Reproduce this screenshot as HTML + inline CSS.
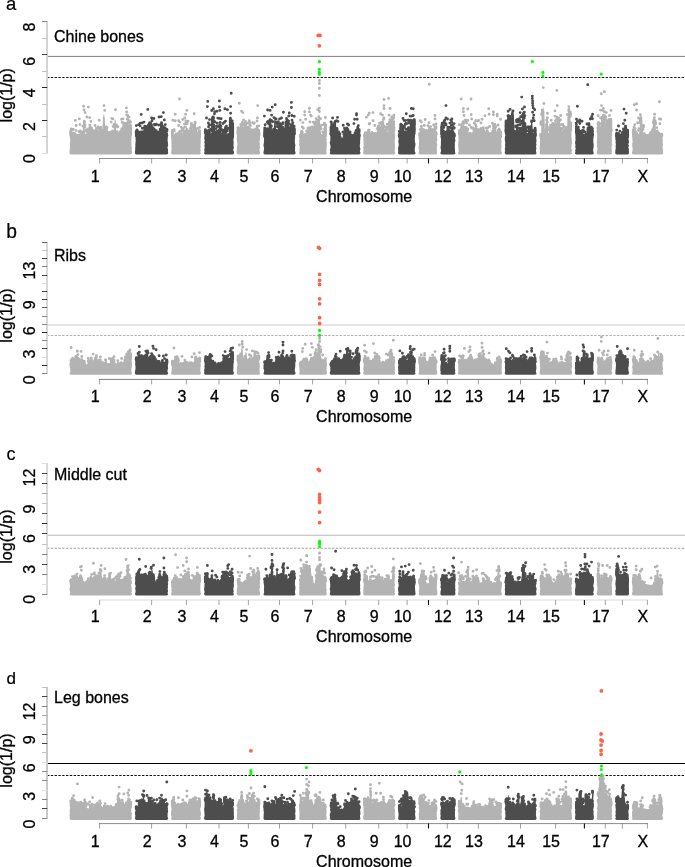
<!DOCTYPE html>
<html lang="en">
<head>
<meta charset="utf-8">
<title>Manhattan plots</title>
<style>
html,body{margin:0;padding:0;background:#fff;}
body{width:685px;height:867px;overflow:hidden;}
svg{display:block;}
.t{font-family:"Liberation Sans",Arial,Helvetica,sans-serif;font-size:16px;fill:#000;stroke:#000;stroke-width:.3px;}
.l{font-family:"Liberation Sans",Arial,Helvetica,sans-serif;font-size:18.5px;fill:#000;stroke:#000;stroke-width:.2px;}
</style>
</head>
<body>
<svg width="685" height="867" viewBox="0 0 685 867">
<rect width="685" height="867" fill="#fff"/>
<g id="panel-a">
<line x1="47" x2="685" y1="56.4" y2="56.4" stroke="#808080" stroke-width="1.0"/>
<line x1="47" x2="685" y1="77.5" y2="77.5" stroke="#1a1a1a" stroke-width="1.0" stroke-dasharray="2.4 1.4"/>
<path d="M71 154.6L69.9 154.1L69.5 153L69.7 152.1L69.5 150.6L69.9 148.8L69.9 146.7L69.9 144.7L69.9 142.7L70.3 141.2L70.2 138.9L69.8 136.9L69.7 135.3L69.5 133.4L70 133.4L70.6 133.5L71.1 133.8L71.7 133.6L72.2 133.6L72.8 133.8L73.3 134.7L73.9 135.6L74.4 135L75 134.9L75.5 135L76.1 135.4L76.6 135.3L77.2 135.3L77.7 134.5L78.3 134L78.8 133.8L79.4 134.2L79.9 134.7L80.5 134.7L81 134.3L81.6 135.3L82.1 134.8L82.7 130.4L83.2 120.2L83.8 119.4L84.3 122L84.9 131.7L85.4 135.2L86 134.6L86.5 133.8L87.1 133.7L87.6 133L88.2 132.5L88.7 132.5L89.3 132.3L89.8 131.9L90.4 132.6L90.9 132.4L91.5 132.9L92 133.5L92.6 133.6L93.1 133.9L93.7 134.3L94.2 134L94.8 134.9L95.3 135.1L95.9 135.4L96.4 135.1L97 135.5L97.5 134.9L98.1 133.3L98.6 132.8L99.2 132.4L99.7 133.3L100.3 133.6L100.8 134.4L101.4 134.4L101.9 134.5L102.5 130.4L103 117.2L103.6 114.8L104.1 114.4L104.7 117.9L105.2 129.6L105.8 134.6L106.3 134.4L106.9 135.1L107.4 135.4L108 135.5L108.5 134.9L109.1 135.1L109.6 135.5L110.2 135.3L110.7 135L111.3 135.2L111.8 134L112.4 133.4L112.9 131.5L113.5 130.6L114 129.7L114.6 120.2L115.1 119.5L115.7 119.9L116.2 131.4L116.8 133.9L117.3 134.9L117.9 135.1L118.4 135.2L119 135.2L119.5 134.9L120.1 134.8L120.6 135.5L121.2 135L121.7 135.5L122.3 135L122.8 134.6L123.4 133.8L123.9 133.3L124.5 132.8L125 132L125.6 131.3L126.1 131.2L126.7 130.9L127.2 129.7L127.8 129L128.3 120.8L128.9 130.1L129.4 131.8L130 132.7L130.5 133.2L131.1 133.7L131.6 133.4L132 133.5L131.8 135L131.5 136.5L131.5 138.4L131.3 139.9L131.4 142.2L131.5 144.4L131.5 145.7L131.9 147.8L131.7 149.6L131.9 151.2L132 153L131.6 154.1L130.5 154.6Z" fill="#b3b3b3"/>
<path d="M71 134.8V130.5M71 134.8V132.9M71 134.9V132.1M72.8 135.1V134.2M75 136.2V134.3M81.6 135.9V132.4M82.1 135.9V132.5M84.3 122.6V121.6M89.8 133.3V127.8M90.9 133.7V129.2M94.2 135.3V134.6M94.8 135.8V133.3M95.3 136.2V135.5M95.9 136.2V131.9M96.4 136.2V129M98.6 133.8V133.1M99.7 134.4V129.7M100.8 135.1V131.4M106.3 135.7V127M107.4 136.2V135.1M108 136.2V132.4M108.5 136.2V133M109.1 136.2V134.8M109.6 136.2V135.2M110.2 136.2V133.2M117.3 136.2V131.7M119.5 136.2V134.1M120.6 136.2V134.1M121.2 136.2V131.6M123.9 134.4V123.2M125.6 132.6V124.2M126.7 131.6V123.3M127.2 130.8V127.9M128.3 122.1V120.9M128.9 131.3V129.5M130.5 134.6V132.6M130.6 134.6V125.7M130.6 134.6V133.2" stroke="#b3b3b3" stroke-width="2.9" stroke-linecap="round" fill="none"/>
<path d="M136.4 154.6L135.3 154.1L134.9 153L134.9 152.1L135.2 150.1L135.2 148.1L135.4 146.6L135.3 144.5L135.5 142.8L135.7 140.5L135.5 139.1L135.6 137L135.4 135L134.9 133.1L135.5 133.5L136 134.2L136.6 135.2L137.1 135.5L137.7 135.4L138.2 135L138.8 134.9L139.3 135.6L139.9 134.1L140.4 132.6L141 132.9L141.5 132.5L142.1 133.4L142.6 133.3L143.2 134.3L143.7 134.7L144.3 134.8L144.8 134.3L145.4 134.1L145.9 133.4L146.5 133.3L147 132.8L147.6 132.8L148.1 132.4L148.7 132.4L149.2 132.7L149.8 132.4L150.3 132L150.9 132.2L151.4 132.4L152 132.8L152.5 132.4L153.1 132.8L153.6 132.4L154.2 132.7L154.7 132.1L155.3 131.9L155.8 132L156.4 132.4L156.9 134L157.5 135.6L158 134.9L158.6 134.8L159.1 135.3L159.7 135L160.2 135.1L160.8 133.8L161.3 131.8L161.9 131.5L162.4 131.1L163 131.6L163.5 132.6L164.1 133.6L164.6 134L165.2 134.5L165.7 135.5L166.3 135.1L166.8 135.6L167.4 135.6L167.9 134.8L168.2 135.1L167.9 136.6L167.7 138.6L167.6 140.7L167.9 142.2L168 144.1L168.2 145.6L167.4 147.5L168.1 149.8L167.9 151.8L168.2 153L167.8 154.1L166.7 154.6Z" fill="#4d4d4d"/>
<path d="M136.3 133.7V131.4M137.7 136.2V132.9M138.2 136.2V131.6M141 133.5V132M142.1 134.1V131.9M143.7 135.5V131.8M144.8 135.5V127.6M145.9 134.8V126.8M147 133.8V128.5M148.7 133.4V127.7M149.8 133.4V132.3M150.3 133.4V125M150.9 133.5V132.5M151.4 133.6V125.1M152.5 133.8V132.2M153.1 133.9V128.3M154.2 133.4V129.2M155.8 133V132M158 136.2V132.1M159.7 136.2V134.8M160.2 136.2V129.3M161.3 133V125.1M163 132.7V128.4M165.7 136.2V135.5" stroke="#4d4d4d" stroke-width="2.9" stroke-linecap="round" fill="none"/>
<path d="M172.5 154.6L171.4 154.1L171 153L171.4 152.1L171.2 150.4L171.7 148.3L171.3 146.7L171.6 144.8L171.3 142.5L171.4 140.5L171.1 138.4L171.1 137L171.2 134.7L171 133.2L171.6 133.7L172.1 134.5L172.7 135.5L173.2 135L173.8 135.6L174.3 135.5L174.9 135.6L175.4 135.5L176 135.6L176.5 135.7L177.1 135L177.6 135L178.2 135.5L178.7 134.2L179.3 133.4L179.8 133.1L180.4 133.4L180.9 134.7L181.5 134.3L182 135L182.6 134.9L183.1 134L183.7 133.1L184.2 132.1L184.8 130.6L185.3 129.5L185.9 129.8L186.4 122.8L187 129.5L187.5 130.6L188.1 132.6L188.6 134.3L189.2 134L189.7 132.9L190.3 131.9L190.8 131.7L191.4 130.8L191.9 131.5L192.5 131.2L193 132L193.6 132.7L194.1 134L194.7 134.1L195.2 133.9L195.8 135.3L196.3 135.1L196.9 135.5L197.4 135.6L198 135L198.5 135.1L199.1 135.4L199.6 135.3L200.2 134.7L200.7 133.3L201 133L201 134.5L200.9 136L200.8 137.6L200.6 139.8L200.9 141.5L200.7 143L200.5 145L200.8 147L200.3 148.8L200.7 150.6L200.3 152.5L201 153L200.6 154.1L199.5 154.6Z" fill="#b3b3b3"/>
<path d="M172.4 134.2V131.5M176.5 136.2V135.6M177.1 136.2V135.6M178.2 136.2V133.5M179.8 133.8V131.6M187 130.4V129.5M188.6 135.5V134.6M189.2 134.8V131.1M193.6 133.7V126.6M194.1 134.6V125.3M194.7 135.1V131.5M195.8 135.9V129.1M196.3 136.2V134M196.9 136.2V135.4M198 136.2V134.1M199.1 136.2V135.3M199.6 136.2V133.7M199.6 134.1V131.1" stroke="#b3b3b3" stroke-width="2.9" stroke-linecap="round" fill="none"/>
<path d="M205.5 154.6L204.4 154.1L204 153L204.6 152.1L204.3 150.1L204.5 148.1L204.7 146.7L204.3 145.3L204.8 143.9L204.2 142.4L204.7 140.7L204.2 138.5L204.4 136.5L204.6 134.7L204 132.8L204.6 132.7L205.1 132.2L205.7 131.8L206.2 131.2L206.8 131.6L207.3 131.3L207.9 132L208.4 132.4L209 133.2L209.5 134.6L210.1 134.5L210.6 134.7L211.2 133.4L211.7 131.1L212.3 130L212.8 128.5L213.4 117.5L213.9 128.5L214.5 130.7L215 132.6L215.6 135.4L216.1 135.1L216.7 135.4L217.2 135.3L217.8 134.5L218.3 132.8L218.9 131.5L219.4 130.7L220 131.8L220.5 133.1L221.1 134.7L221.6 134.8L222.2 135.4L222.7 134.8L223.3 134.8L223.8 134.5L224.4 133L224.9 131.7L225.5 131.7L226 132.8L226.6 135.2L227.1 135.5L227.7 135.2L228.2 135.5L228.8 135.5L229.3 135.5L229.9 133.7L230.4 131.9L231 131.8L231.5 131.8L232.1 134.6L232.6 135.1L233.2 135L233.7 135.2L234 135.6L234 137.1L233.6 138.6L233.4 140.2L233.7 142.2L233.5 144.3L233.6 146.3L233.9 148L233.2 149.8L234 152L234 153L233.6 154.1L232.5 154.6Z" fill="#4d4d4d"/>
<path d="M207.3 132.4V131M207.9 132.8V132.1M209.5 135.3V133.1M212.3 130.9V118.5M212.8 129.5V123M213.4 118.8V117.6M213.9 129.8V125.3M215 133.9V131.8M216.7 136.2V135M219.4 132.1V131.1M220 132.5V125M224.9 133V131.8M225.5 132.9V127.5M228.8 136.2V134.6M230.4 133.3V118.1M232.6 136.2V123.5M232.6 136.2V131.8" stroke="#4d4d4d" stroke-width="2.9" stroke-linecap="round" fill="none"/>
<path d="M238.2 154.6L237.1 154.1L236.7 153L236.7 152.1L236.8 150.1L237.1 148.7L236.8 147.4L237.1 145.7L237.5 144.3L237.1 142.2L237 140.3L236.8 138L236.9 136.4L237.1 134.2L236.7 132.6L237.2 132.7L237.8 133.3L238.4 133.6L238.9 134L239.5 134.7L240 134.7L240.6 133.7L241.1 132.4L241.7 131.3L242.2 130.1L242.8 129.4L243.3 129.1L243.9 129.6L244.4 129.8L245 130.7L245.5 131L246.1 132.6L246.6 132.7L247.2 132.4L247.7 131.3L248.3 130.9L248.8 130.5L249.4 130.5L249.9 130.7L250.5 131.7L251 132.4L251.6 133L252.1 134.5L252.7 135.5L253.2 135L253.8 135.6L254.3 135L254.9 134.8L255.4 134.4L256 133.1L256.5 132.1L257.1 130.9L257.6 131.4L258.2 131.8L258.7 133.4L259.3 133.4L259.8 134.5L260.2 134.6L259.7 136.1L260.1 137.6L259.9 139.3L259.8 140.7L259.5 142.1L259.9 144.2L259.6 145.9L260.2 147.3L259.4 148.9L259.6 150.2L259.9 152.4L260.2 153L259.8 154.1L258.7 154.6Z" fill="#b3b3b3"/>
<path d="M238.1 133.5V127.6M238.1 133.7V132.4M240 135.2V131.5M241.1 133.4V126.8M241.7 132.3V127.9M242.8 130.6V129M243.3 130.3V128.1M245 131.4V128.7M245.5 132.2V121.5M246.1 133.3V131.2M247.2 133.3V131.4M247.7 132.7V131.3M248.3 132V130.8M251 133.5V130.8M251.6 134.3V132.2M253.8 136.2V131.9M256 133.9V130M256.5 132.8V129.3M257.1 132.1V128.2M258.2 133.2V130.1M258.8 134.8V133.2M258.8 135.2V132.1M258.8 135.4V134.1" stroke="#b3b3b3" stroke-width="2.9" stroke-linecap="round" fill="none"/>
<path d="M264.9 154.6L263.8 154.1L263.4 153L263.5 152.1L263.9 150.1L264.1 148.1L263.6 146.5L263.5 144.6L263.9 142.9L263.9 141L264.1 139.2L263.6 137L263.4 135.7L263.9 135.4L264.5 134.8L265.1 133.7L265.6 131.8L266.2 131L266.7 130.8L267.3 131.3L267.8 131.2L268.4 131L268.9 131.1L269.5 130.9L270 131L270.6 131.3L271.1 132.3L271.7 132.3L272.2 132.2L272.8 131.6L273.3 131L273.9 129L274.4 117.1L275 116.6L275.5 117L276.1 130.8L276.6 134.8L277.2 135.5L277.7 135.2L278.3 134.9L278.8 135.6L279.4 135L279.9 135.5L280.5 135.1L281 134.9L281.6 135.4L282.1 135.3L282.7 135.2L283.2 135L283.8 135.2L284.3 135.2L284.9 135.4L285.4 134.9L286 131.8L286.5 130.9L287.1 130.4L287.6 131.9L288.2 131.2L288.7 131.5L289.3 131.6L289.8 131.7L290.4 131.3L290.9 131.6L291.5 131.4L292 131.1L292.6 131.3L293.1 131.5L293.7 132.5L294.2 132.9L294.8 133.4L295.3 133L295.6 133.1L295.2 134.6L295.1 136.6L295.1 138.2L294.9 139.6L294.8 141.9L295.1 144.1L295.5 145.5L294.9 146.9L295.2 148.8L294.9 150.4L295.5 152.2L295.6 153L295.2 154.1L294.1 154.6Z" fill="#4d4d4d"/>
<path d="M264.8 136.2V128M270 132V119.6M271.7 133.6V130.8M276.1 132V130.3M277.2 136.2V134.8M279.4 136.2V128.9M279.9 136.2V132.9M280.5 136.2V123.8M281 136.2V133.4M282.7 136.2V127.9M284.3 136.2V130.3M286 132.8V121.9M286.5 131.5V126.2M287.1 131.5V120.7M287.6 132.9V121.3M288.2 132.6V128.2M290.9 132.3V125M292 132V129.6M294.2 134V129.1M294.2 134V131.6M294.2 134.1V130.7M294.2 134.1V128.6" stroke="#4d4d4d" stroke-width="2.9" stroke-linecap="round" fill="none"/>
<path d="M300.5 154.6L299.4 154.1L299 153L299.6 152.1L299.5 150.4L299.5 148.8L299.7 146.6L299 144.5L299.4 142.8L299 140.8L299.5 138.9L299.2 136.7L299 134.8L299.6 135.4L300.1 134.9L300.7 135.5L301.2 135L301.8 134.8L302.3 135.5L302.9 135.1L303.4 135.4L304 135.1L304.5 134.9L305.1 135.1L305.6 135.4L306.2 135.5L306.7 135L307.3 134.5L307.8 133.2L308.4 133.1L308.9 133.2L309.5 133.4L310 132.6L310.6 133.2L311.1 132.6L311.7 133L312.2 133.9L312.8 135L313.3 135.2L313.9 134.8L314.4 135.6L315 135.3L315.5 132.8L316.1 130.6L316.6 129.2L317.2 119.1L317.7 118.4L318.3 118.5L318.8 118.6L319.4 119.6L319.9 119.8L320.5 130L321 132.9L321.6 135.4L322.1 135.4L322.7 135.3L323.2 134.9L323.8 135L324.3 135L324.9 133.5L325.4 132.3L326 131L326.5 131.8L326.9 132L326.5 133.5L326.8 135L326.2 136.7L326.7 139L326.5 140.9L326.8 142.6L326.8 144.7L326.7 146.2L326.7 147.7L326.5 149.1L326.4 150.6L326.4 152.5L326.9 153L326.5 154.1L325.4 154.6Z" fill="#b3b3b3"/>
<path d="M300.4 136.2V135.5M301.2 136.2V134.2M301.8 136.2V131.1M304.5 136.2V134.8M305.1 136.2V134.5M305.6 136.2V135.3M308.9 134.2V128.8M310 134V133.2M312.2 135V134M312.8 136V127M314.4 136.2V135.6M315 136.1V134.6M315.5 134.1V122.1M316.6 130.2V126.9M324.9 134.2V131.3M325.4 133.1V132.4M325.4 132.7V124.7" stroke="#b3b3b3" stroke-width="2.9" stroke-linecap="round" fill="none"/>
<path d="M331.2 154.6L330.1 154.1L329.7 153L330.3 152.1L329.8 150.1L330.5 147.8L330.5 146L330 144.1L329.7 142.7L330.3 140.8L330.3 138.9L330.3 137.2L330.2 135.3L329.7 133.8L330.2 134.2L330.8 133.1L331.4 132.9L331.9 132.1L332.5 131.6L333 131.2L333.6 131.5L334.1 130.7L334.7 131.1L335.2 129.9L335.8 130L336.3 130.1L336.9 130L337.4 131.1L338 131.2L338.5 131.3L339.1 131.5L339.6 132.7L340.2 134.5L340.7 135.2L341.3 136.1L341.8 138.6L342.4 138.8L342.9 136L343.5 135L344 134.4L344.6 132.9L345.1 130.1L345.7 130.9L346.2 130.7L346.8 130.8L347.3 131L347.9 130.1L348.4 130.9L349 131.9L349.5 134.8L350.1 135.5L350.6 135.3L351.2 134.9L351.7 135.7L352.3 135.5L352.8 135.4L353.4 135.2L353.9 133.7L354.5 133L355 131.8L355.6 131.7L356.1 131.8L356.7 132.1L357.2 132.4L357.8 133L358.3 133.6L358.9 134.7L359.4 135.1L360 135.5L360.5 134.9L359.9 136.4L360.4 137.8L360.3 139.6L360.1 141.6L360.2 143.5L359.8 144.8L359.8 146.5L360.2 147.9L360.4 149.7L359.8 151.1L360.5 153L360.1 154.1L359 154.6Z" fill="#4d4d4d"/>
<path d="M331.1 134.4V127.1M331.4 133.8V131.6M332.5 132.6V128.5M333 132.3V128.5M333.6 132.1V127.1M334.1 131.9V129.9M334.7 131.7V122.6M336.3 130.7V129.1M336.9 131.3V128.4M344.6 133.5V132.1M345.7 131.7V130.5M346.2 131.6V130.3M346.8 131.7V128M347.9 131.4V129.4M350.6 136.2V134.7M356.1 132.5V130.4M357.8 134.3V133.2M358.3 135V133.8M358.9 136V130.7M359.1 136.2V134.5" stroke="#4d4d4d" stroke-width="2.9" stroke-linecap="round" fill="none"/>
<path d="M364.6 154.6L363.5 154.1L363.1 153L363.3 152.1L363.5 150L363.4 148.4L363.1 147.1L363.9 145.8L363.5 143.6L363.5 141.4L363.2 139.4L363.6 137.7L363.1 135.2L363.7 135.2L364.2 135.5L364.8 135.5L365.3 134.5L365.9 133.5L366.4 132.9L367 133L367.5 133.6L368.1 133.6L368.6 133.7L369.2 133.2L369.7 133.1L370.3 133.2L370.8 133.5L371.4 133.5L371.9 134.1L372.5 134.8L373 135.1L373.6 134.7L374.1 135.1L374.7 135.2L375.2 135.1L375.8 135.1L376.3 135.5L376.9 135.2L377.4 133.8L378 133.2L378.5 131.8L379.1 132.1L379.6 132.3L380.2 132.1L380.7 132.5L381.3 131.7L381.8 131.3L382.4 130.4L382.9 129.8L383.5 121.7L384 129.4L384.6 131.1L385.1 132.5L385.7 134.2L386.2 135.6L386.8 134.8L387.3 135.3L387.9 134.5L388.4 132.7L389 131.3L389.5 129.9L390.1 119.8L390.6 119.3L391.2 118.2L391.7 117.8L392.3 117.7L392.8 117.5L393.4 117.6L393.9 129.2L394.5 129.7L395 129.8L395.2 129.7L394.8 131.2L394.6 132.6L395.1 134.6L395.1 136.5L395.1 138.3L394.8 139.9L394.7 141.8L394.9 144L395 145.7L394.9 147.7L395 149.2L394.5 150.9L395.2 153L394.8 154.1L393.7 154.6Z" fill="#b3b3b3"/>
<path d="M364.6 136.2V135.6M364.6 136.2V135.2M364.8 136.2V134.6M365.3 135.5V132.8M367 134.3V133.5M367.5 134.4V132.8M368.6 134.6V130.3M374.1 135.8V135.1M375.8 136.2V134.3M378.5 133.2V126.3M380.2 133.3V128.1M382.4 131.4V122M382.9 130.4V126.5M384.6 131.7V130.3M385.1 133.6V131.1M385.7 135.6V129.7M386.8 136.2V133.3M389.5 130.5V122.1M392.8 118.5V117.4M393.8 130.5V127.6M393.8 130.4V127.2" stroke="#b3b3b3" stroke-width="2.9" stroke-linecap="round" fill="none"/>
<path d="M399.5 154.6L398.4 154.1L398 153L398.2 152.1L398.2 150.5L398 148.6L398.2 147L398.7 145.6L398.7 143.6L398.2 142.1L398.4 140.5L398.7 138.4L398 136.2L398 135L398.6 135L399.1 135.5L399.7 134.5L400.2 133.8L400.8 133.2L401.3 133.1L401.9 133.2L402.4 133.2L403 132.5L403.5 132.4L404.1 131.6L404.6 131.9L405.2 131.8L405.7 130.9L406.3 131.7L406.8 131.5L407.4 132L407.9 132.8L408.5 132.5L409 131.7L409.6 130.7L410.1 129.8L410.7 128.5L411.2 128.3L411.8 129.3L412.3 130.8L412.9 132.6L413.4 133.4L414 133.7L414.5 131.9L415.1 131.2L415.6 130.2L415.3 131.7L415.2 133.1L415 134.9L415 137L414.8 138.3L414.8 140L415 142.2L415.5 143.8L415.3 145.9L414.8 147.9L414.8 149.6L414.8 151.4L415.6 153L415.2 154.1L414.1 154.6Z" fill="#4d4d4d"/>
<path d="M399.4 136.2V135M399.4 136.2V134.5M400.2 134.4V133.5M400.8 134V125.3M401.9 134.4V125.3M402.4 134V130.5M403 133.6V127.9M407.9 134.2V132.1M408.5 133.3V128.2M411.2 129.6V123.1M411.8 130.6V120.6M413.4 134.1V126.6M414.2 131.1V120.3" stroke="#4d4d4d" stroke-width="2.9" stroke-linecap="round" fill="none"/>
<path d="M420 154.6L418.9 154.1L418.5 153L419 152.1L419.2 150.2L418.7 148.8L418.5 146.8L419 145.2L418.9 143L419.1 141.2L418.9 139.5L418.5 138.2L418.8 136.7L418.5 134.5L419.1 134.6L419.6 134.4L420.2 133.8L420.7 133.4L421.3 132.7L421.8 132L422.4 132L422.9 131.5L423.5 132.1L424 132.5L424.6 133.3L425.1 134L425.7 133.8L426.2 134.5L426.8 134.2L427.3 133.8L427.9 133.4L428.4 132.3L429 132.5L429.5 132.8L430.1 132.7L430.6 134L431.2 134.6L431.7 135L432.3 133.4L432.8 132.2L433.4 131.4L433.9 130.5L434.5 130.5L435 131.7L435.6 132.2L436.1 133.8L436.7 133.5L437.2 133.9L437.4 134L437 135.5L437 136.9L437.1 138.4L437.4 140.3L436.6 141.9L436.9 143.3L437.3 145L436.8 147.1L436.9 148.7L436.9 150.6L436.8 152.4L437.4 153L437 154.1L435.9 154.6Z" fill="#b3b3b3"/>
<path d="M419.9 135.7V133.4M421.3 133.6V131M422.4 133V131.8M423.5 133.1V130.9M424.6 134V132.5M426.2 135.5V130.9M428.4 133.5V132.6M429.5 133.4V127.8M431.2 135.4V133.6M431.7 135.8V129.6M432.3 134.7V132.7M433.4 132.6V130.6M433.9 131.8V130.8M434.5 131.7V130.2M435.9 134.7V132.8" stroke="#b3b3b3" stroke-width="2.9" stroke-linecap="round" fill="none"/>
<path d="M441.8 154.6L440.7 154.1L440.3 153L440.8 152.1L441 150.8L440.9 149.4L440.5 147.1L440.9 145.6L440.9 144L440.9 142.2L441 140.2L441 138.5L440.4 136.7L440.8 134.6L440.3 132.7L440.9 132.8L441.4 133L442 132.5L442.5 130.7L443.1 130L443.6 129.3L444.2 129.6L444.7 130.1L445.3 133L445.8 134.2L446.4 134.8L446.9 135.5L447.5 135.5L448 135.1L448.6 134.9L449.1 134.1L449.7 132.7L450.2 131.3L450.8 130.6L451.3 130.2L451.9 130.2L452.4 130.5L453 130.5L453.5 132.1L454.1 134.7L454.6 134.8L455.2 135.5L455.5 135.4L455.2 136.9L454.9 138.5L455.5 140.6L454.8 142.7L454.9 144.8L454.8 146.4L454.8 148L455 150.1L455 152.2L455.5 153L455.1 154.1L454 154.6Z" fill="#4d4d4d"/>
<path d="M441.8 133.9V131.5M442 133.2V124.8M446.4 136.2V131.9M448 136.2V127.1M449.7 133.8V131.5M454.1 136.2V135.5M454.1 136.2V133.9" stroke="#4d4d4d" stroke-width="2.9" stroke-linecap="round" fill="none"/>
<path d="M459.4 154.6L458.3 154.1L457.9 153L458.6 152.1L458.5 150.1L458.4 148.7L458.4 147.2L458.2 145.1L458.4 143.6L458.3 142L458.7 140L458.4 138.2L458.5 136.1L458 134.1L457.9 132.7L458.4 132.7L459 133.2L459.6 132.5L460.1 132.2L460.7 132.5L461.2 131.8L461.8 132.4L462.3 133.4L462.9 134.2L463.4 134.4L464 134.5L464.5 134.6L465.1 133.4L465.6 132.1L466.2 131L466.7 130L467.3 130.5L467.8 131.9L468.4 133.9L468.9 135.1L469.5 135.3L470 135.4L470.6 135.6L471.1 135.6L471.7 135.6L472.2 135.4L472.8 133.5L473.3 133.6L473.9 132.9L474.4 131.4L475 131L475.5 130.4L476.1 131L476.6 132.5L477.2 134L477.7 133.7L478.3 133.6L478.8 133.5L479.4 132.3L479.9 131.9L480.5 131.5L481 130.8L481.6 131.1L482.1 132.6L482.7 133.9L483.2 133.7L483.8 133.7L484.3 134.1L484.9 134.3L485.4 134.7L486 133.7L486.5 133.8L487.1 133.5L487.6 133.5L488.2 133L488.7 133.8L489.3 135.5L489.8 134.9L490.4 135.2L490.9 135L491.5 135.5L492 135.6L492.6 135.3L493.1 134.6L493.7 133.1L494.2 132.9L494.8 132.9L495.3 132.8L495.9 132.7L496.4 132.8L497 132.8L497.5 132.8L498.1 134L498.6 134.1L499.2 134.9L499.7 134.8L500.3 135.4L500.8 135.1L501.4 135.3L501.9 134.9L502 135.4L501.8 136.9L501.2 139L501.5 140.4L501.6 141.9L501.4 143.8L501.4 145.9L501.4 148.1L501.2 149.8L501.4 151.5L502 153L501.6 154.1L500.5 154.6Z" fill="#b3b3b3"/>
<path d="M459.6 133.7V130.5M461.8 133.6V124.4M462.9 134.9V131.8M464 135.9V134.7M464.5 135.5V132.4M466.2 131.8V130M473.3 134.3V133.3M473.9 133.4V132.8M475 132V130.7M475.5 131.7V128.4M477.2 134.8V129.3M477.7 135.1V132.8M479.4 133.3V131.4M479.9 132.5V129.9M481.6 132.4V128.1M482.1 133.6V128.2M483.2 134.9V127.6M487.1 134.5V130.7M487.6 134.4V133.5M488.7 135V133.9M489.3 136.2V134.2M490.4 136.2V135.5M492 136.2V133.3M492.6 136.2V133.9M493.7 134.1V124.7M494.8 134V124.4M495.9 133.9V132.9M498.6 135.3V134.1M499.2 135.9V129.2M499.7 136.2V134.4M500.6 136.2V133.2" stroke="#b3b3b3" stroke-width="2.9" stroke-linecap="round" fill="none"/>
<path d="M506.2 154.6L505.1 154.1L504.7 153L504.9 152.1L505 149.9L504.8 148.4L505.3 146.7L505 144.9L505.3 143L504.9 140.8L504.8 138.6L504.9 137L505.4 135.2L504.7 133L505 131.3L504.7 130.1L505.2 130.7L505.8 130.6L506.4 129.9L506.9 130L507.5 130.1L508 129.9L508.6 129.6L509.1 129.7L509.7 129L510.2 129.3L510.8 128.2L511.3 115.3L511.9 114.2L512.4 113.8L513 113.6L513.5 113.3L514 116.4L514.6 134.5L515.1 133.7L515.7 132.9L516.2 131L516.8 130.7L517.3 130.1L517.9 130.3L518.4 130.7L519 130.8L519.5 130.8L520.1 129.9L520.6 129L521.2 128.8L521.7 128.1L522.3 114.1L522.8 114.6L523.4 114.7L523.9 115.3L524.5 116.5L525 128.6L525.6 129.1L526.1 130.4L526.7 132.6L527.2 133.5L527.8 135.2L528.3 134.8L528.9 135L529.4 135L530 133.9L530.5 131.7L531.1 122.1L531.6 121L532.2 120.4L532.7 130.1L533.3 133.6L533.8 135.2L534.4 135.7L534.9 134.9L535.5 135.5L536 135.2L536.6 134.5L536.4 136L536.2 138L536.4 139.5L536.5 141.3L536.1 143.1L536.5 144.4L536 146.5L536.4 148.6L536 150.2L536.1 152.3L536.6 153L536.2 154.1L535.1 154.6Z" fill="#4d4d4d"/>
<path d="M506.1 131.4V120.9M506.1 131.4V126.7M506.4 131.3V129.6M506.9 131V128.5M508 130.5V128.9M508.6 130.4V115.6M510.2 130V116.5M510.8 129.5V122M516.2 132.4V131.7M517.3 131.5V127.4M520.6 129.8V128.6M521.7 129.2V128.1M525 129.4V125.3M529.4 135.7V130.7M530 135.1V129.8M530.5 132.2V128.8M531.6 121.7V121M535.1 135.8V128.2" stroke="#4d4d4d" stroke-width="2.9" stroke-linecap="round" fill="none"/>
<path d="M541 154.6L539.9 154.1L539.5 153L540.1 152.1L539.9 150.1L539.7 148.3L539.7 146.3L540 144.6L539.8 142.7L540.2 140.6L539.7 138.7L539.8 136.6L539.5 135.2L539.5 133.1L540 133.8L540.6 135.1L541.1 134.4L541.7 114.1L542.2 112.4L542.8 111.6L543.3 110L543.9 106L544.4 113.9L545 133.7L545.5 135.1L546.1 135.5L546.6 135.1L547.2 134.8L547.7 133.1L548.3 132.8L548.8 132.7L549.4 132.9L549.9 134.1L550.5 134.2L551 132.6L551.6 131.9L552.1 131.6L552.7 130.8L553.2 130.2L553.8 130L554.3 130.6L554.9 130.3L555.4 129.9L556 129.4L556.5 119.1L557.1 118.9L557.6 119.2L558.2 129.1L558.7 129.1L559.3 130.4L559.8 130.7L560.4 130.7L560.9 131.2L561.5 131.9L562 131.9L562.6 132.6L563.1 133.2L563.7 134L564.2 135.5L564.8 135.2L565.3 134.8L565.9 135.1L566.4 135.1L567 132.3L567.5 116L568.1 111.7L568.6 112L569.2 112.6L569.7 112.2L570.3 115.7L570.8 129.4L571.4 128.9L571.9 129.6L572.1 129.1L571.6 130.6L571.4 132.5L571.5 134.7L571.3 136.6L571.7 138.5L571.8 140L571.9 141.6L572 143.2L571.7 144.6L571.5 146.3L571.4 148.4L572 150.6L571.4 152.5L572.1 153L571.7 154.1L570.6 154.6Z" fill="#b3b3b3"/>
<path d="M541 136.2V134.4M542.2 113.5V112.5M542.8 112.9V111.7M545.5 136.2V131.5M546.1 136.2V135M546.6 136.2V124.2M547.2 135.4V133.6M550.5 134.9V127M551 134V125.7M552.1 132.2V126.5M552.7 131.8V123.5M554.3 131.4V129.6M554.9 131.3V130.5M555.4 130.9V123.4M558.7 130.5V119M559.8 131.5V130.4M560.9 132.3V129.4M563.7 135.3V132.8M564.2 136.2V134.4M565.9 136.2V127.9M566.4 136.2V132.2M570.3 116.3V115.2M570.6 130.2V124.7" stroke="#b3b3b3" stroke-width="2.9" stroke-linecap="round" fill="none"/>
<path d="M576.4 154.6L575.3 154.1L574.9 153L575.4 152.1L575.2 150.4L575.7 148.5L575.2 147.1L575.5 145.1L575.1 143.2L575.1 141.9L575.6 140L575.4 138.1L575.5 136.4L575.3 134.2L575.3 132.2L574.9 131.2L575.4 131.3L576 131.2L576.5 131.2L577.1 131.6L577.6 131.4L578.2 131L578.7 131.2L579.3 131.8L579.8 131.4L580.4 131.8L580.9 132L581.5 132.8L582 134.2L582.6 135.2L583.1 135L583.7 135.1L584.2 135.1L584.8 135.1L585.3 135.5L585.9 135.2L586.4 135L587 132.5L587.5 132.2L588.1 131L588.6 123.4L589.2 122.8L589.7 121.8L590.3 123.5L590.8 130.4L591.4 132.3L591.9 132.8L592.5 133.8L593 133.8L593.6 134.3L593.9 134L593.6 135.5L593.6 137.4L593.2 139.4L593.4 140.7L593.3 142.6L593.7 144L593.7 146.3L593.4 148.4L593.1 150.1L593.4 152.3L593.9 153L593.5 154.1L592.4 154.6Z" fill="#4d4d4d"/>
<path d="M576.4 132.4V130.6M576.5 132.3V127.2M577.6 132.2V130.8M578.2 132.3V128.8M578.7 132.4V131.3M582 135V132.9M588.1 131.8V127.9M588.6 124.8V123.8M591.4 133V127.3M592.4 134.9V134.3" stroke="#4d4d4d" stroke-width="2.9" stroke-linecap="round" fill="none"/>
<path d="M598.2 154.6L597.1 154.1L596.7 153L596.9 152.1L597.3 150.1L597.5 147.9L596.7 146.5L597.3 144.3L596.8 142.7L597 140.8L597 139L597 137.4L597.2 135.3L597.1 133.3L596.7 131.4L597.2 131.1L597.8 130.7L598.3 130.7L598.9 130L599.4 129.7L600 129.2L600.5 128.8L601.1 118.3L601.6 117.3L602.2 117L602.7 116.8L603.3 116.6L603.8 115.6L604.4 115.6L604.9 115.7L605.5 129.2L606 129.6L606.6 130.4L607.1 129.8L607.7 129.3L608.2 128.9L608.8 128.6L609.3 128.9L609.9 129.1L610.4 130.1L611 130.8L611.5 130.9L612.1 130.3L612.3 131.1L611.8 132.6L612.1 134.5L611.8 136.4L611.9 137.9L611.8 139.3L612.1 141L611.7 143L612.3 144.6L611.5 146.4L611.7 147.8L611.7 149.7L612 151.1L611.5 152.4L612.3 153L611.9 154.1L610.8 154.6Z" fill="#b3b3b3"/>
<path d="M598.2 132V128.8M599.4 130.7V126.5M600 130.2V129.2M602.2 118.1V117.4M603.8 116.9V115.8M604.9 117V115.9M606.6 131.7V121.6M607.1 131.2V121.5M607.7 130.6V126.4M608.8 129.6V127.8M609.3 129.5V120M610.8 131.6V119.1" stroke="#b3b3b3" stroke-width="2.9" stroke-linecap="round" fill="none"/>
<path d="M616.7 154.6L615.6 154.1L615.2 153L615.3 152.1L615.4 149.9L615.8 148.1L615.6 146L615.9 144L615.5 142.5L615.8 140.7L615.2 138.8L615.5 137.3L615.2 134.8L615.8 135.2L616.3 135.3L616.8 134.7L617.4 134.5L617.9 134.6L618.5 134.3L619 134.7L619.6 134.8L620.1 135.1L620.7 135.5L621.2 135.1L621.8 135.4L622.3 135.2L622.9 133.5L623.4 131.3L624 130.1L624.5 123.8L625.1 129.9L625.6 131.2L626.2 134.5L626.7 135.5L627.3 134.9L627.8 134.8L628.4 135.6L628.9 135.2L629 134.4L628.3 135.9L629 137.4L628.4 138.8L628.9 141.1L629 142.4L628.3 144L628.9 146L628.3 147.5L628.9 149.1L628.8 150.7L629 153L628.6 154.1L627.5 154.6Z" fill="#4d4d4d"/>
<path d="M616.7 136.2V135.1M616.7 136.2V133.5M617.4 135.8V135.1M617.9 135.7V133.7M618.5 135.7V133.4M622.9 134.3V133.1M624 131.1V129.2M625.1 131.1V128.6M625.6 132.7V126.1M626.2 135.2V132.3M627.5 136.2V130.3" stroke="#4d4d4d" stroke-width="2.9" stroke-linecap="round" fill="none"/>
<path d="M633.4 154.6L632.3 154.1L631.9 153L632.1 152.1L632.4 150.7L632.7 149.2L632.4 147.1L632.2 145.1L632.2 143.4L632.7 141.6L632.3 140.1L632.5 138.7L632.1 136.4L632.3 134.6L631.9 133.3L632.4 132.8L633 133.5L633.5 133.6L634.1 133.2L634.6 133.6L635.2 133.3L635.7 135.1L636.3 135.4L636.8 134.8L637.4 135.6L637.9 135.5L638.5 135.6L639 134.2L639.6 130.4L640.1 118.8L640.7 117.3L641.2 117L641.8 116.7L642.3 120.1L642.9 130L643.4 133L644 135L644.5 135.2L645.1 135.8L645.6 135.4L646.2 135L646.7 135.2L647.3 134.9L647.8 135.6L648.4 135.3L648.9 135.6L649.5 135.6L650 135.2L650.6 135.7L651.1 135.5L651.7 133.4L652.2 130.6L652.8 124L653.3 121.9L653.9 119.7L654.4 119.5L655 120.7L655.5 122.8L656.1 131.7L656.6 134L657.2 135.4L657.7 134.6L658.3 133.9L658.8 133.2L659.4 133.2L659.9 133.3L660.5 133.6L661 134.2L661.6 134.8L662.1 135.7L662.7 135.3L663.2 134.9L662.7 136.4L662.5 138.7L662.9 140.3L662.5 142.6L663.1 144.5L662.6 145.9L662.7 147.6L662.7 149.1L663.1 150.9L663 152.3L663.2 153L662.8 154.1L661.7 154.6Z" fill="#b3b3b3"/>
<path d="M633.4 134.2V130.5M635.2 134.6V134M636.3 136.2V133.5M637.9 136.2V135.2M640.1 120.1V119.3M644 136.2V133.6M647.8 136.2V135.5M651.1 136.2V132.1M651.7 134.3V132.1M653.9 121V120.2M655 121.4V120.7M655.5 124V122.9M657.2 136.2V131M661 135.6V134.7" stroke="#b3b3b3" stroke-width="2.9" stroke-linecap="round" fill="none"/>
<path d="M71.1 130.5h0M71.2 129h0M71 134.2h0M70.9 132.1h0M71 134h0M70.9 133.3h0M71.1 133.9h0M71.1 133.7h0M72.2 135.1h0M72.1 129.1h0M72.8 134.9h0M73.3 135.7h0M73.5 133.2h0M73.3 129.4h0M75 135.1h0M75 133.8h0M76.1 135.2h0M75.9 135.1h0M76.1 130.6h0M76.6 135.7h0M77.2 136h0M77.7 135.5h0M78.3 135.6h0M79.1 131.5h0M79.3 132.1h0M79.9 135.1h0M80.3 130.9h0M81 131.9h0M81.6 135.8h0M81.8 135.3h0M82.3 133.8h0M82.7 135.2h0M82.9 126.1h0M83.2 135.6h0M84.3 135.9h0M84.4 121.9h0M84.9 135.8h0M84.8 127.3h0M84.9 124.9h0M85.4 135.3h0M86 135.5h0M85.8 131h0M86.5 130h0M87.1 135h0M87.2 131.7h0M87.6 134.4h0M88.2 134.1h0M88.1 128.9h0M89.4 129.9h0M90 131.7h0M89.8 125.1h0M90.4 127.1h0M90.9 134.1h0M91.1 130.7h0M91.5 134h0M91.7 128.3h0M92 134.4h0M92.3 134.3h0M92.4 130.3h0M93 132.2h0M93.8 134.2h0M94.2 130.9h0M94.8 135.4h0M94.8 135h0M95.3 135.6h0M95.4 132.4h0M96.4 135.2h0M96.4 128.2h0M97 136h0M96.8 131.4h0M97.5 135.9h0M98.1 135.3h0M97.9 133.9h0M98.1 127h0M98.6 135.5h0M98.9 128.4h0M99.2 134.6h0M99.2 132.1h0M99.7 133.6h0M100.3 135h0M100.5 127.9h0M101 127.2h0M101.6 132.6h0M101.7 130.2h0M102.5 134.8h0M102.7 130.3h0M104.7 135.2h0M105.8 135.5h0M105.6 128.3h0M106.3 135.5h0M106.4 132.4h0M106.8 131.6h0M107 127.8h0M107.4 135.4h0M107.6 133.1h0M108 135.4h0M108.2 136h0M108.4 134.6h0M109.1 135.7h0M109.2 133.2h0M109.7 134h0M110.7 135.9h0M110.6 132.3h0M111.3 135.8h0M111.4 134.6h0M111.8 135.1h0M111.8 133.2h0M111.8 118.4h0M112.4 135.3h0M112.5 130.9h0M112.9 135.1h0M113.1 126.4h0M112.9 118.9h0M113.5 134.8h0M113.7 127h0M114 133.6h0M114 124.5h0M115.1 134.2h0M116.2 136h0M116.3 126.3h0M116.4 124.9h0M116.8 135.5h0M117 127.1h0M117.3 135.8h0M117.3 133.8h0M117.9 136h0M117.9 126.8h0M119 135.3h0M120.1 136h0M120.2 131.9h0M120.6 135.7h0M121.2 135.7h0M121 135.4h0M121.7 136h0M121.5 131.1h0M121.7 128.9h0M122.3 135.4h0M122.2 135.4h0M122.3 122.5h0M122.8 135.3h0M123.1 127.8h0M123.6 134.6h0M123.9 135.6h0M123.7 132.9h0M124.3 133h0M124.9 123.5h0M125.4 125.1h0M126.1 133.3h0M126.3 127.3h0M126.7 132.1h0M126.7 127.3h0M126.7 114.9h0M127.2 132.4h0M127.3 128.4h0M127.2 119h0M127.7 130h0M128.3 133.4h0M128.3 116.8h0M128.9 133.9h0M128.8 126.2h0M128.9 117.1h0M129.6 130.9h0M129.4 123.3h0M130.2 131.6h0M130.5 134.3h0M130.5 127.6h0M130.5 132.7h0M130.6 125.6h0M130.4 133.2h0M130.6 134.2h0M130.4 129.6h0M83.6 106.2h0M88.4 107.1h0M84 110h0M85.2 112.6h0M75.3 120.4h0M79.3 118.9h0M86.9 117h0M89.7 117.6h0M90.9 121.4h0M99.2 120.2h0M104 105.6h0M104.7 110.4h0M115.5 109.8h0M111.2 122.1h0M126.4 107.9h0M126.7 111.9h0M127.7 115.7h0M121.6 119.3h0M122.9 118.9h0M129.2 120.8h0M130.7 122.1h0M95 125.5h0M79.9 124.6h0M76.1 125.5h0M172.4 135.8h0M172.3 130.7h0M172.4 135.8h0M172.4 135.6h0M172.4 130.5h0M172.7 136h0M173.5 136h0M174.3 135.6h0M174.2 130.9h0M174.1 129.6h0M174.9 135.8h0M176 133.9h0M176.5 134.3h0M177.1 136.1h0M176.9 135.4h0M177.6 135.7h0M178.2 135.9h0M178.1 134.8h0M178.7 125.5h0M179.4 134h0M179.8 135.5h0M180 131.4h0M180.5 132h0M180.9 135.6h0M180.8 133.2h0M181.2 127.1h0M181.5 134.7h0M181.7 130.6h0M182 134.7h0M182.1 129.5h0M182.6 119.6h0M183.1 134.7h0M182.9 128.4h0M183.7 135h0M183.8 132.8h0M184.2 134.5h0M184 130.8h0M184.5 124.1h0M184.8 134.2h0M184.7 127.2h0M185.5 123.7h0M185.9 131.9h0M185.9 123.2h0M185.9 121h0M186.4 132.9h0M187 135.4h0M187.1 123.8h0M187 121.4h0M187.5 134.8h0M187.5 131.5h0M188.1 135.3h0M188.1 121.2h0M188.6 135.2h0M188.5 133.4h0M189.2 134.7h0M189.2 132.6h0M189.7 135.3h0M189.8 133.6h0M190.5 128.3h0M190.8 129.2h0M191.4 133.8h0M191.4 131h0M191.4 123.5h0M192.5 133.6h0M192.2 126.4h0M193 125.3h0M193.6 134.7h0M193.5 133.3h0M194 134.4h0M194.7 135.8h0M194.7 127.1h0M194.7 125.8h0M195.2 134.5h0M195.2 122.9h0M195.6 130.1h0M196.3 135.5h0M196.9 134.1h0M197.4 135.1h0M197.6 132.9h0M197.4 128.4h0M198 135.9h0M198.5 135.8h0M198.4 135.4h0M199.5 132.7h0M199.3 130.6h0M199.6 127.4h0M199.6 135.2h0M199.6 136h0M199.4 131.9h0M179.5 99h0M175.2 114.2h0M185.6 114.2h0M186.9 110.4h0M194.2 113.8h0M172.9 120.2h0M175.2 120.8h0M178.6 120.8h0M179.9 122.1h0M184.7 118h0M195.1 122.1h0M191.3 125.5h0M238.1 133.8h0M238.1 130.8h0M238.1 134.5h0M238.1 131h0M238.1 134.5h0M238.2 132h0M238.3 130.3h0M239.5 135h0M239.3 131.2h0M240 134.5h0M239.9 128.5h0M240.7 133.1h0M241.3 127.6h0M241.7 134.6h0M241.5 127.1h0M242.2 133.7h0M242.2 122.4h0M242.9 125h0M243.3 131.6h0M243.2 129.5h0M243.9 131.9h0M243.7 124h0M244.4 132.3h0M244.5 124.8h0M245 133.3h0M245 126.9h0M245.5 133.2h0M245.5 129h0M246.2 132h0M246.6 133.6h0M246.4 128.2h0M247.2 133.7h0M247.3 128.7h0M247.2 123.2h0M247.6 127.2h0M248.3 133.4h0M248 130.6h0M248.8 133.1h0M248.7 128h0M249.3 128h0M249.9 133.6h0M249.8 125h0M249.8 122.6h0M250.5 134.5h0M250.5 125.6h0M251.1 129.7h0M251.6 135.6h0M251.4 134.2h0M252.1 136h0M252.2 130.1h0M252.8 135.9h0M252.7 122.7h0M253.2 135.2h0M254.3 135.9h0M254.1 129.6h0M254.3 122.9h0M254.9 135.8h0M254.9 130.9h0M256 136h0M256.3 128.9h0M257.1 134.9h0M257.1 126.1h0M257.1 121.1h0M257.6 132.3h0M258.2 134.9h0M258.4 131.3h0M258.7 135.3h0M258.7 130.8h0M258.8 134.3h0M258.7 132.6h0M258.8 125.9h0M258.8 135.2h0M258.8 134.6h0M239.3 103.3h0M257.7 105.6h0M241.6 111.3h0M242.9 112.6h0M257.4 118h0M243.5 119.9h0M249.2 120.8h0M240.7 124.6h0M253.9 123.6h0M300.4 136h0M300.4 135.2h0M300.4 120.1h0M300.7 136h0M301.2 135.9h0M301.4 132.3h0M301.8 135.6h0M302.2 132.5h0M302.3 127h0M302.9 135.6h0M302.9 122.6h0M303.4 128.3h0M304 135.2h0M304.5 135.7h0M305.1 135.6h0M306.1 135.2h0M306.7 135.3h0M306.5 131h0M307.3 135.8h0M307.4 132.9h0M307.8 135.9h0M308 128.2h0M308.4 132.2h0M308.9 134.7h0M308.7 127.7h0M309.3 131.1h0M310 133.2h0M310.2 128.4h0M310 122h0M310.5 133.6h0M310.6 115.3h0M311.1 134.9h0M311.3 130.6h0M311.7 135.1h0M311.5 126.9h0M312.2 135.2h0M312.1 131.6h0M312.8 136h0M312.6 134.8h0M313.3 135.9h0M313.2 128.9h0M313.3 122.2h0M314.1 136.1h0M314.4 135.7h0M314.4 130.2h0M314.4 123.4h0M315 135.6h0M314.9 135.2h0M315.7 131.5h0M315.9 121.8h0M316.1 118.6h0M316.8 121.8h0M317.2 133.7h0M317.7 131.4h0M317.7 109.6h0M318.8 130.3h0M318.8 116.8h0M319.9 135.1h0M320.5 135.7h0M320.3 127.2h0M320.5 118.8h0M321.2 128.8h0M321.6 135.6h0M321.3 135.8h0M321.6 125.2h0M322.7 136.1h0M322.7 131.9h0M323.2 135.8h0M323.8 136h0M323.7 133.6h0M324.3 135.1h0M324.2 132.8h0M324.3 123.3h0M324.9 135.6h0M324.6 128.9h0M325.4 135.9h0M325.4 127.1h0M325.4 117.5h0M325.3 129h0M325.4 133.4h0M325.6 132h0M325.4 132.9h0M325.6 127.2h0M325.5 125h0M309.4 108.5h0M304.7 111.7h0M309.4 111.9h0M304.7 115.1h0M311.3 116.1h0M305.6 119.3h0M318 119.9h0M324 124.6h0M314.2 123.6h0M364.6 136h0M364.8 135.6h0M364.8 135.6h0M365.9 135.7h0M366.4 117.3h0M367 134.9h0M366.7 133.8h0M367.5 133.5h0M368.2 134.4h0M368.6 133.7h0M369.2 133.8h0M369.2 130.3h0M369.7 123.4h0M370.3 134.6h0M370.4 134.1h0M370.8 134.4h0M372 132.5h0M372.5 134.8h0M372.5 135.3h0M373 135h0M373 133.1h0M373.6 135.2h0M373.7 135.8h0M374.7 136.1h0M374.7 135.8h0M375.2 135.5h0M375 135.5h0M375.8 135.4h0M375.6 133.4h0M376.9 135.8h0M376.6 135.4h0M377.3 133.6h0M377.4 128.5h0M378 136.1h0M377.9 129.9h0M378.5 135.1h0M378.3 129.6h0M378.5 126.1h0M379.2 132.6h0M379.4 132.5h0M380.4 132.9h0M380.7 132.8h0M380.8 131.3h0M381.3 132.9h0M381.2 132.2h0M381.2 124h0M381.1 122.7h0M381.7 126.6h0M382.4 133.1h0M382.3 126.8h0M382.8 123h0M383.5 133.2h0M383.5 119.5h0M384 126.1h0M384.6 135.6h0M384.4 126.8h0M385.1 135.5h0M385.3 127.3h0M385.9 134.5h0M386.2 136h0M386.2 130.2h0M386.8 135.3h0M386.7 134.1h0M387 127.1h0M387.2 128.2h0M387.3 124.2h0M387.9 134.4h0M387.9 132.8h0M388.5 128.9h0M389 135.1h0M389 124.8h0M389.5 135.3h0M389.5 129.1h0M390.1 133h0M389.9 119.7h0M390.6 131.8h0M391.7 120.3h0M391.7 116.9h0M393.4 129.5h0M393.8 129.9h0M393.5 124.2h0M393.8 115.8h0M393.8 130.3h0M393.5 129.4h0M393.7 124.6h0M393.8 121.7h0M393.6 125.3h0M393.7 123.6h0M393.5 118.3h0M393.6 117h0M384 99.5h0M388.6 98.4h0M384 105.6h0M384 108.5h0M390.1 108.5h0M369.2 113.2h0M373 112.6h0M368.2 115.1h0M380.6 113.8h0M382.5 115.1h0M389.1 115.1h0M393.9 115.1h0M373 120.8h0M384 118h0M369.2 124h0M374.9 125.5h0M379.6 123.3h0M419.9 135h0M419.9 135h0M419.9 134.7h0M419.9 134h0M420.2 129.6h0M420.7 134.6h0M421.3 134.7h0M421.3 126.5h0M421.9 128.8h0M422.4 133.7h0M422.6 131.2h0M422.9 133.2h0M422.9 130.9h0M423.5 133.9h0M423.7 129.7h0M424 134.9h0M424 132h0M424.6 134.4h0M424.6 131.6h0M425.1 135h0M425.3 133.7h0M425.7 134.5h0M426.2 135.2h0M426.3 130.5h0M426.8 134.5h0M426.8 130.7h0M427.3 134.7h0M427.9 135h0M427.9 125.8h0M428.4 132.5h0M429 131.8h0M429 122.8h0M429.6 133.1h0M430.1 131.9h0M430.4 131.9h0M430.6 126.6h0M431.2 134.7h0M431 130.3h0M431.7 135.3h0M431.6 133.2h0M432.2 129.6h0M432.8 134.7h0M432.8 132.1h0M433.4 135.2h0M433.5 130h0M433.8 130h0M434.5 133.9h0M434.6 129.3h0M435 134.1h0M435 127.2h0M435.6 134.1h0M435.7 129h0M435.9 134.8h0M435.9 132.4h0M435.8 134.2h0M435.9 134.2h0M436 133.9h0M436 128.2h0M435.9 126.9h0M429.3 84.2h0M435 115.5h0M435 118.9h0M425.1 119.5h0M420.4 120.8h0M421.3 122.1h0M424.2 125.5h0M433.6 125h0M436.1 124h0M459.3 132.9h0M459.3 132.9h0M459.4 132.9h0M459.3 124.8h0M459.6 133.7h0M459.3 133.1h0M460.1 133.1h0M460 132.3h0M460.7 134h0M460.8 129.8h0M461.2 134.6h0M461.1 131h0M461.2 99h0M461.8 135.1h0M461.6 132.9h0M462.3 135.3h0M462.3 129.7h0M463 128.9h0M462.9 122h0M463.2 127.2h0M463.4 124.3h0M464 134.9h0M463.7 130.9h0M464.5 135.4h0M464.4 134.3h0M464.5 121.1h0M465.3 127.4h0M465.1 120.3h0M465.7 129.5h0M465.4 122.3h0M466.2 127.4h0M466.2 120.8h0M466.7 134h0M466.7 123.1h0M466.5 120.2h0M467.3 135.9h0M467.3 130.9h0M467.8 136h0M467.9 129.3h0M467.8 120.4h0M468.4 135.4h0M468.6 134.5h0M468.7 133.7h0M469.5 124.9h0M470 135.1h0M470.1 133.4h0M470.3 133.8h0M471.1 135.2h0M471 136.2h0M471.1 127.5h0M471.7 135.5h0M471.6 134.1h0M472.2 136h0M472 128.1h0M473 128h0M473.5 134h0M473.9 135.8h0M473.9 130.2h0M474.4 134.7h0M474.3 123h0M475.2 131.6h0M475.5 134.2h0M475.4 124.4h0M476.1 134.9h0M476.1 126.2h0M475.9 120.5h0M476.6 134.8h0M476.7 132.1h0M477.2 134.9h0M477.2 134.2h0M477.8 130.7h0M477.7 121h0M478.5 129.6h0M478.8 134.9h0M478.8 134.1h0M479.4 134.9h0M479.5 131.8h0M479.9 134.1h0M480 130.6h0M480.6 131.7h0M481 122.9h0M481.4 128.4h0M482.2 132.8h0M482.1 119.2h0M482.7 134.4h0M483.4 132.9h0M483.8 132.3h0M484.3 135.2h0M484.1 131.2h0M484.7 135.3h0M484.9 115.7h0M485.4 135.4h0M485.6 133.1h0M485.8 134.6h0M486 128.1h0M486.5 135.2h0M487.1 134.3h0M487 133.5h0M487.6 135.4h0M487.6 132.4h0M487.6 127.9h0M488.2 135.5h0M488.2 133.7h0M488.9 134.1h0M489.3 135.8h0M489 133.8h0M489.8 135.6h0M490.4 135.3h0M490.5 133.7h0M491.5 135.2h0M491.4 134.6h0M492 135.7h0M492.7 131.5h0M492.9 134.2h0M493.4 134h0M494.4 133.9h0M494.8 125.9h0M495.3 133.1h0M495.1 132.9h0M495.9 133.1h0M495.7 126.5h0M496.4 134.5h0M496.6 132.8h0M497.3 133.7h0M498.1 130.1h0M498.1 125h0M498.6 135.1h0M498.5 131.7h0M499.1 130.5h0M499.7 135.5h0M500.3 135.9h0M500.5 132.4h0M500.6 135.2h0M500.7 132.3h0M500.4 131.8h0M500.6 135.8h0M471 99h0M463.4 108.5h0M467.8 109h0M463.4 111.7h0M464 115.5h0M471.2 114.5h0M488.7 108.8h0M493.4 111.9h0M489.1 114.2h0M493.4 114.7h0M497.2 114.2h0M497.2 116.1h0M500.6 119.3h0M471.6 118.9h0M478.8 120.4h0M465.9 120.8h0M492.5 123.3h0M489.6 126.5h0M541 135.4h0M541 123.4h0M541 135.5h0M540.8 123.6h0M541 121.6h0M541 135.6h0M541.1 135.4h0M541 124.5h0M541.5 114.5h0M542.3 111.3h0M542.2 110h0M542.8 135.5h0M543.3 134.7h0M543.9 135.5h0M543.9 103.5h0M545 135.6h0M544.9 131.5h0M545.5 135.7h0M545.7 132.9h0M546.2 129.3h0M546.6 135.2h0M546.4 132.7h0M546.6 120.1h0M547.4 128.3h0M547.2 122.2h0M547.7 135.5h0M547.5 127.3h0M548.3 135.3h0M548.2 130h0M548.8 134.5h0M549.4 134.9h0M549.9 135h0M550.2 134.7h0M550.5 134.4h0M550.6 131h0M550.5 125.3h0M551 134.5h0M551.6 134.3h0M551.8 128.8h0M552 126.7h0M552.7 133.6h0M552.6 131h0M553.2 129.1h0M553.8 131.8h0M553.8 130.1h0M554.2 129h0M554.9 130.9h0M554.7 131.3h0M555.4 130.4h0M555.5 120.7h0M556.2 119.8h0M556.5 131.2h0M557.1 117.3h0M557.6 130.6h0M558 126h0M558.7 131.3h0M558.7 124.1h0M558.7 118.3h0M559.2 129.9h0M559.8 131.4h0M560.1 130.8h0M560.4 132h0M560.2 127.9h0M560.4 120h0M560.9 124.6h0M561.7 132.5h0M562 134.3h0M562.2 128.6h0M562.6 135.9h0M562.6 124.5h0M563.1 135.9h0M563.3 132.1h0M563.9 130.5h0M563.5 127.4h0M563.9 126.1h0M564.2 132.4h0M564.7 134.3h0M565.3 135.7h0M565.2 133.1h0M565.9 135.1h0M565.9 129.7h0M566.4 135.8h0M566.7 127.4h0M567 135.9h0M566.9 131h0M567.5 135.4h0M567.5 114.5h0M568.1 135.7h0M568.8 110.9h0M568.8 109.6h0M569.2 129.2h0M569.7 129.5h0M570.3 129.8h0M570.3 112.2h0M570.4 128.7h0M570.6 114.6h0M570.8 123h0M570.6 127.9h0M570.6 113.5h0M570.6 129.8h0M570.5 127.1h0M543.3 87.6h0M556.9 90.4h0M557.3 105.6h0M547.4 113.2h0M555 110.9h0M560.7 115.5h0M551.2 120.2h0M547.4 118h0M555 116.1h0M568.9 106.6h0M568.9 109.4h0M598 124.5h0M598.2 131.3h0M598.4 122.7h0M598.2 115.7h0M597.9 127.8h0M598.1 124.7h0M598.9 131.3h0M598.9 122.7h0M599.4 131.7h0M599.4 130h0M600 130.7h0M599.8 123.8h0M600.5 130.7h0M600.6 129.3h0M600.5 110.1h0M601.1 129.6h0M602.2 129.1h0M602.7 118.5h0M603.3 117.6h0M603.8 129.1h0M604.4 130h0M604.4 111.8h0M604.9 131.4h0M605.6 124.4h0M606 131h0M606.2 119.8h0M605.9 117.1h0M606.7 126h0M607.1 131.1h0M606.9 128h0M607.1 128.9h0M607.7 130.8h0M607.9 130.5h0M608.2 131.5h0M608.3 124h0M608.2 123.3h0M608.9 126h0M609.3 130.5h0M609.3 127.2h0M609.2 119.5h0M609.9 130.7h0M609.8 128.1h0M610.6 125.1h0M610.8 131.4h0M610.7 123.3h0M611 130.5h0M611.1 130.4h0M610.8 131.2h0M610.9 131.7h0M611 128.9h0M601.2 93.7h0M604.4 91.8h0M601.5 105.6h0M603.4 108.5h0M602.5 110.4h0M611 110.4h0M606.3 112.6h0M609.5 115.5h0M603.4 115.1h0M600.6 118h0M633.3 130.3h0M633.6 132h0M633.6 129.8h0M633.5 134.2h0M634.1 134.8h0M634 127.1h0M634.4 129.4h0M635.1 128.5h0M635.7 131.8h0M636.3 135.9h0M636.5 133.4h0M636.8 135.1h0M636.9 134.7h0M637.4 135.5h0M637.3 134.4h0M638 136.2h0M638.5 135.1h0M638.5 130.6h0M639 135.9h0M638.9 128.8h0M639.6 135.5h0M639.8 122.4h0M640.1 136.1h0M640.7 134.5h0M641 117.7h0M641.8 133.2h0M642.9 135.3h0M643.1 129.4h0M643.4 136.1h0M643.6 126.7h0M643.6 125.5h0M644.5 135.3h0M644.6 134.3h0M646.7 136.3h0M647.3 135.4h0M647.8 135.5h0M649.5 135.9h0M650.1 136h0M650 133.6h0M650.6 134.2h0M651.1 135.4h0M651.7 135.7h0M652.5 129.8h0M652.8 136.1h0M653.3 133.2h0M653.3 122.6h0M654.4 132.2h0M654.4 117.8h0M655 134.9h0M655.6 123.2h0M656.1 135.9h0M656.1 132.3h0M656.6 135h0M656.6 132.6h0M656.8 127.6h0M657.2 135.5h0M657 132.6h0M658.3 135.6h0M658.8 135.5h0M658.9 133.3h0M659.9 135.8h0M659.9 123.8h0M660.5 135.3h0M661 135.4h0M661.6 134.2h0M661.8 135.5h0M661.8 135.6h0M661.8 134.5h0M659.4 101.8h0M636.6 103.7h0M634.3 104.7h0M636.6 110h0M654.6 114.2h0M640.4 114.7h0M659.4 118.9h0M660.7 119.3h0M638.5 118h0M634.7 124.6h0M637.6 122.7h0M319.4 80.5h0M319.4 83.5h0M319.4 88.2h0M319.4 95.5h0M319.4 108.3h0M309.5 108.3h0M319.4 111.5h0" stroke="#b3b3b3" stroke-width="2.9" stroke-linecap="round" fill="none"/>
<path d="M136.3 135.7h0M136.3 131.8h0M136.3 125.6h0M136.3 135.3h0M136.3 135.8h0M136.6 135.2h0M137.1 136h0M137.1 134.1h0M137 130h0M137.7 135.7h0M139.9 135.9h0M139.6 134.6h0M140.5 132.6h0M140.1 125.9h0M140.7 133.4h0M141.5 134h0M141.4 132.8h0M142.1 134.5h0M142.3 128.3h0M142.1 122.9h0M142.8 133.1h0M143.2 134.8h0M143 134.9h0M143.7 135.3h0M144.5 134.2h0M144.8 132.5h0M144.9 127.4h0M144.8 126.2h0M145.4 135.3h0M145.5 134.4h0M145.6 127h0M145.9 134.7h0M145.9 134.1h0M146.6 131.5h0M146.9 130.1h0M147.4 130.7h0M148.1 133.7h0M147.9 127.5h0M148.1 125.4h0M148.7 133.2h0M148.7 127.1h0M149.2 133.2h0M149.2 129.5h0M149.8 132.7h0M149.9 128.9h0M150.3 133.2h0M150.4 130.5h0M150.9 132.9h0M150.9 123.5h0M151.4 133.6h0M151.3 128.7h0M152 133.2h0M152.2 131.9h0M152.5 133.1h0M152.5 127.7h0M153.1 132.9h0M152.9 132h0M153.6 133.5h0M153.8 131.2h0M154.2 133.3h0M153.9 132.1h0M154.2 124.4h0M154.5 131.3h0M155.5 124.9h0M156.2 130.8h0M156.4 124.3h0M156.9 133.6h0M157.5 135.8h0M158 135.5h0M158.6 125.1h0M159.1 136h0M160.1 132h0M161.3 116.6h0M161.9 135.7h0M162 127.6h0M161.9 124.3h0M162.4 134.4h0M163 134.2h0M162.7 132.5h0M163.5 135.6h0M163.4 126.8h0M164.1 135.6h0M163.9 130.7h0M164.6 135.2h0M164.8 132.1h0M165 130.6h0M165.2 127.9h0M165.7 135.7h0M165.8 134.7h0M166.3 135.7h0M166.2 133h0M166.8 135.3h0M167 130.8h0M167 129.5h0M166.8 135.6h0M166.6 133.6h0M166.8 135.3h0M147.8 109.4h0M141.2 114.4h0M163.4 112.6h0M159 117h0M151.6 118h0M153.9 118.5h0M164.3 119.9h0M144 122.1h0M140.2 123.1h0M149.7 122.7h0M154.8 125h0M161.5 122.7h0M165.3 124.6h0M138.7 124.6h0M152 120.8h0M149.1 124h0M160.6 124.6h0M205.4 132.8h0M205.2 131.9h0M205.4 132.6h0M205.4 130h0M205.4 129.7h0M205.5 132.1h0M206.2 133h0M206 132.2h0M206.8 133.3h0M206.7 131.8h0M207.5 131.7h0M207.9 135h0M208.4 134.8h0M208.6 127h0M208.4 122.9h0M208.8 130.4h0M209 124.9h0M209.3 131.2h0M209.5 119.6h0M210 130.4h0M210.5 129.4h0M211.2 134.9h0M211.2 129.6h0M211.3 125h0M211.6 129.7h0M211.7 110.5h0M212.3 134.9h0M212.5 120.5h0M213 119.6h0M212.8 117.2h0M213.4 108.7h0M213.9 135.7h0M213.9 128.8h0M214.4 121.4h0M214.5 113.8h0M215 122.1h0M214.8 132.9h0M215.8 132.7h0M215.5 134.4h0M216.1 135.7h0M216 136h0M216.1 128.6h0M216.5 132.2h0M216.5 126.1h0M217.2 135.5h0M217 133.6h0M217.3 131.2h0M217.2 123.2h0M217.8 135.4h0M217.8 135.5h0M217.8 118.1h0M218.3 135.3h0M218.2 126.6h0M219.1 132.4h0M219.4 134.6h0M219.4 131h0M219.3 130.3h0M219.4 118.4h0M220 136.1h0M220.1 122.5h0M219.9 125.2h0M220.5 135.2h0M220.3 126.3h0M221.1 135.6h0M220.9 126.4h0M221.1 118.7h0M221.4 129.5h0M222.2 135.6h0M222.4 133.6h0M222.7 135.6h0M222.7 131.2h0M223.3 135.3h0M223.5 132.5h0M223 130.2h0M223 123.5h0M223.8 135.8h0M223.9 130.8h0M223.7 132.8h0M224.4 135.6h0M224.2 122.6h0M224.5 122.3h0M224.9 135.1h0M224.9 131h0M224.9 108.7h0M225.5 135.4h0M225.5 121.1h0M226 135.8h0M225.8 129.3h0M226.3 131.6h0M226.4 126.1h0M227.1 135.2h0M227.3 130.9h0M227.7 135.3h0M227.5 135h0M228.3 128.3h0M228.8 135.3h0M228.8 136.2h0M229.1 128.4h0M229.9 133.4h0M230.1 124.7h0M230.6 122.3h0M230.7 128.6h0M231.1 131h0M231.4 129.3h0M231.6 130.9h0M232.1 135.2h0M232.1 121.2h0M232.2 121h0M232.6 135.6h0M232.7 131.4h0M232.6 135.9h0M232.6 133.1h0M232.6 125.1h0M232.6 135.6h0M232.6 132.4h0M232.6 128.2h0M232.4 131.3h0M231.2 93.3h0M207.8 101.4h0M219.4 100.9h0M207.4 106.6h0M219.4 106.9h0M230.6 106.6h0M227.4 109.8h0M214.7 111.7h0M216.9 111.3h0M219.8 110.4h0M206.5 118h0M213.1 117h0M230.6 113.2h0M264.8 135.8h0M264.6 133.6h0M264.8 135.5h0M264.9 135h0M264.8 135.6h0M264.8 134.7h0M265.1 135.4h0M265.1 131.4h0M265.2 124.8h0M265.6 135.4h0M265.5 130.2h0M266.3 131.4h0M266.8 131h0M267.4 128.7h0M267.7 132.1h0M268 121.4h0M268.4 132.1h0M268.3 123.5h0M268.9 131.7h0M268.9 129.9h0M269.5 132.6h0M269.3 122.7h0M270 133.1h0M270.1 131.6h0M270.7 125.8h0M270.6 120.1h0M271.1 132.5h0M270.9 127.7h0M271.4 126h0M271.7 120.8h0M272.2 132.6h0M272.1 132.5h0M272.2 107.1h0M272.8 132.8h0M272.7 121.8h0M273.3 130.4h0M273.8 129.1h0M273.9 117.6h0M275 135.3h0M275.5 135.9h0M276.1 135.6h0M276 122.3h0M276.1 118.9h0M276.8 130.8h0M277.3 126.8h0M277.2 123.8h0M277.7 135.8h0M277.8 134.2h0M277.6 124.8h0M278.1 133.4h0M278.3 121.6h0M278.8 135.9h0M278.7 127.1h0M279.4 135.7h0M279.5 129.9h0M279.2 133.6h0M279.4 123.9h0M279.7 133.7h0M280.3 131h0M281 136h0M281 125.7h0M281.2 127h0M281.6 135.3h0M281.5 131.5h0M281.7 131.7h0M281.9 135.4h0M282.3 135.2h0M282.7 135.5h0M282.8 127.4h0M282.6 123.9h0M282.9 122.7h0M283.2 135.5h0M283.1 135.1h0M283.8 136h0M283.8 130.6h0M284.4 132h0M284.8 129.2h0M285.4 136.1h0M285.3 134.9h0M286 135.1h0M286.2 126.8h0M286.5 118.5h0M286.6 119.1h0M287.1 135.2h0M287.1 122.9h0M286.9 128.1h0M287.5 131.2h0M288.4 131.9h0M287.9 120.5h0M288.7 132.7h0M288.6 121.1h0M288.9 128h0M288.7 116h0M289.3 132.4h0M289.5 130.3h0M289.2 123.6h0M289.3 112.9h0M289.8 132.3h0M289.9 128.1h0M290.4 131.7h0M290.1 128.6h0M290.9 132h0M291.1 130.8h0M291.5 132.6h0M291.4 129h0M292 132.6h0M292.1 126h0M292 120.3h0M292.8 122.7h0M293.1 133.3h0M292.9 131.5h0M293.7 133h0M293.8 128.3h0M294.1 126.2h0M294.2 133.2h0M294.2 133.2h0M294.1 133.2h0M294.2 133.6h0M294.3 130.4h0M294.2 116.2h0M275.2 104.7h0M267.6 110h0M270.1 110.4h0M264.4 116.1h0M271.6 115.1h0M267.2 122.1h0M283.4 112.3h0M279.6 118.9h0M291.4 102.4h0M291.4 107.5h0M291.8 115.5h0M281.5 118h0M292.3 124.6h0M293.3 126.5h0M331.3 130.5h0M331.1 134.6h0M331.3 134h0M331.1 122h0M331.1 133.8h0M331.4 127.2h0M331.4 134.6h0M331.4 122.7h0M331.9 133.8h0M331.9 125.9h0M332.3 131h0M333 133h0M333.2 126.4h0M333.6 132.7h0M333.4 127.2h0M334.1 128.5h0M334.8 131.5h0M335.2 131.5h0M335 130.6h0M335.2 121.4h0M336.5 130.3h0M336.9 131.7h0M336.7 130.3h0M337.4 132h0M337.7 131.9h0M338.5 135h0M338.6 131.9h0M340.2 138.9h0M340 133.9h0M341.3 139.5h0M342.4 139.3h0M342.9 139.2h0M342.9 131.9h0M343.5 139.4h0M343.9 134.5h0M344.6 136.6h0M344.4 133.1h0M344.8 129.5h0M344.5 128.3h0M344.9 129.5h0M346.2 133.3h0M346.8 131.1h0M347.9 134.7h0M348.4 135.8h0M349 135.7h0M349.6 134h0M350.1 135.5h0M350.1 132h0M350.7 135.4h0M352.3 135.8h0M353.9 135.2h0M353.9 123.6h0M354.5 135.1h0M355 135.7h0M355 133h0M355.6 134.5h0M356.1 133.8h0M356.7 134.4h0M356.6 132.1h0M357.2 135.7h0M357.1 130.4h0M357.2 119.2h0M357.8 135.6h0M357.7 133.9h0M357.6 128.6h0M357.8 127.3h0M358.4 131.4h0M358.3 125.7h0M358.8 135.1h0M359.1 135.6h0M359.1 129.7h0M359.1 135.4h0M358.9 136.2h0M359.1 136h0M359.1 130.5h0M332.6 118h0M337.5 117.4h0M336.6 120.8h0M337.9 121.4h0M331.6 125h0M333.7 124.6h0M343.2 125.2h0M347.4 124h0M348.7 125h0M356.5 113.8h0M356.5 115.1h0M354.6 119.3h0M399.4 135.7h0M399.3 131.5h0M399.7 135.3h0M399.4 135.1h0M399.2 135.3h0M400.8 128.6h0M401.1 127.8h0M401.9 133.9h0M401.6 131.4h0M402.4 134.2h0M402.4 131.7h0M403 126.3h0M403 118.5h0M403.5 133.4h0M403.6 127h0M404.1 133h0M404.1 120.5h0M404.6 133.4h0M404.5 127.2h0M405.2 132.2h0M405.2 124.3h0M405.7 132.8h0M405.9 123.3h0M406.2 129.4h0M406.3 113.8h0M406.8 134h0M406.9 123.6h0M407.4 133.4h0M407.3 129.1h0M407.9 133.3h0M408 132.1h0M407.9 120.1h0M408.5 133.3h0M408.5 130.9h0M408.4 127.7h0M408.7 121.5h0M408.7 120.2h0M409 133.1h0M409.1 122.9h0M408.9 128.4h0M409.6 128.3h0M409.7 128.7h0M410.1 132.6h0M410.2 128.5h0M410.1 116.1h0M410.7 131.5h0M410.5 120.1h0M411.2 132.2h0M411.4 125h0M411.3 124.5h0M411.8 133.6h0M411.7 121.7h0M412.3 133.2h0M412.4 128.1h0M412.4 131.3h0M412.9 134.1h0M412.6 128.4h0M412.7 133.3h0M413.4 134.1h0M413.5 130.8h0M414 133.6h0M414 128.7h0M414.2 122h0M413.9 120.8h0M414.2 133.5h0M414.1 129.1h0M413.9 131.6h0M414.2 119.8h0M414.2 133.5h0M414.3 124.3h0M414.2 122h0M405.3 120.4h0M400.9 124.2h0M405.3 124.6h0M411.3 108.5h0M413.2 108.7h0M411.8 116.1h0M413.2 115.5h0M441.8 132.8h0M441.9 131.8h0M441.5 129.9h0M441.8 133.8h0M441.6 127.6h0M442 133.2h0M441.8 127.1h0M442.2 123.2h0M442.5 132.8h0M442.4 127.1h0M443.1 132.9h0M443.1 126.9h0M443.8 127.6h0M444 125.4h0M444.8 122.9h0M444.7 120.3h0M445.3 135.2h0M445.4 132.4h0M445.8 135.9h0M445.7 135.6h0M446 125h0M445.9 123.8h0M446.2 132.4h0M446.9 135.7h0M447 135.6h0M447.5 135.3h0M447.4 132.7h0M447.5 119h0M448.4 134.9h0M449 130.6h0M449.5 133.6h0M449.9 123.1h0M450 127.1h0M450.8 134.1h0M450.8 128.1h0M450.8 119.9h0M451.5 125.3h0M451.3 120.5h0M451.9 132.5h0M452 129.7h0M451.9 118.9h0M452.6 128.3h0M453 135.4h0M452.9 131.7h0M453.5 135.5h0M453.4 127.5h0M454.1 135.5h0M454.2 127.8h0M453.9 135.3h0M454.1 128.3h0M454.1 123.6h0M454.1 135.8h0M453.8 134h0M446 105.6h0M446 118h0M444.1 121.4h0M451.7 122.1h0M453.2 124.6h0M506.1 130.3h0M506.1 131.1h0M506.1 130.9h0M506.2 130.8h0M506.1 130.8h0M506.2 126h0M506.3 129.9h0M506.4 130.4h0M506.2 126.7h0M507 130.8h0M507.3 128.4h0M507.2 121.6h0M508 130.7h0M507.9 130.1h0M508 116h0M508.6 130.6h0M508.6 124.1h0M508.6 122.8h0M509.1 129.8h0M509.3 128.9h0M509.2 124.4h0M509.7 129.8h0M509.8 123.6h0M510 128h0M510.8 129.9h0M510.6 119.1h0M511.3 129.3h0M511.9 129.6h0M512.4 129h0M512.2 114.3h0M512.6 112.3h0M513 110.9h0M514 134.9h0M514.4 131.3h0M515.3 133.4h0M515.7 126h0M515.6 126.7h0M516.2 134.4h0M516.5 120.3h0M516.8 134.3h0M516.6 121.7h0M517.5 119.4h0M517.9 125.1h0M518.3 122h0M519.2 131.7h0M518.9 119h0M519.5 131.2h0M519.5 128.3h0M520.1 130.9h0M519.9 120.5h0M520.2 124.8h0M520.1 112.6h0M520.6 131.3h0M520.7 116.7h0M520.8 123.4h0M521.2 131.3h0M521.1 129h0M521.9 121.4h0M521.9 117h0M521.7 97.1h0M522.3 129.3h0M522.7 115.2h0M523.4 128.9h0M523.4 113.4h0M523.9 129.1h0M523.8 115.6h0M523.9 112.9h0M524.5 106.9h0M525 132.4h0M524.9 123.5h0M524.9 123.8h0M524.8 115.8h0M525.6 134.4h0M525.5 128.5h0M526.1 134.7h0M525.9 130.3h0M526.7 127.6h0M527.2 135.3h0M527.2 130.9h0M527.8 135.6h0M527.9 126.9h0M527.9 134.5h0M528.3 135.9h0M528.4 127h0M528.9 135.2h0M529.1 128.7h0M529.3 131.3h0M529.8 129.5h0M530.7 126.6h0M531.6 134.5h0M532.2 135.4h0M532.6 130.5h0M533.1 131h0M533.3 120.6h0M533.8 135.7h0M534.2 134.1h0M535.1 135.3h0M535.1 135.6h0M535.4 134.1h0M535.1 130.6h0M535 135.2h0M510.1 109.4h0M508.2 111.3h0M512.4 115.1h0M532.3 96.1h0M532.3 98.4h0M532.6 100.9h0M532.6 103.2h0M532.8 105.6h0M533.2 107.9h0M534.7 109.8h0M532.6 112.3h0M533.8 115.1h0M533.2 118h0M534.2 120.8h0M522.4 109h0M524.3 112.3h0M522.8 115.1h0M519.9 119.9h0M524.3 118h0M508.5 119.9h0M576.4 131.9h0M576.6 128.8h0M576.5 126.9h0M576.4 124.5h0M576.2 123.2h0M576.6 131.6h0M577.1 131.5h0M577.6 132.1h0M577.6 121.4h0M578.3 127.1h0M578.7 131.7h0M578.8 130.4h0M579.3 131.9h0M579.8 123.5h0M580.4 134.8h0M580.4 131.5h0M580.9 135.3h0M581.2 132.1h0M581.5 135.9h0M582 121.2h0M582.6 135.7h0M582.6 130.4h0M583.7 135.5h0M583.7 130.6h0M584.2 135.7h0M584.2 136.1h0M584.2 132.1h0M585.3 135.5h0M585.3 132.3h0M585.9 135.5h0M585.8 135.1h0M586.4 135.2h0M586.3 134.2h0M587 124h0M587.5 135.1h0M588.1 135.3h0M588.1 129.5h0M589.2 132.5h0M590.3 119h0M590.9 128.2h0M591.4 134.1h0M591.2 128.5h0M591.9 134.5h0M592.6 131.2h0M592.4 118.8h0M592.4 133.3h0M592.4 134.2h0M592.4 134.5h0M592.5 128.7h0M587.7 84.7h0M577.4 106.2h0M592.6 114.2h0M591.7 116.4h0M590.5 118.9h0M576.5 119.3h0M579.7 119.9h0M579.3 121.2h0M583.5 127.4h0M616.7 133.6h0M616.7 135.3h0M616.7 136.1h0M616.7 130.1h0M616.8 135.3h0M617.4 135.2h0M617.2 135.4h0M618.5 135.7h0M618.5 126h0M619 135.6h0M619.9 131.1h0M620.1 135.9h0M620.7 135.5h0M621.8 135.9h0M622 133.4h0M622.3 136h0M622.6 132.5h0M622.9 135.4h0M623.4 135.5h0M623.5 128.9h0M623.4 123.6h0M624 109.1h0M624.5 134.5h0M625.1 136h0M625 129.8h0M625.6 135.2h0M625.7 130.1h0M626.2 135.8h0M626.1 134.1h0M626.7 135.4h0M626.9 131.8h0M627.3 135.2h0M627.2 136.2h0M627.3 130.4h0M627.5 135.5h0M627.5 135.1h0M627.7 132.1h0M627.3 135.3h0M627.5 135.8h0M627.7 135.4h0M626.2 113.2h0M624.8 120.2h0" stroke="#4d4d4d" stroke-width="2.9" stroke-linecap="round" fill="none"/>
<path d="M319.4 61.7h0M319.4 69.3h0M319.4 72.4h0M319.4 74.2h0M532.3 61.6h0M542.9 72.4h0M542.9 76.1h0M601.2 74.1h0" stroke="#00ff00" stroke-width="3.2" stroke-linecap="round" fill="none"/>
<path d="M318.2 35.4h0M320 35.4h0M319.4 45.8h0" stroke="#ff6347" stroke-width="3.8" stroke-linecap="round" fill="none"/>
<line x1="47" x2="47" y1="21.5" y2="153.7" stroke="#d4d4d4" stroke-width="2"/>
<path d="M42 153.5H47.2" stroke="#dedede" stroke-width="1" fill="none"/>
<path d="M42 136.5H47.2M42 104.5H47.2M42 71.5H47.2M42 38.5H47.2" stroke="#c2c2c2" stroke-width="1" fill="none"/>
<path d="M42 120.5H47.2M42 87.5H47.2" stroke="#2a2a2a" stroke-width="1" fill="none"/>
<path d="M42 54.5H47.2" stroke="#444" stroke-width="1" fill="none"/>
<path d="M42 21.5H47.2" stroke="#858585" stroke-width="1" fill="none"/>
<text class="t" text-anchor="middle" transform="translate(35.1 158.5) rotate(-90)">0</text>
<text class="t" text-anchor="middle" transform="translate(35.1 126.5) rotate(-90)">2</text>
<text class="t" text-anchor="middle" transform="translate(35.1 92.8) rotate(-90)">4</text>
<text class="t" text-anchor="middle" transform="translate(35.1 61.4) rotate(-90)">6</text>
<text class="t" text-anchor="middle" transform="translate(35.1 27.1) rotate(-90)">8</text>
<text class="t" text-anchor="middle" transform="translate(11.6 95.3) rotate(-90)">log(1/p)</text>
<line x1="99" x2="648" y1="158.5" y2="158.5" stroke="#909090" stroke-width="1.0"/>
<path d="M99.6 158.5V163.5M151.6 158.5V163.5M186.4 158.5V163.5M219 158.5V163.5M248.4 158.5V163.5M279.5 158.5V163.5M312.6 158.5V163.5M345.7 158.5V163.5M378.7 158.5V163.5M407.1 158.5V163.5M447.3 158.5V163.5M478.4 158.5V163.5M520.5 158.5V163.5M555.6 158.5V163.5M605.3 158.5V163.5M622.4 158.5V163.5M647.4 158.5V163.5" stroke="#555" stroke-width="0.55" fill="none"/>
<path d="M428.5 158.5V163.5M584.4 158.5V163.5" stroke="#111" stroke-width="1.1" fill="none"/>
<text class="t" text-anchor="middle" x="95.1" y="182.3">1</text>
<text class="t" text-anchor="middle" x="147.1" y="182.3">2</text>
<text class="t" text-anchor="middle" x="181.9" y="182.3">3</text>
<text class="t" text-anchor="middle" x="214.5" y="182.3">4</text>
<text class="t" text-anchor="middle" x="243.9" y="182.3">5</text>
<text class="t" text-anchor="middle" x="275" y="182.3">6</text>
<text class="t" text-anchor="middle" x="308.1" y="182.3">7</text>
<text class="t" text-anchor="middle" x="341.2" y="182.3">8</text>
<text class="t" text-anchor="middle" x="374.2" y="182.3">9</text>
<text class="t" text-anchor="middle" x="402.6" y="182.3">10</text>
<text class="t" text-anchor="middle" x="442.8" y="182.3">12</text>
<text class="t" text-anchor="middle" x="473.9" y="182.3">13</text>
<text class="t" text-anchor="middle" x="516" y="182.3">14</text>
<text class="t" text-anchor="middle" x="551.1" y="182.3">15</text>
<text class="t" text-anchor="middle" x="600.8" y="182.3">17</text>
<text class="t" text-anchor="middle" x="642.9" y="182.3">X</text>
<text class="t" text-anchor="middle" x="364.1" y="201.8">Chromosome</text>
<text class="t" x="54" y="42.1">Chine bones</text>
<text class="l" style="font-size:18.5px" x="6" y="10.3">a</text>
</g>
<g id="panel-b">
<line x1="47" x2="685" y1="324.9" y2="324.9" stroke="#e4e4e4" stroke-width="2.0"/>
<line x1="47" x2="685" y1="335.5" y2="335.5" stroke="#a8a8a8" stroke-width="0.9" stroke-dasharray="2.4 1.4"/>
<path d="M71 374.7L69.9 374.2L69.5 373.1L70.3 372.2L70.3 370.1L70.1 368.3L69.7 366.3L69.5 364.1L70 364L70.6 362.8L71.1 361.8L71.7 360.4L72.2 359.6L72.8 359L73.3 359.6L73.9 359.1L74.4 359L75 357.5L75.5 356.6L76.1 356L76.6 356.6L77.2 357.6L77.7 358.6L78.3 360.8L78.8 362.4L79.4 363.2L79.9 361.4L80.5 360.6L81 359.7L81.6 359.4L82.1 359.8L82.7 360.5L83.2 361.5L83.8 362.7L84.3 363L84.9 364.5L85.4 365L86 365.9L86.5 365.9L87.1 364.3L87.6 362.8L88.2 361.6L88.7 361.7L89.3 360.7L89.8 360.8L90.4 360.4L90.9 360.2L91.5 360.6L92 360.6L92.6 361L93.1 361.6L93.7 361.5L94.2 361.1L94.8 360.3L95.3 360.7L95.9 360.4L96.4 360.4L97 361.9L97.5 362.3L98.1 363.1L98.6 363.8L99.2 363.4L99.7 363.4L100.3 362.4L100.8 361.3L101.4 361.8L101.9 362L102.5 363.2L103 364.6L103.6 365.8L104.1 365.6L104.7 364.3L105.2 363.7L105.8 362.9L106.3 363L106.9 362.8L107.4 363.8L108 364.3L108.5 364.1L109.1 364.5L109.6 363.4L110.2 362.8L110.7 361.8L111.3 361L111.8 360.9L112.4 360.8L112.9 360.8L113.5 361.3L114 362.4L114.6 362.6L115.1 363.6L115.7 363.9L116.2 364.2L116.8 364.9L117.3 364.9L117.9 364.7L118.4 365.4L119 364.7L119.5 362.8L120.1 362.3L120.6 361.2L121.2 360.9L121.7 361.3L122.3 361.9L122.8 363.1L123.4 364.2L123.9 364.7L124.5 363.7L125 362L125.6 359.7L126.1 358.5L126.7 358.1L127.2 357.3L127.8 356.7L128.3 355.5L128.9 351.8L129.4 352.3L130 355.7L130.5 357.9L131.1 357.8L131.6 357.5L132 357L131.8 358.5L131.6 360.3L131.8 361.9L132 363.6L131.9 365.1L131.8 367.2L131.3 369.5L131.3 371L132 373.1L131.6 374.2L130.5 374.7Z" fill="#b3b3b3"/>
<path d="M72.2 360.7V359.3M76.1 357.2V356.3M78.3 362V358.7M78.8 363.5V359.1M80.5 361.3V360M84.3 364.2V362.1M86 366.9V365.6M86.5 366.9V366.3M95.3 361.3V358.4M95.9 361.3V359.4M96.4 361.8V360.9M97.5 363.6V361.3M99.2 364.6V362.1M100.3 363.4V361.6M102.5 364.4V362.6M105.8 363.9V362.6M109.1 365V364.4M111.3 362.1V359.2M111.8 361.7V360.3M112.4 361.5V360.9M114 363.2V362.3M116.8 365.6V364.6M117.9 366V365.3M118.4 366.3V364.2M124.5 364.4V363.1M125 362.8V359.8M125.6 361V356.8M126.7 359V356.2M127.2 358.4V353.9M128.3 356.9V355.2M129.4 353.1V352.3M130.5 358.5V353.6M130.6 358.4V354" stroke="#b3b3b3" stroke-width="2.9" stroke-linecap="round" fill="none"/>
<path d="M136.4 374.7L135.3 374.2L134.9 373.1L134.9 372.2L135.1 370.8L135.5 368.8L135.5 366.6L135.1 364.3L135.3 362.3L135.3 360.1L134.9 358.8L135.5 359.1L136 358.6L136.6 359.2L137.1 358.5L137.7 359.1L138.2 359.1L138.8 358.8L139.3 358.8L139.9 359.2L140.4 359.5L141 359.7L141.5 359.4L142.1 359.6L142.6 359.5L143.2 359.4L143.7 359.2L144.3 359.6L144.8 358.8L145.4 358.5L145.9 357.4L146.5 357L147 357.2L147.6 357.8L148.1 358.2L148.7 358.7L149.2 359.8L149.8 360.6L150.3 359.7L150.9 359.3L151.4 357.9L152 357.1L152.5 353L153.1 353.3L153.6 354.2L154.2 358L154.7 360L155.3 362.4L155.8 362.8L156.4 362.4L156.9 362.9L157.5 363.1L158 363L158.6 362.5L159.1 362.2L159.7 361.5L160.2 362.4L160.8 362.3L161.3 362.3L161.9 361.6L162.4 362.3L163 362.2L163.5 362.7L164.1 363.1L164.6 363.3L165.2 362.8L165.7 362.8L166.3 362.3L166.8 361.5L167.4 361.3L167.9 361L168.2 360.9L167.7 362.4L167.8 363.9L167.9 366.2L168.2 368.2L167.5 370.3L167.5 372.1L168.2 373.1L167.8 374.2L166.7 374.7Z" fill="#4d4d4d"/>
<path d="M136.3 360V358.3M136.6 360V358.7M138.8 359.9V357.1M139.3 360V358.1M140.4 360.5V359.4M142.1 360.5V355.9M142.6 360.4V359.6M143.2 360.3V359.6M144.3 360.4V356.7M145.9 358.8V358.1M147 358.1V356M149.2 360.8V360M150.3 360.9V360.2M154.7 361.2V358M157.5 363.9V361.2M158 363.7V362.1M159.1 363.1V361.5M162.4 363V360.5M166.3 363.2V360.5M166.8 362.7V360" stroke="#4d4d4d" stroke-width="2.9" stroke-linecap="round" fill="none"/>
<path d="M172.5 374.7L171.4 374.2L171 373.1L171.5 372.2L171.6 370.2L171.7 368.2L171.8 366.6L171 365.1L171 363.3L171.6 362.7L172.1 363L172.7 362L173.2 361.7L173.8 360.5L174.3 360.8L174.9 360.3L175.4 359.8L176 359.8L176.5 359.2L177.1 359.4L177.6 359L178.2 359.7L178.7 360.9L179.3 362.3L179.8 363.8L180.4 364.2L180.9 364L181.5 363.8L182 363L182.6 363.2L183.1 363.1L183.7 362.3L184.2 362.1L184.8 362.4L185.3 362L185.9 362.2L186.4 361.5L187 361.2L187.5 361.3L188.1 362.3L188.6 362.9L189.2 363.1L189.7 364.5L190.3 364.2L190.8 363.9L191.4 363.5L191.9 363.4L192.5 363.6L193 363.2L193.6 361.6L194.1 360.9L194.7 360.6L195.2 359.5L195.8 358.7L196.3 359.6L196.9 359.9L197.4 360.1L198 359.8L198.5 359.7L199.1 359.8L199.6 360.5L200.2 360.2L200.7 360.2L201 360.5L200.6 362L200.6 363.7L200.8 365.3L200.6 367.2L200.5 368.5L200.3 370.7L200.7 372.2L201 373.1L200.6 374.2L199.5 374.7Z" fill="#b3b3b3"/>
<path d="M172.4 364.1V361.4M175.4 360.8V359.8M176.5 360.1V358.9M177.6 360.1V358.6M178.2 361.1V358.8M180.4 365.2V364.1M185.3 363.1V361.9M189.7 365.1V363M190.8 364.9V362.7M191.9 364.7V363.6M195.8 360.1V356.9M197.4 360.6V359.3M199.6 361.6V357.9" stroke="#b3b3b3" stroke-width="2.9" stroke-linecap="round" fill="none"/>
<path d="M205.5 374.7L204.4 374.2L204 373.1L204.3 372.2L204.1 370L204.7 368.1L204.3 366.6L204.7 365.1L204.5 363.1L204.4 361.4L204 359.6L204.6 360L205.1 360.2L205.7 359.7L206.2 359L206.8 359.5L207.3 359L207.9 358.5L208.4 358.1L209 357.8L209.5 357.4L210.1 357.8L210.6 355.6L211.2 358.5L211.7 359.5L212.3 360.3L212.8 361.1L213.4 362.3L213.9 363.5L214.5 363L215 363.6L215.6 363.9L216.1 364.2L216.7 364L217.2 363.8L217.8 363.6L218.3 363.2L218.9 363.9L219.4 363.3L220 364L220.5 363.9L221.1 363.5L221.6 363.7L222.2 362.8L222.7 362.3L223.3 361.6L223.8 360.9L224.4 360.2L224.9 359.5L225.5 358.7L226 358.6L226.6 358L227.1 358.1L227.7 358.5L228.2 358.8L228.8 359.6L229.3 358.3L229.9 357L230.4 352.7L231 351.6L231.5 351.3L232.1 353.5L232.6 357.7L233.2 357.7L233.7 358.3L234 358.2L233.6 359.7L234 361.6L233.6 363.5L233.4 365.6L233.5 367.6L233.3 369.2L233.2 370.7L233.7 372.6L234 373.1L233.6 374.2L232.5 374.7Z" fill="#4d4d4d"/>
<path d="M205.7 360.7V356.8M206.8 360V357.4M208.4 359.2V357.2M210.1 358.4V354.7M212.8 362.3V361.1M221.1 364.6V363.6M221.6 364.4V362.9M222.2 363.9V363M223.8 361.5V360.5M224.9 360.3V356.4M225.5 359.9V358.4M226.6 359.3V356.7M227.1 359.2V357.9M228.8 360.3V359.6M232.6 358.9V354.6M232.6 358.9V356.8" stroke="#4d4d4d" stroke-width="2.9" stroke-linecap="round" fill="none"/>
<path d="M238.2 374.7L237.1 374.2L236.7 373.1L237.1 372.2L236.8 370.2L236.9 368.6L237 366.9L237.4 365.2L237.4 363.9L237.2 361.7L236.7 359.2L237.2 360.1L237.8 360.1L238.4 359.9L238.9 360.1L239.5 359.7L240 359.9L240.6 357.3L241.1 349.6L241.7 347.4L242.2 347.6L242.8 351.7L243.3 359.3L243.9 360.6L244.4 360.3L245 358.7L245.5 351.6L246.1 352.3L246.6 353.3L247.2 360L247.7 360.5L248.3 360.5L248.8 360L249.4 360.2L249.9 360.2L250.5 359.9L251 359.6L251.6 359.5L252.1 359.3L252.7 358.2L253.2 358.4L253.8 357.9L254.3 357L254.9 356.9L255.4 356.7L256 357.2L256.5 357L257.1 357.7L257.6 357.3L258.2 358L258.7 358.2L259.3 357.6L259.8 357.4L260.2 358.1L259.6 359.6L259.4 361.4L259.4 362.8L259.7 364.7L259.9 366.1L259.5 367.7L259.7 370L259.4 372.1L260.2 373.1L259.8 374.2L258.7 374.7Z" fill="#b3b3b3"/>
<path d="M238.1 360.7V356.5M238.1 360.7V356M238.9 360.9V356.1M240.6 358.4V353.9M243.3 360.1V359M243.9 361.3V358.8M247.2 360.8V360.1M248.8 361.1V360.2M252.1 360V359.1M254.9 358.1V353.3M257.1 358.3V356.8M257.6 358.5V357.8M258.7 358.8V356.5M258.8 358.8V357.5" stroke="#b3b3b3" stroke-width="2.9" stroke-linecap="round" fill="none"/>
<path d="M264.9 374.7L263.8 374.2L263.4 373.1L263.9 372.2L264.2 370.2L263.4 368.4L263.6 367.1L263.4 365.8L263.9 364.1L263.4 362L263.9 361.8L264.5 362.1L265.1 361.1L265.6 360.1L266.2 359.5L266.7 357.8L267.3 357.4L267.8 357.8L268.4 358.1L268.9 359.3L269.5 360.1L270 360.5L270.6 361.2L271.1 361L271.7 361.8L272.2 361.8L272.8 362.8L273.3 363.1L273.9 364.3L274.4 364.4L275 364.2L275.5 363.8L276.1 363.4L276.6 361.4L277.2 360.8L277.7 359.7L278.3 359.1L278.8 358.3L279.4 358.2L279.9 358.9L280.5 359.1L281 358.6L281.6 358.4L282.1 358.7L282.7 359.1L283.2 359.6L283.8 361.3L284.3 361.7L284.9 362.6L285.4 363.2L286 361.6L286.5 360.2L287.1 359.2L287.6 359L288.2 358.7L288.7 358.4L289.3 358.7L289.8 358.3L290.4 357.2L290.9 357L291.5 356.5L292 355.7L292.6 356.1L293.1 357.1L293.7 359.1L294.2 359.7L294.8 359.9L295.3 360.2L295.6 360.1L295.4 361.6L295.3 362.9L295.3 365.1L295.3 366.6L295 368L294.9 369.4L294.8 371.1L295.5 372.6L295.6 373.1L295.2 374.2L294.1 374.7Z" fill="#4d4d4d"/>
<path d="M267.8 358.5V356M270.6 362V360.8M273.9 365.5V363.1M276.1 364V362.6M276.6 362.8V359.5M278.3 359.9V356.9M279.4 359.6V358.9M281 359.8V358.6M281.6 359.6V355.2M282.1 359.6V358.8M282.7 359.9V358.7M283.2 360.8V359.5M284.3 362.9V361.3M284.9 363.6V359.3M285.4 363.8V362.1M287.1 360.3V359.4M288.7 359.7V357.7M293.1 358.4V355.9M294.2 361.1V360.3M294.2 361.1V360.5M294.2 361.1V357.1" stroke="#4d4d4d" stroke-width="2.9" stroke-linecap="round" fill="none"/>
<path d="M300.5 374.7L299.4 374.2L299 373.1L299.8 372.2L299.5 370.3L299.4 368.1L299.4 366.5L299 364.3L299.6 364.3L300.1 363.7L300.7 362.9L301.2 361.3L301.8 359.7L302.3 359.8L302.9 360L303.4 359.9L304 359.9L304.5 360.6L305.1 360.4L305.6 360.3L306.2 359.9L306.7 360.5L307.3 361L307.8 362.2L308.4 362.9L308.9 362.1L309.5 360.5L310 358.7L310.6 357.1L311.1 357.1L311.7 357L312.2 358.4L312.8 359.3L313.3 360.7L313.9 361.2L314.4 360.9L315 359.5L315.5 358.5L316.1 356.5L316.6 355.1L317.2 353.2L317.7 346L318.3 344L318.8 342.8L319.4 342.3L319.9 346.2L320.5 354.1L321 356.7L321.6 358.3L322.1 360.1L322.7 361.2L323.2 362.5L323.8 362.7L324.3 363.6L324.9 363.7L325.4 364.6L326 364L326.5 364.4L326.9 363.7L326.5 365.2L326.6 367L326.7 368.4L326.2 369.8L326.8 371.1L326.9 373.1L326.5 374.2L325.4 374.7Z" fill="#b3b3b3"/>
<path d="M300.4 365.4V363.7M300.4 364.6V363.3M305.1 361.4V360.7M306.2 360.9V358.6M306.7 361.4V359.8M308.4 363.9V362.9M312.8 360.4V358.4M313.3 361.7V359.5M314.4 361.9V359.6M322.1 361.4V360.3M325.4 365.3V364.2" stroke="#b3b3b3" stroke-width="2.9" stroke-linecap="round" fill="none"/>
<path d="M331.2 374.7L330.1 374.2L329.7 373.1L329.9 372.2L330.4 370.5L330.2 368.3L330.4 366.8L329.7 364.2L330.2 364.1L330.8 363.9L331.4 363.6L331.9 362.8L332.5 363.1L333 362.6L333.6 361.8L334.1 360.2L334.7 359.1L335.2 358.2L335.8 358.1L336.3 357.3L336.9 358.3L337.4 359.3L338 359.4L338.5 360.3L339.1 361.3L339.6 361.2L340.2 362.3L340.7 363.2L341.3 363L341.8 362.7L342.4 361.7L342.9 360.2L343.5 359.3L344 357.8L344.6 357.1L345.1 356.7L345.7 355.4L346.2 351.1L346.8 349.7L347.3 349.6L347.9 350L348.4 354.7L349 356.4L349.5 357.9L350.1 359.3L350.6 360L351.2 360.5L351.7 360.9L352.3 361.2L352.8 361L353.4 360.6L353.9 360.2L354.5 359.6L355 358.3L355.6 357.1L356.1 351.5L356.7 350.3L357.2 349.9L357.8 349.9L358.3 352L358.9 358.5L359.4 359.2L360 359.5L360.5 359.2L360.3 360.7L360 362.8L359.7 364.1L359.8 365.5L360 367.7L359.9 369.8L359.8 371.4L360.5 373.1L360.1 374.2L359 374.7Z" fill="#4d4d4d"/>
<path d="M331.1 365.4V364.5M331.1 365.3V363.4M332.5 363.7V362.8M334.1 361.5V359.7M334.7 360.2V358.8M338.5 361.3V358.8M340.7 363.8V360.5M341.3 364.4V363.6M342.9 361.3V359.7M344.6 358.2V355.1M345.1 357.4V356.3M347.9 350.7V350M349 357.2V356M349.5 358.9V353.9M350.6 361.3V360.1M352.3 361.8V361M352.8 361.9V361M353.9 361.4V360.5M354.5 360.7V358.5M355.6 358.2V356.9M356.1 352.8V352M359.1 360.3V355.7M359.1 360.2V355.7" stroke="#4d4d4d" stroke-width="2.9" stroke-linecap="round" fill="none"/>
<path d="M364.6 374.7L363.5 374.2L363.1 373.1L363.4 372.2L363.8 370.4L363.2 369.1L363.5 367.1L363.7 365.5L363.8 364.1L363.1 362.1L363.1 360.1L363.7 360.4L364.2 360.7L364.8 359.7L365.3 359.9L365.9 359.4L366.4 359.3L367 359.9L367.5 361.4L368.1 362.3L368.6 363.2L369.2 363.6L369.7 363.2L370.3 363L370.8 362.2L371.4 362L371.9 361.9L372.5 361.3L373 360.7L373.6 359.6L374.1 358.1L374.7 357.2L375.2 356.4L375.8 357L376.3 356.7L376.9 357.9L377.4 358.1L378 358.9L378.5 360L379.1 360.6L379.6 361.1L380.2 362.3L380.7 362.1L381.3 362.1L381.8 363.1L382.4 363L382.9 363.8L383.5 363.9L384 363.1L384.6 363.3L385.1 363.7L385.7 364L386.2 363.5L386.8 362.4L387.3 362L387.9 361L388.4 359.2L389 357.9L389.5 352.8L390.1 351.2L390.6 351.6L391.2 352.4L391.7 357.5L392.3 360.6L392.8 361L393.4 361.5L393.9 362.3L394.5 361L395 359.7L395.2 360L394.7 361.5L395 363L394.7 364.6L394.8 366.6L395.1 368.9L394.6 370.6L394.9 371.9L395.2 373.1L394.8 374.2L393.7 374.7Z" fill="#b3b3b3"/>
<path d="M364.6 361.3V358.5M367 361.2V359.9M367.5 362.1V359.9M368.1 363.1V359M369.2 364.2V361.7M371.4 362.7V361.8M375.2 357.8V356.5M376.9 358.6V354.5M379.1 362V360.5M382.9 364.5V362.2M385.7 364.6V362.8M387.9 361.5V360.5M390.1 352.6V351.9M391.7 358.2V353.6M392.8 362.3V360.7M393.4 362.2V359.8" stroke="#b3b3b3" stroke-width="2.9" stroke-linecap="round" fill="none"/>
<path d="M399.5 374.7L398.4 374.2L398 373.1L398.6 372.2L398.1 370.3L398.1 368.2L398 366.7L398.5 364.9L398.6 363.6L398 362.4L398.6 362.3L399.1 361.9L399.7 362.6L400.2 361.6L400.8 360.5L401.3 360.4L401.9 359.5L402.4 359L403 358.3L403.5 358.2L404.1 358.4L404.6 359.2L405.2 360.7L405.7 360.2L406.3 359.6L406.8 359.9L407.4 360.1L407.9 361.4L408.5 361.1L409 359.4L409.6 357.5L410.1 353.8L410.7 352.2L411.2 351.6L411.8 351.9L412.3 352.8L412.9 357.8L413.4 360L414 361.4L414.5 360.9L415.1 360.4L415.6 359.3L415.4 360.8L415.4 362.3L415.4 363.9L415.2 365.8L415.4 367.2L415.2 368.9L415.4 370.7L414.9 372.4L415.6 373.1L415.2 374.2L414.1 374.7Z" fill="#4d4d4d"/>
<path d="M399.4 363.5V361.4M399.4 363.4V362.5M400.2 362.9V359.5M400.8 362V360M402.4 359.8V358.6M404.6 360.5V359.7M409 360.2V356.4M411.2 352.6V351.9M414.2 361.9V359.8" stroke="#4d4d4d" stroke-width="2.9" stroke-linecap="round" fill="none"/>
<path d="M420 374.7L418.9 374.2L418.5 373.1L419 372.2L419.1 370.1L418.8 368.1L419.1 366L418.7 364.4L418.5 362.1L418.5 360.4L419.1 360.6L419.6 360.5L420.2 361.6L420.7 362.4L421.3 362.3L421.8 362.1L422.4 360.8L422.9 360.2L423.5 358.9L424 359L424.6 359.1L425.1 359.9L425.7 361.4L426.2 362.8L426.8 363.3L427.3 363.5L427.9 363.2L428.4 362.9L429 362.1L429.5 361.4L430.1 360.6L430.6 360.2L431.2 360.6L431.7 360.2L432.3 359.7L432.8 359.1L433.4 358.7L433.9 358.1L434.5 358.1L435 359.4L435.6 360.2L436.1 361.6L436.7 361.4L437.2 361.4L437.4 361L436.8 362.5L436.7 364.7L436.6 366.9L436.7 368.8L436.8 370.8L437.4 373.1L437 374.2L435.9 374.7Z" fill="#b3b3b3"/>
<path d="M419.9 361V357.6M420.7 363V362.1M421.8 362.7V361.8M422.4 361.9V361M422.9 360.9V357.9M424.6 360.1V358.4M425.7 362.4V361.7M428.4 363.9V362.5M429.5 362.4V360.8M430.1 361.7V357.9M431.7 361V358.5M432.3 360.6V358.4M434.5 359.5V357.8M435.6 361.7V360.8M435.9 362.7V361.6M435.9 362.8V361.8" stroke="#b3b3b3" stroke-width="2.9" stroke-linecap="round" fill="none"/>
<path d="M441.8 374.7L440.7 374.2L440.3 373.1L440.9 372.2L440.3 370.8L440.4 368.6L440.3 366.5L440.7 364.6L441 362.4L441 360.4L440.3 358.5L440.9 359.1L441.4 359L442 358.4L442.5 357.5L443.1 356.3L443.6 353.4L444.2 357.1L444.7 358.2L445.3 361.4L445.8 363L446.4 364.5L446.9 364.5L447.5 363.4L448 362.8L448.6 362.6L449.1 361.6L449.7 361.8L450.2 361.3L450.8 360.2L451.3 359.9L451.9 359.6L452.4 359L453 359.3L453.5 360L454.1 360.5L454.6 360.3L455.2 359.7L455.5 360.2L455.3 361.7L454.9 363.1L455 364.9L454.8 366.9L455 368.7L455.3 370.7L454.9 372.3L455.5 373.1L455.1 374.2L454 374.7Z" fill="#4d4d4d"/>
<path d="M441.8 359.8V355.4M442.5 358.6V356.8M450.8 361.3V360.1M451.3 360.7V358.9M453 360.6V359M454.1 361.1V359" stroke="#4d4d4d" stroke-width="2.9" stroke-linecap="round" fill="none"/>
<path d="M459.4 374.7L458.3 374.2L457.9 373.1L458.3 372.2L458.4 370L458.2 368.6L458.2 366.5L458.4 364.4L457.9 362.1L458.4 362L459 361.6L459.6 361.3L460.1 360.3L460.7 360.4L461.2 360L461.8 359.5L462.3 359.3L462.9 359.9L463.4 359.7L464 360.1L464.5 360.9L465.1 360.8L465.6 361.1L466.2 360.7L466.7 360.9L467.3 360.6L467.8 359.9L468.4 359.8L468.9 359.6L469.5 359.6L470 360L470.6 360L471.1 359.8L471.7 360.3L472.2 360.2L472.8 360.5L473.3 360.7L473.9 360.8L474.4 361.4L475 361.3L475.5 361.2L476.1 361.4L476.6 361.2L477.2 361.2L477.7 361.1L478.3 360.7L478.8 360.7L479.4 359.6L479.9 358.8L480.5 357.8L481 357.7L481.6 356.7L482.1 356.9L482.7 356L483.2 357.1L483.8 358L484.3 359.7L484.9 360.5L485.4 360.5L486 360.5L486.5 360.5L487.1 360.8L487.6 361.3L488.2 361.5L488.7 362L489.3 362.9L489.8 363L490.4 363.8L490.9 363.9L491.5 363.8L492 363.9L492.6 364.1L493.1 365.1L493.7 365.5L494.2 365.4L494.8 364.8L495.3 364.4L495.9 365.1L496.4 363.9L497 363.1L497.5 361.7L498.1 360.6L498.6 360L499.2 359.5L499.7 359.9L500.3 361.2L500.8 361.3L501.4 361.6L501.9 361.5L502 361.5L501.4 363L501.7 364.5L501.8 366.5L501.8 368.7L501.4 370L501.9 372.1L502 373.1L501.6 374.2L500.5 374.7Z" fill="#b3b3b3"/>
<path d="M459.3 362.9V361.5M462.3 360.7V357.3M465.6 362V360.2M470.6 360.7V358.7M471.7 361V357.6M473.3 361.8V361M475.5 362.2V361.6M476.1 362.2V359.7M476.6 362.4V361.8M479.4 360.7V357.6M480.5 359.2V358.2M481 358.4V357.2M482.7 357.3V355.6M483.2 358.4V357.2M484.3 360.8V358.4M486.5 361.9V360.3M488.7 363V362.3M489.3 363.5V361.2M490.4 364.4V363.7M491.5 365V364.2M496.4 364.6V362.6M497.5 362.6V361.6M498.1 361.6V359.3M498.6 360.6V359.1M499.2 360.7V358.2M499.7 361V359.7M500.3 362.1V359.5M500.6 362.4V361.3" stroke="#b3b3b3" stroke-width="2.9" stroke-linecap="round" fill="none"/>
<path d="M506.2 374.7L505.1 374.2L504.7 373.1L504.9 372.2L505.2 370.7L505 369.4L504.9 367.4L505 365.9L505.2 364.3L504.7 361.6L505.2 361.8L505.8 361.1L506.4 361.3L506.9 360.2L507.5 360.8L508 360.4L508.6 359.9L509.1 360.7L509.7 361.1L510.2 360.9L510.8 360.8L511.3 361.3L511.9 361.2L512.4 361.9L513 361.9L513.5 362.3L514 362.1L514.6 361.5L515.1 361.7L515.7 361.3L516.2 361.2L516.8 361.2L517.3 360.9L517.9 361.7L518.4 362.2L519 360.8L519.5 359.9L520.1 360.2L520.6 360.4L521.2 360.9L521.7 360.8L522.3 360.4L522.8 359.8L523.4 360L523.9 360.2L524.5 360.9L525 361.6L525.6 362.2L526.1 362.2L526.7 362.5L527.2 362.3L527.8 361.8L528.3 362.5L528.9 362L529.4 361.5L530 361L530.5 359.6L531.1 359L531.6 357.9L532.2 357.8L532.7 358.1L533.3 359.3L533.8 360.1L534.4 360.3L534.9 361.3L535.5 361.6L536 361.4L536.6 361.4L535.9 362.9L536.1 364.5L536.4 366.7L536.4 368.9L535.9 370.4L536 372.6L536.6 373.1L536.2 374.2L535.1 374.7Z" fill="#4d4d4d"/>
<path d="M508 361.3V359.1M509.7 361.8V360.7M510.2 362V361.4M513 362.9V360.4M514.6 362.7V361.6M515.1 362.4V361.1M515.7 362.1V360.3M517.3 361.9V359M519 362V358.8M520.6 361.5V358M521.2 361.6V359.8M521.7 361.5V359.7M522.8 361V359.5M523.4 361.1V359.9M525.6 363V359.6M528.3 363.2V362M528.9 363.3V360.6M530 361.8V361.1M531.1 359.7V358.6M531.6 359.1V358.1M533.3 360.3V359.2M535.1 362.2V361.1" stroke="#4d4d4d" stroke-width="2.9" stroke-linecap="round" fill="none"/>
<path d="M541 374.7L539.9 374.2L539.5 373.1L539.8 372.2L540.1 370.1L540.2 367.8L539.9 365.5L540 364L539.8 362.6L539.6 360.6L539.7 358.5L539.5 357.1L540 356.7L540.6 356.6L541.1 356.7L541.7 355.8L542.2 355.9L542.8 352.3L543.3 356.3L543.9 357.6L544.4 359.7L545 360.9L545.5 360.7L546.1 360.3L546.6 359.8L547.2 359.4L547.7 359.4L548.3 360.1L548.8 361.1L549.4 362.3L549.9 363.2L550.5 364.3L551 363.6L551.6 363.4L552.1 362.4L552.7 361.9L553.2 361.9L553.8 360.8L554.3 360.9L554.9 361.7L555.4 362.8L556 363.3L556.5 364.6L557.1 365.2L557.6 365L558.2 364.9L558.7 364.3L559.3 363.5L559.8 363.1L560.4 362.6L560.9 362.6L561.5 362.6L562 362.3L562.6 363.4L563.1 363.4L563.7 363.7L564.2 363.9L564.8 363.3L565.3 362.8L565.9 361L566.4 359.8L567 359.2L567.5 358.5L568.1 357.1L568.6 357.6L569.2 357.8L569.7 358.2L570.3 358.2L570.8 358.6L571.4 358.7L571.9 359.1L572.1 358.9L571.3 360.4L571.8 362.3L572 364.6L572.1 366.9L571.4 369.1L571.9 371.2L572.1 373.1L571.7 374.2L570.6 374.7Z" fill="#b3b3b3"/>
<path d="M541 357.9V356.8M541.1 357.5V355.8M543.3 357V352.2M545 362.2V358.7M546.6 360.6V360M547.2 360.5V358.4M547.7 360.5V359M550.5 364.9V362.8M551 364.7V363.5M552.7 363.2V362.4M553.2 362.7V361.5M558.7 365.1V363.7M562 363.7V362.1M562.6 364.1V363.3M564.2 364.5V363.5M567 360.3V359.6M568.1 358.5V356.6M570.3 359.5V358.1M570.6 359.7V358.2" stroke="#b3b3b3" stroke-width="2.9" stroke-linecap="round" fill="none"/>
<path d="M576.4 374.7L575.3 374.2L574.9 373.1L575 372.2L575.3 370.4L574.9 369L575 367.1L575.2 365.1L574.9 364L575.4 363.8L576 362.7L576.5 360.8L577.1 360L577.6 358.9L578.2 358.9L578.7 359.1L579.3 360.4L579.8 362.1L580.4 362.5L580.9 363.4L581.5 362.8L582 361.8L582.6 357.6L583.1 351.4L583.7 350.8L584.2 355.8L584.8 358.2L585.3 358.9L585.9 358.6L586.4 358.9L587 358.5L587.5 359.3L588.1 360.4L588.6 360.9L589.2 362.3L589.7 362.8L590.3 362.5L590.8 359.9L591.4 358.1L591.9 357.8L592.5 357.6L593 357.5L593.6 357.4L593.9 357.4L593.7 358.9L593.5 360.9L593.3 363L593.3 364.5L593.2 366.4L593.2 367.7L593.2 369.6L593.8 371.6L593.9 373.1L593.5 374.2L592.4 374.7Z" fill="#4d4d4d"/>
<path d="M576.4 364.6V362.9M577.1 360.6V358M580.4 363.9V363.3M582 362.5V358.4M584.2 356.5V351.7M588.6 362.2V361.4M591.9 358.9V358M592.4 358V354.2" stroke="#4d4d4d" stroke-width="2.9" stroke-linecap="round" fill="none"/>
<path d="M598.2 374.7L597.1 374.2L596.7 373.1L597.4 372.2L597.2 370.5L597.3 368.7L597.5 367.3L597.4 365.3L596.9 363.8L596.7 361.6L597.2 361.1L597.8 360.6L598.3 359.8L598.9 359.3L599.4 358.7L600 358.9L600.5 359.5L601.1 360.3L601.6 361.8L602.2 362.8L602.7 363.8L603.3 364L603.8 363.8L604.4 363.9L604.9 363.7L605.5 363.3L606 362.7L606.6 362L607.1 362.2L607.7 362.3L608.2 362L608.8 361.6L609.3 362.1L609.9 361.8L610.4 361.3L611 362.1L611.5 362.2L612.1 362.1L612.3 361.8L612.1 363.3L612.1 365.4L612.2 367.2L611.9 369L611.5 370.8L612.3 373.1L611.9 374.2L610.8 374.7Z" fill="#b3b3b3"/>
<path d="M598.2 362.4V359.3M598.3 361V359.1M601.1 361.3V360.4M601.6 362.5V358.2M602.2 363.7V359.5M602.7 364.5V362.8M603.8 364.9V364.2M606.6 363.3V360.7M607.1 363.1V358.9M609.3 363V359.3M610.8 363.4V359.8M610.8 363.3V359.8M610.8 363.2V361.6" stroke="#b3b3b3" stroke-width="2.9" stroke-linecap="round" fill="none"/>
<path d="M616.7 374.7L615.6 374.2L615.2 373.1L615.5 372.2L615.5 370L615.8 368.3L615.8 366.8L616 365.3L615.8 363.6L615.8 361.7L615.2 360.2L615.8 359.9L616.3 360.1L616.8 359.6L617.4 359.6L617.9 359.1L618.5 358.3L619 356.6L619.6 356.1L620.1 351.4L620.7 351.5L621.2 355.5L621.8 357.6L622.3 359.5L622.9 359.2L623.4 359.5L624 360L624.5 359.6L625.1 359.7L625.6 360.4L626.2 360.2L626.7 361.5L627.3 361.5L627.8 362.1L628.4 362.1L628.9 362.1L629 361.7L628.2 363.2L628.9 364.7L628.6 366.4L628.2 368.1L628.4 370L628.8 372.1L629 373.1L628.6 374.2L627.5 374.7Z" fill="#4d4d4d"/>
<path d="M616.7 361V358.4M619.6 356.8V351.9M621.2 356.7V353.9M623.4 360.8V359.4M624.5 360.4V358.2M625.1 360.6V358.2M626.7 362.2V361.3M627.5 363V362.1" stroke="#4d4d4d" stroke-width="2.9" stroke-linecap="round" fill="none"/>
<path d="M633.4 374.7L632.3 374.2L631.9 373.1L632.6 372.2L632.5 370.7L632.6 368.7L632.1 367.3L632.4 365.8L632.6 364.3L632.4 362.3L631.9 359.8L632.4 360.1L633 360.1L633.5 359.9L634.1 360.5L634.6 360.8L635.2 360.9L635.7 361.7L636.3 362.1L636.8 362.1L637.4 363.4L637.9 363.9L638.5 363.3L639 361.1L639.6 360.6L640.1 359.2L640.7 355.1L641.2 355L641.8 354.3L642.3 357.8L642.9 359.3L643.4 360.3L644 361.2L644.5 362.5L645.1 362.5L645.6 362.7L646.2 363.2L646.7 363.5L647.3 362.6L647.8 363.1L648.4 363.3L648.9 363.3L649.5 363.1L650 363.2L650.6 363.2L651.1 362.3L651.7 362.3L652.2 361.6L652.8 360.8L653.3 360.9L653.9 359.8L654.4 359.8L655 359.6L655.5 359L656.1 358.6L656.6 358.4L657.2 357.3L657.7 356.2L658.3 353.1L658.8 353.3L659.4 356.7L659.9 356.9L660.5 357.1L661 358L661.6 358.6L662.1 359.2L662.7 359.9L663.2 359.9L662.8 361.4L662.7 362.9L662.5 364.3L662.6 366.6L663.2 368.8L662.5 370.2L662.7 372.5L663.2 373.1L662.8 374.2L661.7 374.7Z" fill="#b3b3b3"/>
<path d="M633.4 360.8V359.1M633.4 360.8V360.1M634.6 361.5V358.2M635.2 361.8V359.7M635.7 362.3V361M636.3 362.9V360.4M636.8 363.5V362.5M637.9 364.5V363.5M641.2 355.7V354.6M641.8 355.2V354.5M644 362.6V361.5M647.8 364V362.3M650 364.2V362.8M651.7 363.3V361.3M655.5 360.1V356.1M657.2 358.3V357.5M661.8 360.6V356.5M661.8 360.6V358.5" stroke="#b3b3b3" stroke-width="2.9" stroke-linecap="round" fill="none"/>
<path d="M71 364.1h0M71 360.4h0M71 364.2h0M71 363h0M71.1 364.5h0M71.1 347.5h0M71.7 364.1h0M72.2 362.8h0M72.2 359.9h0M72.8 361.8h0M72.6 358.2h0M73.9 359.5h0M74.4 359.5h0M75 359.5h0M75.5 359h0M75.7 357.1h0M76.1 359.3h0M76.6 361.5h0M76.6 356.8h0M77.1 357.8h0M77.2 351.3h0M77.8 358.3h0M77.9 354.6h0M78.8 363.6h0M79.4 363.1h0M80.5 363.4h0M81 363.2h0M81 351.4h0M81.6 362h0M81.8 359.8h0M81.8 356.5h0M82.7 363.9h0M84.3 366.6h0M84.1 361.1h0M84.8 364.8h0M85.4 366.6h0M86 366.3h0M86.5 366.6h0M87.6 366.4h0M88.3 361.3h0M88.2 358.5h0M88.7 365.2h0M88.8 360.9h0M90.4 362h0M90.2 360.7h0M90.9 361.8h0M91.5 362h0M91.5 360.1h0M92.6 361.7h0M93.1 361.8h0M93 362.4h0M94.2 361.6h0M94.8 361.9h0M96.4 363.7h0M96.4 357.6h0M96.2 356.4h0M97.5 363.9h0M98.1 364.5h0M98.6 363.8h0M98.6 360.2h0M99.2 364.1h0M99.7 363.6h0M100.3 364.3h0M100.3 359.9h0M100.8 364.1h0M101.4 365.3h0M101.9 366.6h0M102.5 366.5h0M103 365.8h0M103.3 363.1h0M103.6 366.7h0M103.8 364.6h0M103.6 363.3h0M104.1 366.7h0M104.7 366.7h0M105.2 366.7h0M105.8 366.4h0M105.8 360.5h0M106.3 365.4h0M107.4 364.8h0M108 365h0M109.3 364.4h0M111.8 363.1h0M112.4 362.3h0M112.9 363.7h0M112.7 358.1h0M113.5 363.9h0M114 364.3h0M113.9 362.5h0M114 360h0M115.7 365.2h0M116.5 365.3h0M117.3 365.2h0M118.4 365.4h0M118.4 363.3h0M119 365.8h0M119.1 364.3h0M119.5 366.1h0M120.1 365.3h0M121.7 364h0M122.8 364.6h0M123 363.5h0M123.4 364.9h0M123.9 364.5h0M123.8 363.6h0M124.5 364.3h0M124.3 363.6h0M125 364.2h0M125.2 362.5h0M125.6 364.6h0M125.6 361h0M126.1 364.2h0M127.2 360.2h0M127.3 357h0M127.8 358.6h0M128.6 356.9h0M128.3 351.6h0M130 357.6h0M130 356.5h0M130 350h0M130.6 357.7h0M130.7 358.1h0M130.6 357.7h0M130.3 355.7h0M77.4 351.2h0M93.1 354.1h0M96.4 355.6h0M100.4 356.9h0M91.2 357.9h0M109.3 358.5h0M114 356.6h0M105.5 359.8h0M117.8 360.7h0M121.6 358.5h0M126.9 354.1h0M129.2 351.6h0M130.1 356h0M172.4 363.1h0M172.2 362.7h0M172.4 363.7h0M173.2 363.1h0M173 361.1h0M174.3 362.6h0M175.5 360.6h0M175.4 357.2h0M176.5 361h0M177.1 361.8h0M177.1 359.3h0M177.6 362.3h0M178.1 360.5h0M179.8 364.6h0M180.9 364.4h0M181 363.4h0M181.3 364.2h0M182 364.5h0M182 356.4h0M183.7 363.3h0M184.2 364h0M184.8 360.1h0M185.3 362.6h0M185.2 362.4h0M185.9 363.1h0M186.4 362.5h0M187 362.7h0M187.5 363.9h0M188.1 364.6h0M189.2 364.3h0M189.7 364.1h0M190.3 364.9h0M190.8 364.2h0M191.3 364.2h0M191.9 364.4h0M192.6 363.6h0M193 364.6h0M193.6 364.4h0M194.1 364h0M195.4 359.4h0M196.4 359.7h0M196.9 359.9h0M198 360.8h0M198.5 361.3h0M199.2 360.6h0M199.6 360.7h0M199.6 361h0M199.6 360.9h0M199.7 360.1h0M173.9 348h0M194.2 353.7h0M199.5 352.6h0M191.9 356.9h0M177.1 356.6h0M238.2 358.5h0M238.1 360.1h0M238.3 358.5h0M238.1 359.9h0M238.4 357.5h0M238.9 360.8h0M238.7 359.5h0M239.5 360.9h0M239.9 361.2h0M240.6 356.2h0M241.1 360.7h0M241.7 360.9h0M242.2 361h0M242.8 361.1h0M242.8 347h0M244.4 361.1h0M244.9 356.2h0M246.1 361.5h0M246.6 349.6h0M247.2 361.2h0M247.7 361.1h0M248.3 361h0M248.8 361.2h0M249.4 354.8h0M249.7 358.7h0M250.5 360.2h0M251 360.2h0M250.8 359.1h0M251.6 359.8h0M252.1 360.3h0M252.3 359h0M252.7 359.7h0M252.6 358.8h0M253.2 359.5h0M253.4 358.9h0M253.8 359h0M254.3 358.4h0M254.4 357.6h0M254.9 358.1h0M254.8 357.6h0M255.4 357.9h0M255.6 356.2h0M257.1 357.9h0M257.2 358.3h0M257.6 357.8h0M258.2 358.4h0M258.2 357h0M258.1 353.2h0M258.7 358.3h0M258.8 356.3h0M242.2 341.4h0M239.3 345h0M242.2 344h0M252.4 350.9h0M254.9 351.6h0M256.8 352.2h0M251.1 356h0M300.6 364.1h0M300.4 365.5h0M300.7 365.3h0M300.8 362.4h0M301.8 363.9h0M304 360.4h0M303.8 359.3h0M305.6 361.6h0M305.4 360.7h0M306.2 362.5h0M306.7 363.2h0M307.3 363h0M307.1 361.6h0M307.8 363h0M308.4 363.7h0M308.9 363.5h0M309.5 363.4h0M310.5 355h0M311.1 360.2h0M311.7 360.8h0M312.7 360.1h0M313.9 361.6h0M313.8 361.6h0M314.4 362.2h0M314.3 357.1h0M315 361.8h0M315.2 357.7h0M315 354.3h0M315.5 362.1h0M315.7 354.2h0M315.4 352.4h0M316.1 361.5h0M315.9 357.8h0M317.4 353.9h0M318.3 356h0M318.1 344.9h0M318.8 354h0M319.4 357.1h0M319.9 359.3h0M320.1 346.6h0M320.7 352.3h0M322.1 363.1h0M323 360.5h0M323.9 362.7h0M324.9 364.4h0M325.4 364.3h0M325.4 361.3h0M325.4 364.8h0M325.4 364.5h0M325.4 364.7h0M325.3 362.5h0M325.4 358.8h0M305.2 344.2h0M311.3 343.6h0M319.5 338h0M302.8 348.4h0M312.3 347.4h0M302.4 351.6h0M316.1 349.7h0M320.8 349.7h0M322.7 355h0M310.4 355h0M316.1 355h0M364.6 361h0M364.6 360.8h0M364.6 345.2h0M364.6 360.5h0M364.6 359.7h0M365.5 358.1h0M365.1 356.2h0M365.9 361.8h0M366.1 359.3h0M366.4 362h0M366.8 360.6h0M367.5 361.6h0M368.1 358h0M368.5 362.9h0M369.2 362.1h0M370.3 363.5h0M370.8 363.4h0M370.7 361.3h0M371.4 363.7h0M371.9 362.9h0M373 361.8h0M373.6 361.7h0M373.4 359.7h0M374.1 361.5h0M374.7 353.1h0M375.7 356.4h0M376.9 360.2h0M376.6 357.6h0M377.4 361.2h0M378 361.3h0M377.7 357.2h0M378.5 362.5h0M379.1 362.8h0M379.3 357.9h0M378.8 356.7h0M380.2 362.9h0M380.7 363.3h0M382.4 363.8h0M382.1 363.7h0M382.9 364.3h0M384 363.5h0M384.6 364.4h0M385.7 363.6h0M385.7 362.4h0M386.2 364.2h0M386.1 362.9h0M386.2 354.1h0M386.8 364h0M386.5 360.7h0M388.4 362.3h0M388.3 360h0M389 361.5h0M389 354h0M389.5 361.1h0M390.1 359.8h0M391 352.3h0M391.8 356.5h0M392.3 362.5h0M392.1 358.4h0M393.4 362.7h0M393.8 362.5h0M393.8 361.1h0M393.8 362.5h0M393.6 357.7h0M393.8 362.3h0M373.4 343.6h0M393.3 340.2h0M364.5 350.9h0M366.4 352.2h0M374.9 353.1h0M391 350.3h0M388.2 355h0M419.8 358.7h0M419.9 362h0M419.9 362.7h0M420 360.9h0M421.8 362.2h0M422.4 362.8h0M422.5 359.8h0M422.7 360.1h0M423.5 361.7h0M423.4 358.8h0M424.6 363.4h0M424.6 355.3h0M425.1 364.2h0M425.7 364.3h0M427.3 363.7h0M427.9 364.3h0M428 362.4h0M429 364.1h0M429.1 362.6h0M429.5 364.3h0M431.2 361.4h0M432.2 360.5h0M432.8 360.7h0M432.6 355.2h0M433.4 360.8h0M433.4 358.3h0M433.9 361.4h0M434 358.1h0M434.5 362.1h0M434.7 358.3h0M435.1 359.2h0M435.6 362.1h0M435.9 362.1h0M435.9 361.8h0M436.2 361.4h0M435.9 362.2h0M435 351.6h0M424.7 353.5h0M421.3 355h0M432.7 355h0M459.3 362h0M459.4 362.4h0M459.3 362.5h0M459.3 361.9h0M459.6 362h0M459.5 360.1h0M460.1 361.9h0M461.2 357h0M461.8 361.1h0M461.5 356.6h0M462.3 356.3h0M462.9 361.2h0M463.4 360h0M463.2 356.6h0M464 361.3h0M464.5 361h0M465.1 361.7h0M466.2 361.7h0M466.7 361h0M467.3 361.2h0M467.5 360.4h0M467.8 361.5h0M467.6 360.8h0M468.4 361.3h0M468.4 360h0M468.9 360.7h0M468.9 358.3h0M469.2 359.7h0M470 360.7h0M470.1 360.2h0M470 347h0M470.5 356.5h0M470.7 355.2h0M471.1 360.5h0M471.7 360.9h0M473.3 361.6h0M473.9 361.8h0M474.4 361.8h0M475 361.7h0M474.8 360.3h0M475.5 361.7h0M476.1 362.2h0M476.6 362.1h0M477.2 361.9h0M477.7 361.5h0M478.3 362.1h0M478.1 359.3h0M478.8 362h0M479 361.3h0M478.8 355.8h0M479.9 357.5h0M480.2 356.3h0M480.5 353.6h0M482.1 358.7h0M482.7 359.7h0M482.8 356.2h0M482.9 351.8h0M483.1 358.4h0M483.8 360.2h0M483.8 354.3h0M484.9 361.6h0M485.4 361.3h0M485.4 359.4h0M486 361.9h0M486.5 361.6h0M487.1 362.2h0M488.7 363.9h0M488.7 359.9h0M489.3 363.7h0M490.4 364.4h0M490.9 365.1h0M490.8 364.3h0M491.5 364.9h0M493.1 365.5h0M494.2 365.4h0M494.8 365.8h0M495.3 365.3h0M495.4 365h0M495.2 363h0M495.9 364.9h0M497.5 365.5h0M497.3 359.5h0M497.3 358.2h0M498.1 364.3h0M498.6 362.7h0M499.2 361.8h0M499.7 361.7h0M500 361.4h0M500.6 361.6h0M500.4 361.9h0M500.6 362.1h0M500.3 360.1h0M500.5 360.4h0M482 343.3h0M482 347.4h0M464.4 348.4h0M470.1 350.3h0M468.8 351.6h0M483 350.9h0M489.1 353.1h0M459.6 356h0M463.1 355.6h0M479.2 354.1h0M499.1 356.9h0M541 357.8h0M541.3 354.5h0M541.7 357.6h0M541.7 351.7h0M542.2 358h0M542.3 352.7h0M542.8 359.7h0M543.6 355h0M543.9 361.7h0M545 361.3h0M545.5 361.3h0M546.1 361.4h0M545.9 360.1h0M546.6 361.1h0M546.6 358h0M546.5 356.3h0M547.2 361.7h0M547.7 362.6h0M548.8 364h0M549.4 364h0M549.4 359.3h0M549.9 364.2h0M550.5 363.9h0M550.3 363.3h0M551.2 364.2h0M553.2 363.8h0M553.8 362.7h0M553.7 359.4h0M555.4 365.3h0M556 365.3h0M556 359h0M556.5 366h0M556.4 362.7h0M556.6 361.5h0M557.1 365.9h0M556.9 365.4h0M556.8 363.5h0M557.6 365.8h0M557.9 365.8h0M558.7 365.5h0M559.8 362.9h0M560.9 364.3h0M561.5 359.1h0M562 364.4h0M562.3 363.6h0M562.6 363.7h0M563.1 364.1h0M563.7 363.9h0M564.2 364.1h0M564.8 364.1h0M565.3 364h0M565.7 359.8h0M566.8 358h0M566.7 355.7h0M567.5 362h0M567.6 356.8h0M567.5 354h0M568.1 360.7h0M568.1 352.8h0M568.6 359.7h0M568.6 351.9h0M570.3 358.9h0M570.3 353.2h0M570.6 358.7h0M570.5 358.9h0M570.5 356.9h0M546.9 342.1h0M547.4 353.1h0M541.4 352.8h0M561.3 356.9h0M569.3 354.1h0M554.5 360.4h0M545.5 356.9h0M598.2 360.6h0M598.3 361.8h0M598.5 358h0M599.9 359.6h0M601.1 359.6h0M601.7 362.5h0M602.2 364.2h0M602.1 363.6h0M602.7 364.2h0M602.7 364h0M603.3 364.4h0M603.2 363.6h0M603.8 362.4h0M604.4 364.8h0M604.6 361.7h0M605.5 364.5h0M606 364h0M607.1 364h0M607.7 362.9h0M608.2 362.5h0M608.8 362.9h0M608.8 358.3h0M609.3 362.8h0M609.9 362.6h0M610.4 357.4h0M610.8 362.9h0M610.8 363h0M610.8 363.1h0M601.5 337h0M601.2 341.4h0M599.1 350.3h0M604 351.2h0M608.2 350.9h0M602.5 353.1h0M607.2 355h0M603.4 355h0M633.4 360.7h0M633.4 360h0M634.1 356.7h0M634.6 362.7h0M635.2 362.4h0M635.7 363.9h0M637.1 363.4h0M637.4 363.5h0M637.9 363.9h0M638.5 363.8h0M639 363.7h0M640.1 363.2h0M640.2 359.4h0M641.2 360.5h0M641.3 355.5h0M641.8 361.3h0M642.9 362.2h0M642.7 359.4h0M642.9 354.4h0M643.4 362.4h0M645.6 363.3h0M645.7 363h0M647.3 364.2h0M647.1 362.5h0M647.8 363.8h0M648.9 363.8h0M649.1 364.1h0M649.5 364h0M650 363.9h0M650.2 363.1h0M650.6 364.1h0M650.6 358.8h0M651.1 363.4h0M652.8 362.9h0M652.9 361.7h0M653.3 362.3h0M653.2 361.3h0M654.7 359.4h0M654.4 354.9h0M655 360.7h0M655 358h0M655.5 360.1h0M655.8 359.2h0M657.2 359.9h0M657.9 357.4h0M657.7 351.9h0M658.8 358.1h0M659.4 357.6h0M659.9 358.8h0M660.2 357.4h0M660.6 354.6h0M661.8 355.7h0M661.8 360h0M661.9 360.3h0M657.9 338.5h0M634.3 350.3h0M641.9 351.6h0M657.9 352.2h0M660.7 354.1h0M633.8 356.9h0M648 361.1h0M319.6 338.5h0M319.6 341.5h0" stroke="#b3b3b3" stroke-width="2.9" stroke-linecap="round" fill="none"/>
<path d="M136.5 357.6h0M136.3 359.3h0M136.4 358.3h0M136.6 359.3h0M137.1 359.7h0M137.7 359.4h0M138.2 360h0M138.3 359h0M138.5 354.8h0M138 353.5h0M138.8 359.9h0M138.7 359.8h0M139.3 360h0M139.9 359.5h0M140 360.3h0M140.4 359.8h0M141 359.8h0M140.9 357.5h0M141 355.7h0M141.6 360.4h0M144.3 359.4h0M144.8 359.5h0M144.7 359.7h0M145.4 360h0M145.2 355.7h0M145.9 359.7h0M146.5 359.6h0M146.6 354.4h0M147.1 357.7h0M147.2 352.6h0M148.1 360.9h0M148.1 353.1h0M148.7 360.8h0M149.2 360.8h0M149.4 359.4h0M149.8 360.5h0M149.8 357.6h0M150.3 360.6h0M150.4 356.7h0M150.9 360.6h0M151.3 358.8h0M151.6 353.6h0M152 360h0M151.8 355.7h0M153.1 360.7h0M154 356.6h0M154.7 362.9h0M155.3 363.3h0M155.3 363.1h0M155.5 359.5h0M156.4 363.3h0M156.1 363.2h0M158 363.7h0M158.1 363.7h0M158.6 362.7h0M158.5 362.4h0M159.1 355.7h0M159.7 363.6h0M163 363.6h0M164.6 363.1h0M164.5 364.1h0M164.6 358.6h0M165.2 363.4h0M165.7 363.7h0M166.3 364h0M166.8 363.8h0M166.8 360.9h0M166.8 363h0M166.8 362.4h0M166.8 362.5h0M139.3 346.5h0M152.9 346.1h0M156.1 349.7h0M139.3 352.2h0M145.9 351.2h0M147.6 350.9h0M163.4 356h0M166.2 355h0M153.5 348.4h0M205.4 360.6h0M205.4 360.1h0M205.4 360.4h0M205.4 360h0M206.6 357.2h0M207.3 360h0M208.4 359.7h0M208.8 357.1h0M210.1 359.8h0M211.7 362.7h0M212.3 363.2h0M212.8 363.3h0M213.4 364.3h0M213.9 364.5h0M215 363h0M215.6 364.4h0M217.2 364.8h0M217.8 364.7h0M218.2 363.9h0M218.7 363.4h0M219.4 364.3h0M220.5 364.6h0M221.1 364h0M221.6 364.3h0M222.1 363.3h0M222.7 363.4h0M223.3 363.5h0M223.6 358.6h0M224.4 362.4h0M224.9 361.8h0M224.9 357.4h0M225.4 356.7h0M226 360.2h0M226.2 356.4h0M227 357.1h0M227.7 360.1h0M228.1 355.8h0M229.9 359.4h0M230 354.4h0M230.4 360h0M230.2 351h0M231 348.8h0M231.5 358.8h0M231.4 351.7h0M232.1 358.4h0M232.5 358.7h0M232.6 353.4h0M232.6 348h0M232.6 358.7h0M232.6 352.4h0M231.2 348.4h0M225.1 351.6h0M230.6 351.2h0M210.3 354.7h0M211.8 356h0M223.2 355.6h0M227.4 356h0M231.7 355.4h0M207.4 359.8h0M264.8 361.7h0M264.8 362.1h0M264.6 362.2h0M264.8 362.4h0M265.1 362.1h0M265.6 362.3h0M266.7 361.8h0M267.8 361h0M269.1 357.1h0M269 355.5h0M269.5 361.4h0M269.5 360.3h0M271.1 362.6h0M271.7 364h0M271.4 360.3h0M272.2 365.3h0M273.3 365.3h0M273.9 365.4h0M274.4 364.5h0M275 364.9h0M274.9 363.5h0M275.7 364.9h0M276.1 365h0M276.1 357.4h0M276.6 364.2h0M277.2 364.1h0M276.9 361.7h0M278.5 359.5h0M278.8 361.5h0M278.9 358.3h0M279.9 359.3h0M280.5 359.5h0M280.9 359.4h0M281.6 359.9h0M281.4 359.6h0M282.2 358.2h0M282.9 356.6h0M283.2 362.8h0M283.4 357.9h0M283.7 359.6h0M284.3 362.8h0M284.8 360.9h0M286.2 361.3h0M286.5 363.3h0M286.3 359.8h0M286.5 356.8h0M287.1 363.4h0M287 355.4h0M287.6 361.8h0M288.2 360.6h0M288.5 358.7h0M290.4 359.5h0M291 355.7h0M291.5 358.8h0M292 358.9h0M292.1 355.6h0M292.6 360.3h0M293.1 360.8h0M293.7 360.2h0M293.6 356.9h0M294.2 360.8h0M294.2 355.5h0M294.2 360.6h0M283 342.1h0M283 345h0M283 350.9h0M279 352.2h0M268.6 352.6h0M282.8 353.1h0M285.6 358.8h0M291.8 351.2h0M292.3 355h0M331.1 364.5h0M331.1 364.5h0M331.4 364.3h0M331.3 363.1h0M331.9 362.4h0M332.2 361.5h0M333 363.9h0M333.6 362.9h0M333.4 361.7h0M334.7 362.5h0M334.6 359.7h0M335.2 361.5h0M335.4 356.1h0M336.2 357.2h0M336.9 360.7h0M337.4 361.7h0M338 361.9h0M338.1 359.6h0M338.7 359.2h0M339.6 363.7h0M339.4 361.8h0M340.2 363.3h0M340.7 363.9h0M341.3 363.7h0M341.8 363.7h0M342.4 363.7h0M342.9 364.1h0M343.4 360h0M344 358h0M344.6 360.7h0M345 356.2h0M345.7 358.1h0M345.6 356h0M346.8 357h0M347.3 356.8h0M348.4 359.4h0M349.6 354.5h0M350.1 361.2h0M350.1 357.9h0M350 354h0M350.2 352.8h0M350.5 360.9h0M351.2 361.4h0M351.5 357.2h0M352.3 361.1h0M352.7 361.1h0M353.4 361.7h0M353.9 361.8h0M354.5 361.4h0M354.2 360.2h0M355 361.7h0M356.7 358.8h0M356.5 350.3h0M357.2 358.4h0M357.2 350.2h0M357.8 359.3h0M357.8 348.3h0M358.9 359.2h0M358.9 353.9h0M359.2 356.5h0M340.2 351.2h0M346.4 349.3h0M347.9 348.4h0M350.2 350.9h0M357.2 349.3h0M356.9 351.2h0M336 354.1h0M353.1 353.7h0M399.7 363.1h0M399.4 362.7h0M399.4 362.5h0M399.4 361.3h0M400.2 362.6h0M400 361.5h0M400.8 361.4h0M401.3 362.4h0M401.9 362h0M402.4 353.3h0M403 360.3h0M403 356.9h0M403.5 360.4h0M403.7 359h0M404.1 361.3h0M404.1 356.6h0M405.2 361.1h0M405.7 360.8h0M406.3 361.9h0M406.2 357.7h0M407.4 361.4h0M407.4 356.1h0M407.9 361.5h0M408.5 361.3h0M408.5 354.6h0M408.8 356.9h0M409.6 361.2h0M409.3 355.5h0M410.1 361.2h0M410.1 348.7h0M410.7 359.8h0M410.7 352.8h0M411.2 357.8h0M411.1 352.3h0M412.3 361.6h0M412.7 356.6h0M414.2 361.4h0M414.2 361h0M414 358.4h0M414.2 349.1h0M414.2 359.6h0M399.9 350.9h0M410.3 346.5h0M412.8 349.7h0M410.5 352.2h0M441.8 359.3h0M441.9 359.7h0M441.7 359.7h0M441.8 359.2h0M441.7 358.8h0M442 358.7h0M442.5 359.6h0M442.7 358.5h0M443.1 359h0M443.6 361.1h0M444.2 363.6h0M444 357.8h0M444.2 352.8h0M445.4 359.6h0M445.8 364.7h0M446 363.2h0M446.4 364.7h0M446.9 364.6h0M447.5 365h0M448 365.3h0M448.6 364.9h0M448.6 361.3h0M448.5 358.6h0M449 360.3h0M449.7 363.8h0M450.2 362.7h0M450.8 361.9h0M450.7 360.9h0M451.3 361.9h0M451.5 360.7h0M452.4 360.3h0M453.5 360.4h0M454.2 359.6h0M454.1 359.1h0M449.8 346.1h0M449.8 348.4h0M444.1 349.3h0M449.8 351.2h0M443.5 353.1h0M445.4 355.6h0M506 362h0M506.1 361.8h0M506.2 361.3h0M506.1 358.8h0M506.4 361.7h0M506.6 361.6h0M506.9 361.7h0M506.7 361.4h0M507.5 361.7h0M508 361.7h0M509.5 359.6h0M510.2 361.4h0M510.5 358h0M511.3 362.5h0M511.9 362.5h0M512.4 362.2h0M512.5 360.9h0M512.4 355.3h0M513 356.4h0M513.5 362.6h0M514 362.5h0M514.6 362.7h0M514.7 362h0M516.8 362h0M516.8 361.6h0M517.5 360.5h0M518.7 362.5h0M519 362.1h0M520.1 361.8h0M521.2 356.3h0M522.8 361.5h0M523.4 361.9h0M523.4 355h0M523.9 362.7h0M523.7 358h0M524.5 362.2h0M524.7 359.1h0M525.3 360.8h0M525.6 362.8h0M526.1 362.2h0M526.1 357.1h0M526.7 362.7h0M527.2 362.5h0M527.5 361.7h0M527.8 363.1h0M528 362.5h0M528.3 362.2h0M528.9 362.5h0M528.8 359.6h0M529.4 362.6h0M530 362.7h0M530.1 357.9h0M530.5 362.9h0M531.1 362.3h0M531.3 359.6h0M531.6 361.7h0M531.5 358h0M531.6 350.8h0M532.2 360.6h0M532.7 360.7h0M533.8 361.9h0M534.2 358.7h0M534.4 355h0M534.9 361.8h0M535.2 359.5h0M535 357.8h0M506.3 348.8h0M508.5 351.2h0M509.9 352.8h0M531.7 348.4h0M527.1 351.6h0M531.7 351.2h0M524.7 355.4h0M514.2 358.3h0M516.1 358.8h0M576.4 364.4h0M576.4 364.5h0M576.5 363.9h0M576.5 364.4h0M577.2 356.9h0M577.6 362.7h0M577.7 359.3h0M578.1 358.2h0M578.7 362.8h0M579.3 363.6h0M581.5 363.6h0M581.7 362.6h0M581.9 362.3h0M582.6 363.5h0M583.7 362.4h0M583.7 347.2h0M584.8 359.1h0M584.9 357.9h0M585.3 358.8h0M585.9 359.6h0M586.4 354.1h0M587 361.8h0M587.2 356.9h0M588.1 363h0M587.9 359.1h0M588.6 363h0M589.2 363.3h0M589 360.3h0M589.5 362.3h0M589.7 358.9h0M590.3 363.4h0M590.1 361h0M590.8 363.8h0M590.6 359h0M592.4 360.3h0M592.4 358.4h0M592.4 357.9h0M592.2 356.5h0M583.1 345h0M583.1 350.9h0M591.5 353.1h0M591.9 355h0M591.5 358.8h0M587.3 355h0M616.7 360.3h0M616.9 359.4h0M616.8 355.6h0M616.7 360h0M616.8 360.1h0M617.4 360.5h0M618.1 357h0M618.5 360.2h0M619 359.7h0M619.6 359.1h0M619.4 354.5h0M621.2 352.5h0M621.8 360.5h0M623.1 357h0M622.8 355.4h0M624 360.1h0M625.1 356.4h0M625.6 361.8h0M626.2 362h0M626.7 362.4h0M627.3 362.5h0M627.5 361.3h0M627.5 359.4h0M627.5 361.9h0M617.2 346.5h0M627.5 348.8h0M620.5 350.9h0M618.6 355.4h0M623.3 356.9h0M617.6 358.8h0M622.4 359.8h0" stroke="#4d4d4d" stroke-width="2.9" stroke-linecap="round" fill="none"/>
<path d="M319.6 330.4h0M319.6 335.3h0" stroke="#00ff00" stroke-width="3.2" stroke-linecap="round" fill="none"/>
<path d="M318.5 247.4h0M319.6 248.3h0M319.6 274.3h0M319.6 280.3h0M319.6 284.5h0M319.6 298.8h0M319.6 303.8h0M319.6 317.7h0M319.6 323.5h0" stroke="#ff6347" stroke-width="3.8" stroke-linecap="round" fill="none"/>
<line x1="47" x2="47" y1="241.8" y2="373.8" stroke="#d8d8d8" stroke-width="2"/>
<path d="M42 373.5H47.2M42 340.5H47.2M42 324.5H47.2M42 316.5H47.2M42 266.5H47.2" stroke="#858585" stroke-width="1" fill="none"/>
<path d="M42 365.5H47.2M42 332.5H47.2" stroke="#2a2a2a" stroke-width="1" fill="none"/>
<path d="M42 357.5H47.2M42 283.5H47.2" stroke="#dedede" stroke-width="1" fill="none"/>
<path d="M42 348.5H47.2M42 299.5H47.2M42 291.5H47.2M42 275.5H47.2M42 258.5H47.2" stroke="#444" stroke-width="1" fill="none"/>
<path d="M42 307.5H47.2M42 242.5H47.2" stroke="#606060" stroke-width="1" fill="none"/>
<path d="M42 250.5H47.2" stroke="#c2c2c2" stroke-width="1" fill="none"/>
<text class="t" text-anchor="middle" transform="translate(35.1 379.8) rotate(-90)">0</text>
<text class="t" text-anchor="middle" transform="translate(35.1 354) rotate(-90)">3</text>
<text class="t" text-anchor="middle" transform="translate(35.1 330.9) rotate(-90)">6</text>
<text class="t" text-anchor="middle" transform="translate(35.1 304.8) rotate(-90)">9</text>
<text class="t" text-anchor="middle" transform="translate(35.1 270.6) rotate(-90)">13</text>
<text class="t" text-anchor="middle" transform="translate(11.6 315.5) rotate(-90)">log(1/p)</text>
<line x1="99" x2="648" y1="379.4" y2="379.4" stroke="#808080" stroke-width="1.0"/>
<path d="M99.6 379.4V384.4M151.6 379.4V384.4M186.4 379.4V384.4M219 379.4V384.4M248.4 379.4V384.4M279.5 379.4V384.4M312.6 379.4V384.4M345.7 379.4V384.4M378.7 379.4V384.4M407.1 379.4V384.4M447.3 379.4V384.4M478.4 379.4V384.4M520.5 379.4V384.4M555.6 379.4V384.4M605.3 379.4V384.4M622.4 379.4V384.4M647.4 379.4V384.4" stroke="#555" stroke-width="0.55" fill="none"/>
<path d="M428.5 379.4V384.4M584.4 379.4V384.4" stroke="#111" stroke-width="1.1" fill="none"/>
<text class="t" text-anchor="middle" x="95.1" y="402.3">1</text>
<text class="t" text-anchor="middle" x="147.1" y="402.3">2</text>
<text class="t" text-anchor="middle" x="181.9" y="402.3">3</text>
<text class="t" text-anchor="middle" x="214.5" y="402.3">4</text>
<text class="t" text-anchor="middle" x="243.9" y="402.3">5</text>
<text class="t" text-anchor="middle" x="275" y="402.3">6</text>
<text class="t" text-anchor="middle" x="308.1" y="402.3">7</text>
<text class="t" text-anchor="middle" x="341.2" y="402.3">8</text>
<text class="t" text-anchor="middle" x="374.2" y="402.3">9</text>
<text class="t" text-anchor="middle" x="402.6" y="402.3">10</text>
<text class="t" text-anchor="middle" x="442.8" y="402.3">12</text>
<text class="t" text-anchor="middle" x="473.9" y="402.3">13</text>
<text class="t" text-anchor="middle" x="516" y="402.3">14</text>
<text class="t" text-anchor="middle" x="551.1" y="402.3">15</text>
<text class="t" text-anchor="middle" x="600.8" y="402.3">17</text>
<text class="t" text-anchor="middle" x="642.9" y="402.3">X</text>
<text class="t" text-anchor="middle" x="364.1" y="421.8">Chromosome</text>
<text class="t" x="54" y="261">Ribs</text>
<text class="l" style="font-size:19.3px" x="6.2" y="237.9">b</text>
</g>
<g id="panel-c">
<line x1="47" x2="685" y1="535.3" y2="535.3" stroke="#b8b8b8" stroke-width="1.1"/>
<line x1="47" x2="685" y1="548.3" y2="548.3" stroke="#9c9c9c" stroke-width="1.05" stroke-dasharray="2.4 1.4"/>
<path d="M71 595.6L69.9 595.1L69.5 594L70.2 593.1L70 591.2L69.5 589.8L69.7 587.5L70.2 586L69.6 584L69.7 582.4L69.5 580.1L70 580.1L70.6 579.6L71.1 580L71.7 580.2L72.2 580.3L72.8 580.3L73.3 580.2L73.9 580.7L74.4 581L75 580.2L75.5 579.8L76.1 579.8L76.6 578.7L77.2 577.4L77.7 577.9L78.3 578.5L78.8 579.9L79.4 579.8L79.9 578.6L80.5 578.4L81 578.5L81.6 579L82.1 579.8L82.7 580.7L83.2 581.2L83.8 582.3L84.3 583.6L84.9 583.7L85.4 584.1L86 584.4L86.5 584.2L87.1 583.7L87.6 583.2L88.2 583.1L88.7 581.8L89.3 580.4L89.8 579.7L90.4 578.5L90.9 578.1L91.5 578.4L92 578.6L92.6 578.3L93.1 578.1L93.7 577.7L94.2 577.6L94.8 578.3L95.3 579.5L95.9 580.5L96.4 581.9L97 581.6L97.5 580.1L98.1 578.2L98.6 576.7L99.2 575.3L99.7 570L100.3 569L100.8 569.2L101.4 570.7L101.9 577.3L102.5 581.8L103 582.7L103.6 581.1L104.1 579L104.7 578.4L105.2 578.5L105.8 581.3L106.3 583.9L106.9 583.9L107.4 582.1L108 580.3L108.5 578.3L109.1 577.7L109.6 576.8L110.2 576.5L110.7 577.4L111.3 578.8L111.8 580.4L112.4 581L112.9 581.2L113.5 582.1L114 581.4L114.6 582L115.1 582.1L115.7 581.6L116.2 580.2L116.8 579.6L117.3 578.6L117.9 578.1L118.4 577.9L119 578.4L119.5 578.4L120.1 578.9L120.6 580.3L121.2 580.5L121.7 582.1L122.3 581.5L122.8 581.6L123.4 581.1L123.9 581L124.5 580.5L125 579.6L125.6 577.5L126.1 575.9L126.7 571.3L127.2 570L127.8 568.7L128.3 569.4L128.9 570.5L129.4 576.8L130 580.4L130.5 582.1L131.1 581.6L131.6 582.4L132 582.4L131.3 583.9L131.2 585.3L131.6 586.9L131.6 588.7L132 590.4L131.5 592L131.5 593.3L132 594L131.6 595.1L130.5 595.6Z" fill="#b3b3b3"/>
<path d="M71 580.8V580.1M71.7 581V579.8M72.2 581V579.9M73.3 581.1V578.8M74.4 581.6V578.4M75.5 581.1V577.3M76.1 580.3V576.5M76.6 579.4V576.8M78.3 579.7V578.6M78.8 581.2V580.4M79.4 580.7V580M79.9 579.8V578.8M80.5 579.2V575.7M81 579.4V577M81.6 579.7V578.4M86 585.1V582.8M90.9 579.2V577.5M94.8 579.3V578.3M95.3 580.3V577.1M95.9 581.3V580.6M96.4 582.4V581.5M97 582.8V579.3M97.5 581.2V576.4M98.6 577.8V577.2M99.2 576.3V575.6M100.3 570.1V569.5M103 583.2V581.5M106.3 584.5V582.3M106.9 584.4V582.9M108.5 579.4V578.5M109.6 577.9V574.5M117.3 580V578.7M117.9 579.4V577.2M121.2 581.9V580.2M123.4 582V580.7M123.9 581.7V579.3M124.5 581.3V580.5M127.2 571.2V570M129.4 577.8V575" stroke="#b3b3b3" stroke-width="2.9" stroke-linecap="round" fill="none"/>
<path d="M136.4 595.6L135.3 595.1L134.9 594L135.3 593.1L135.6 591.5L135.4 589.6L135.1 588.2L135.7 586.6L135.4 584.7L134.9 583.4L135.5 583.2L136 582L136.6 580.3L137.1 577.5L137.7 575.9L138.2 572L138.8 570.3L139.3 570.4L139.9 571L140.4 575.3L141 575.8L141.5 577.3L142.1 578.2L142.6 578.5L143.2 578.7L143.7 578.6L144.3 578.4L144.8 578L145.4 577.8L145.9 577.7L146.5 576.8L147 576.6L147.6 577.1L148.1 576.9L148.7 577.4L149.2 577.4L149.8 577L150.3 575.9L150.9 574.9L151.4 569.3L152 569.4L152.5 570L153.1 575.2L153.6 578L154.2 580.9L154.7 582.4L155.3 582.9L155.8 583.6L156.4 583.4L156.9 582.5L157.5 581L158 579.5L158.6 578.1L159.1 577.8L159.7 577.2L160.2 577.5L160.8 577.5L161.3 578.1L161.9 577.3L162.4 577L163 577.1L163.5 576.3L164.1 575.8L164.6 575.5L165.2 576.5L165.7 578L166.3 579.5L166.8 580.4L167.4 579.8L167.9 579.6L168.2 580.3L167.7 581.8L168.2 584L167.8 586L168 587.8L167.6 589.1L168.1 591.1L167.5 593.3L168.2 594L167.8 595.1L166.7 595.6Z" fill="#4d4d4d"/>
<path d="M136.6 581.2V576.6M137.1 578.9V575.3M141 576.9V575.4M144.8 579.3V574.7M145.4 578.8V574.3M148.7 578V575.7M149.8 577.7V572.3M153.1 576.3V575.1M153.6 578.9V576.5M156.4 584.5V583.5M157.5 582.1V580.5M159.1 578.6V576.9M159.7 578.6V574.4M161.3 578.8V577.3M164.1 576.9V575.6M165.7 579V575.8M166.3 580.2V576M166.8 581.1V577" stroke="#4d4d4d" stroke-width="2.9" stroke-linecap="round" fill="none"/>
<path d="M172.5 595.6L171.4 595.1L171 594L171.4 593.1L171.6 591.4L171.4 589.6L171.7 588L171 586.5L171.3 584.9L171 582.5L171.6 582.4L172.1 582.6L172.7 581.5L173.2 581L173.8 579.5L174.3 578.5L174.9 577.9L175.4 578.2L176 577.9L176.5 578.5L177.1 579.1L177.6 581L178.2 582.1L178.7 582.2L179.3 582.8L179.8 583.3L180.4 582.5L180.9 582L181.5 581L182 580L182.6 579.3L183.1 579.4L183.7 578.9L184.2 579.2L184.8 578.9L185.3 579L185.9 578.8L186.4 578.2L187 578.1L187.5 577.5L188.1 576.6L188.6 576.9L189.2 577.8L189.7 579.5L190.3 581.4L190.8 582.7L191.4 582.1L191.9 582L192.5 582.2L193 581.5L193.6 580.7L194.1 580L194.7 579.4L195.2 579L195.8 578.1L196.3 578.1L196.9 578L197.4 578.3L198 578.9L198.5 580L199.1 580.5L199.6 580.8L200.2 580L200.7 580L201 579.9L200.8 581.4L200.4 583.1L200.6 584.6L200.4 586.7L200.3 588.8L200.5 590.8L200.7 592.7L201 594L200.6 595.1L199.5 595.6Z" fill="#b3b3b3"/>
<path d="M172.4 583.2V582.2M174.3 579.6V578.1M176 579.2V578M176.5 579.8V577.5M178.2 582.7V581.2M179.3 583.7V580M179.8 583.9V582.6M183.7 580.3V577M185.3 580.2V575M187.5 578.2V576.6M188.6 577.8V576.8M190.8 583.7V582.9M192.5 583.2V582.5M193.6 581.9V580.8M194.1 581.1V577.1M197.4 579.6V576.2M198 580.1V578.4M199.6 581V579.9" stroke="#b3b3b3" stroke-width="2.9" stroke-linecap="round" fill="none"/>
<path d="M205.5 595.6L204.4 595.1L204 594L204.4 593.1L204.6 591.7L204.1 590.2L204.2 588.1L204.4 586.5L204.4 584.7L204.7 582.9L204 581.1L204.6 581L205.1 581.2L205.7 580.2L206.2 577.5L206.8 574.6L207.3 573.2L207.9 573.4L208.4 576.1L209 578.6L209.5 580.6L210.1 579.9L210.6 578.8L211.2 578.5L211.7 577.2L212.3 579L212.8 580.8L213.4 581.7L213.9 582.3L214.5 582L215 582.5L215.6 583.6L216.1 583.2L216.7 583.4L217.2 583.5L217.8 582.7L218.3 582.2L218.9 581.2L219.4 581.1L220 580.3L220.5 579.4L221.1 578.5L221.6 577.1L222.2 576.8L222.7 576L223.3 576.3L223.8 575.9L224.4 576L224.9 575.9L225.5 576.3L226 578.1L226.6 577L227.1 575.1L227.7 574.5L228.2 574.2L228.8 575.9L229.3 578.6L229.9 579.2L230.4 577.6L231 576.7L231.5 576.2L232.1 576.7L232.6 577.5L233.2 578.9L233.7 580.3L234 580.3L233.9 581.8L233.7 583.8L234 585.5L233.7 587.3L233.3 589.3L233.8 591.3L233.2 592.9L234 594L233.6 595.1L232.5 595.6Z" fill="#4d4d4d"/>
<path d="M205.4 581.9V576.6M205.4 581.9V576.6M205.4 581.9V581M207.3 574.6V573.6M209.5 581.2V579.7M211.7 578.5V577.9M214.5 583.3V582.6M215 583.7V582.6M215.6 584.3V582.2M217.8 583.5V581.8M218.3 583V582.2M222.2 577.8V576.1M222.7 577.4V575.7M224.4 576.5V572.7M225.5 577.5V572.8M232.1 577.4V576.1M232.6 580.1V578" stroke="#4d4d4d" stroke-width="2.9" stroke-linecap="round" fill="none"/>
<path d="M238.2 595.6L237.1 595.1L236.7 594L236.8 593.1L236.8 590.9L236.8 588.9L237.4 586.8L237.2 585.2L237.1 583.7L236.9 581.6L236.7 580L237.2 580L237.8 580.1L238.4 579.8L238.9 580L239.5 580.2L240 580.7L240.6 581.1L241.1 582.4L241.7 583.1L242.2 583.3L242.8 583.8L243.3 584L243.9 583.7L244.4 583L245 582.5L245.5 582.3L246.1 582L246.6 579.9L247.2 579L247.7 577.6L248.3 577.3L248.8 577.3L249.4 577.3L249.9 577.6L250.5 577.8L251 578.7L251.6 579.1L252.1 578.7L252.7 577.6L253.2 576.8L253.8 575L254.3 575L254.9 575.3L255.4 576.3L256 578.4L256.5 578.3L257.1 578.5L257.6 578.8L258.2 578.4L258.7 578.9L259.3 578.4L259.8 577.1L260.2 576.1L259.5 577.6L259.5 579.5L259.7 581.5L260.1 583L259.7 585.2L260.1 587.5L259.4 588.9L259.5 590.8L260.2 592.7L260.2 594L259.8 595.1L258.7 595.6Z" fill="#b3b3b3"/>
<path d="M244.4 584.1V582.4M245.5 583V581.5M247.7 578.5V575M250.5 579.1V577.7M251 579.7V577.7M253.2 577.4V576M253.8 576.4V575.6M257.6 579.5V574.6M258.2 579.1V574.7M258.8 579V577.7" stroke="#b3b3b3" stroke-width="2.9" stroke-linecap="round" fill="none"/>
<path d="M264.9 595.6L263.8 595.1L263.4 594L264.1 593.1L264.1 591.1L263.9 589.7L264.1 588L264.1 585.9L263.8 584.1L263.5 582L264.1 580L263.4 578.8L263.9 578.8L264.5 579.1L265.1 578.8L265.6 577.8L266.2 578.2L266.7 578L267.3 579L267.8 579.4L268.4 579.8L268.9 580.3L269.5 579.6L270 579.5L270.6 578.2L271.1 567.1L271.7 561.7L272.2 561.3L272.8 565.1L273.3 576.3L273.9 578.3L274.4 578.7L275 578.4L275.5 578.4L276.1 575L276.6 569.3L277.2 570.3L277.7 571.8L278.3 578L278.8 578.5L279.4 577.8L279.9 578.2L280.5 577.9L281 578L281.6 578.5L282.1 575.8L282.7 567.4L283.2 564.7L283.8 564.7L284.3 569.4L284.9 577.7L285.4 579.3L286 580L286.5 580.2L287.1 580.7L287.6 579.9L288.2 578.7L288.7 578.1L289.3 577.6L289.8 576.7L290.4 576.2L290.9 576.7L291.5 576.5L292 576.3L292.6 575.7L293.1 575.7L293.7 575.9L294.2 577.9L294.8 577.8L295.3 577.3L295.6 577.4L295.3 578.9L295 580.9L294.9 583.2L294.9 585L295.4 586.6L295.4 588.5L295.2 590.2L295 591.5L295 593.3L295.6 594L295.2 595.1L294.1 595.6Z" fill="#4d4d4d"/>
<path d="M264.8 579.9V579.2M267.8 580.5V579M268.4 581V579.1M270 580.3V574.9M270.6 579.2V576.7M271.1 568V566.8M272.8 566.1V565M274.4 579.3V576.4M278.3 578.8V575.5M278.8 579.2V578.4M280.5 578.7V575.9M281.6 579.4V574.3M282.1 576.7V574.4M283.2 565.8V565M286 580.7V575.8M287.1 581.3V580M292.6 577.1V576.1M294.2 578.5V576.2M294.2 578.5V577.6" stroke="#4d4d4d" stroke-width="2.9" stroke-linecap="round" fill="none"/>
<path d="M300.5 595.6L299.4 595.1L299 594L299.4 593.1L299.2 591.3L299.4 589.1L299 587.6L299.5 585.9L299.2 584.5L299.3 583.1L299.6 581.2L299 579.8L299.6 579L300.1 578.4L300.7 576.3L301.2 574.6L301.8 573.3L302.3 572.6L302.9 572.1L303.4 571.2L304 571.1L304.5 565.1L305.1 564.3L305.6 563.8L306.2 564.3L306.7 564.3L307.3 565.2L307.8 565.5L308.4 566.4L308.9 567.7L309.5 573.6L310 575.9L310.6 577.6L311.1 579.2L311.7 580.6L312.2 582.5L312.8 583.9L313.3 584.9L313.9 584.7L314.4 583.9L315 580.7L315.5 577.8L316.1 574.7L316.6 569.3L317.2 568.2L317.7 567.1L318.3 565.7L318.8 564.7L319.4 564L319.9 565L320.5 566.5L321 573.7L321.6 575.1L322.1 576.3L322.7 577.1L323.2 577.5L323.8 577.1L324.3 577.2L324.9 578.4L325.4 579.6L326 580.3L326.5 579.8L326.9 579.3L326.2 580.8L326.2 582.4L326.3 584.1L326.4 585.8L326.1 587.4L326.5 588.9L326.5 591.1L326.5 592.7L326.9 594L326.5 595.1L325.4 595.6Z" fill="#b3b3b3"/>
<path d="M302.9 573.1V571.3M309.5 574.9V569.1M310 576.9V573.9M311.1 580.3V578.9M311.7 581.9V577.3M312.8 585V584M313.3 586V585.2M316.1 576.2V575.5M316.6 570.5V569.4M317.7 567.7V566.6M319.9 565.9V564.7M322.7 578.3V576.5M323.2 578.7V577M324.9 578.9V577.1M325.4 580.8V578.3M325.4 581V580.4" stroke="#b3b3b3" stroke-width="2.9" stroke-linecap="round" fill="none"/>
<path d="M331.2 595.6L330.1 595.1L329.7 594L330.1 593.1L330.2 591.1L329.7 588.9L330.2 586.9L330.2 585L330.1 583.7L330 582L329.7 579.1L330.2 579.2L330.8 579.1L331.4 579L331.9 578.3L332.5 577.7L333 577.5L333.6 577.1L334.1 577.9L334.7 577.8L335.2 577.8L335.8 578.3L336.3 578.8L336.9 579.2L337.4 580.9L338 581.2L338.5 583L339.1 582.4L339.6 582.2L340.2 580.5L340.7 579.1L341.3 578.2L341.8 578.2L342.4 577.7L342.9 577.6L343.5 577.8L344 577.5L344.6 576.8L345.1 576.7L345.7 575.7L346.2 576.3L346.8 576.9L347.3 579.1L347.9 579.9L348.4 580.6L349 580.4L349.5 579L350.1 578L350.6 578.1L351.2 577.2L351.7 576.9L352.3 576.7L352.8 576.4L353.4 575.9L353.9 576.2L354.5 575L355 575.1L355.6 574.7L356.1 574.3L356.7 574.4L357.2 574.9L357.8 575.8L358.3 576L358.9 578.6L359.4 579.1L360 579.6L360.5 578.9L359.9 580.4L360.1 581.8L360 584.1L360.3 585.5L360 586.8L360.3 588.2L360 590.1L360.4 592.4L360.5 594L360.1 595.1L359 595.6Z" fill="#4d4d4d"/>
<path d="M331.1 579.7V579M331.1 579.7V578.9M333.6 578.5V574.7M334.1 578.6V577.7M334.7 578.8V575.4M335.2 579V577.1M337.4 581.5V579.6M338.5 583.7V581.7M342.9 578.9V576.9M343.5 578.8V575.9M345.7 577.1V575.1M352.8 577.5V572.2M353.9 576.8V575.2M355.6 575.5V574M356.7 575.6V574.2M359.1 580.2V575.3M359.1 580V575.1" stroke="#4d4d4d" stroke-width="2.9" stroke-linecap="round" fill="none"/>
<path d="M364.6 595.6L363.5 595.1L363.1 594L363.4 593.1L363.3 591.1L363.3 589.4L363.5 587.9L363.6 586.1L363.8 584.1L363.7 582.2L363.1 579.9L363.7 579.8L364.2 579.8L364.8 580.7L365.3 579.9L365.9 579.5L366.4 579.7L367 579.8L367.5 580.6L368.1 581.9L368.6 582.1L369.2 582.1L369.7 581.3L370.3 581.3L370.8 579.8L371.4 580L371.9 579.5L372.5 580.3L373 579.8L373.6 580.6L374.1 580.8L374.7 581.1L375.2 581.3L375.8 581.7L376.3 581.2L376.9 579.8L377.4 579.3L378 578.6L378.5 578.3L379.1 577.9L379.6 578.2L380.2 579.1L380.7 580.5L381.3 580.7L381.8 581.4L382.4 582.1L382.9 582.5L383.5 582.7L384 582.1L384.6 582.1L385.1 581.4L385.7 580.5L386.2 579.9L386.8 578.9L387.3 578.4L387.9 579.2L388.4 580.5L389 581.8L389.5 582.8L390.1 583.2L390.6 583.5L391.2 582.1L391.7 579.8L392.3 574.7L392.8 567.7L393.4 566.9L393.9 567.7L394.5 567.4L395 567.9L395.2 567.9L394.8 569.4L394.7 571.1L394.5 572.7L394.4 575L395 576.8L394.7 578.8L394.5 580.9L394.6 582.9L395.1 585.2L394.4 586.5L394.5 588.5L394.9 590.7L394.6 592.8L395.2 594L394.8 595.1L393.7 595.6Z" fill="#b3b3b3"/>
<path d="M364.6 581V579.6M364.6 581.3V579.3M365.9 580.6V577M366.4 580.6V576.3M368.6 583.3V582M369.2 583V582.2M369.7 582.5V581.4M370.3 581.8V579.7M374.7 582V580.4M376.3 582V579.7M376.9 581V580M377.4 580V576.9M378.5 579V577.6M380.7 581.1V580M381.8 582.7V581.3M385.1 582.4V579.1M387.3 579.8V578.6M388.4 581.6V578.8M389.5 584V581.2M391.2 583.2V580.5M393.8 568.8V567.7" stroke="#b3b3b3" stroke-width="2.9" stroke-linecap="round" fill="none"/>
<path d="M399.5 595.6L398.4 595.1L398 594L398.6 593.1L398.2 591L398 589.3L398.1 587.5L398.8 585.8L398.4 583.7L398.7 582.1L398 580.6L398.6 580L399.1 579.5L399.7 578.6L400.2 577.5L400.8 577.2L401.3 577L401.9 576.6L402.4 577.4L403 578L403.5 578.2L404.1 579.1L404.6 578.9L405.2 578.9L405.7 577.9L406.3 578.2L406.8 579.5L407.4 579.4L407.9 579L408.5 577.3L409 577.8L409.6 578.6L410.1 580L410.7 580.5L411.2 580.4L411.8 579.7L412.3 578.9L412.9 578.9L413.4 578.9L414 580L414.5 580.4L415.1 580.8L415.6 581.1L415.6 582.6L415.4 584.5L415 585.9L415 588.1L415.2 590.4L415.4 592.6L415.6 594L415.2 595.1L414.1 595.6Z" fill="#4d4d4d"/>
<path d="M399.4 581.2V580.4M404.1 580.1V575.9M411.8 580.3V579.6M412.9 579.6V577.3M413.4 579.9V577.6" stroke="#4d4d4d" stroke-width="2.9" stroke-linecap="round" fill="none"/>
<path d="M420 595.6L418.9 595.1L418.5 594L419.3 593.1L418.8 591.6L419 589.9L419.3 588.5L419.2 586.9L419 585.5L418.6 583.5L418.5 581.7L419.1 581.4L419.6 581.2L420.2 580.9L420.7 579.1L421.3 578L421.8 576.6L422.4 573.5L422.9 572.4L423.5 571.7L424 571.9L424.6 572.7L425.1 577.1L425.7 579.9L426.2 581.8L426.8 583.2L427.3 584.1L427.9 584.5L428.4 584.1L429 582L429.5 580.9L430.1 579.1L430.6 579L431.2 579.3L431.7 579.2L432.3 579.3L432.8 579.7L433.4 579.2L433.9 579.6L434.5 579L435 578.3L435.6 577.3L436.1 577.7L436.7 577.7L437.2 578.3L437.4 578.1L436.8 579.6L437.1 581.6L437 583.3L437 584.9L436.8 586.4L436.8 588.3L437.1 589.8L437.3 592.1L437.4 594L437 595.1L435.9 595.6Z" fill="#b3b3b3"/>
<path d="M419.9 582.9V579.8M420.7 580.2V578.4M421.3 578.8V575.3M421.8 577.7V576.9M422.9 573.3V572.7M425.1 578V577.4M427.3 585.5V584.7M430.1 580.5V577.6M431.7 580V577.8M432.3 580.2V577.8M435.9 579V575.1M435.9 578.9V577.4" stroke="#b3b3b3" stroke-width="2.9" stroke-linecap="round" fill="none"/>
<path d="M441.8 595.6L440.7 595.1L440.3 594L440.5 593.1L440.5 591.3L441 589.9L441 588.5L440.3 587L440.9 584.9L440.5 583.1L440.7 581L440.3 579L440.9 578.8L441.4 579.7L442 579.3L442.5 577.8L443.1 577.2L443.6 575.9L444.2 575.5L444.7 576.1L445.3 578.4L445.8 579.5L446.4 580.9L446.9 581.1L447.5 581.5L448 582.5L448.6 582.1L449.1 582.9L449.7 582.7L450.2 581.5L450.8 580.1L451.3 579L451.9 577.7L452.4 577.9L453 578.4L453.5 578.5L454.1 578.5L454.6 578.7L455.2 579.1L455.5 579.3L455.4 580.8L455.2 583L455.1 584.4L455.3 586.2L455.1 587.8L455.5 590L455.1 592.1L455.5 594L455.1 595.1L454 595.6Z" fill="#4d4d4d"/>
<path d="M441.8 580.1V578.6M442.5 579.1V577.3M444.7 577.3V575.7M445.8 580.6V579.8M449.1 583.7V580.8M449.7 583.4V579.6M454.1 579.7V576M454.1 579.9V578.4" stroke="#4d4d4d" stroke-width="2.9" stroke-linecap="round" fill="none"/>
<path d="M459.4 595.6L458.3 595.1L457.9 594L458.1 593.1L458.5 591.1L458.4 589.4L458.3 587.8L458.7 586.4L458.2 584.2L457.9 582.8L458.4 582.7L459 582.6L459.6 582.3L460.1 580.6L460.7 579.7L461.2 579.6L461.8 580.3L462.3 580.7L462.9 581.9L463.4 583L464 583L464.5 582.9L465.1 581.2L465.6 580.2L466.2 578.3L466.7 576.1L467.3 570L467.8 568.5L468.4 569.6L468.9 571.8L469.5 580.9L470 583.4L470.6 582.7L471.1 582.9L471.7 581L472.2 578.7L472.8 576.5L473.3 573.5L473.9 576.2L474.4 578.4L475 578.8L475.5 578.1L476.1 578.1L476.6 578.5L477.2 578.4L477.7 580L478.3 581.3L478.8 582.8L479.4 584.3L479.9 583.8L480.5 584.1L481 583.8L481.6 583.7L482.1 583.5L482.7 583.3L483.2 582.4L483.8 581.6L484.3 581.1L484.9 580.6L485.4 580.5L486 579.7L486.5 580.4L487.1 580.6L487.6 580L488.2 580.2L488.7 581.2L489.3 581L489.8 581.6L490.4 582.8L490.9 583.3L491.5 583.4L492 583.8L492.6 584.6L493.1 584.5L493.7 585.4L494.2 585L494.8 583.9L495.3 583.3L495.9 582L496.4 580.2L497 577.9L497.5 572.9L498.1 569.7L498.6 569.8L499.2 570.1L499.7 576.8L500.3 581.4L500.8 583L501.4 582.4L501.9 582.9L502 582.6L501.9 584.1L501.9 586.2L501.5 588.5L501.3 590.5L501.2 592.1L502 594L501.6 595.1L500.5 595.6Z" fill="#b3b3b3"/>
<path d="M462.9 582.9V582.1M463.4 583.8V582.4M476.6 579.1V578.3M477.7 580.9V578.3M478.3 582.1V581.3M483.8 582.6V580.3M487.6 581.3V580.6M488.7 581.8V581.2M490.9 584.3V582.5M494.2 585.6V583.4M497 578.9V577.3M499.2 570.9V569.8" stroke="#b3b3b3" stroke-width="2.9" stroke-linecap="round" fill="none"/>
<path d="M506.2 595.6L505.1 595.1L504.7 594L505.1 593.1L505 591.2L504.8 589.3L505.1 587.5L504.8 585.4L505.4 583.6L504.7 581.6L505.2 581.8L505.8 581.5L506.4 580.4L506.9 578.2L507.5 577.4L508 577.5L508.6 576.9L509.1 576.5L509.7 573.5L510.2 573L510.8 573.1L511.3 575L511.9 578.5L512.4 579.4L513 580.9L513.5 582.6L514 584.2L514.6 584.9L515.1 584.6L515.7 583.7L516.2 581.9L516.8 580.5L517.3 580.4L517.9 580.5L518.4 582.3L519 582.9L519.5 584.4L520.1 584.6L520.6 583.5L521.2 579.9L521.7 575.5L522.3 569.7L522.8 568.4L523.4 567.8L523.9 567.7L524.5 569.1L525 575.6L525.6 578L526.1 579.2L526.7 579.9L527.2 580.3L527.8 580.3L528.3 580.3L528.9 579.9L529.4 578.7L530 578.4L530.5 577.8L531.1 578L531.6 577L532.2 576.8L532.7 577.1L533.3 577.9L533.8 579.1L534.4 580.2L534.9 580.4L535.5 580.2L536 579.3L536.6 578.7L536.6 580.2L535.9 581.6L536.6 583.4L535.9 585.2L535.9 586.5L536.6 588.6L536.4 590.3L536.1 592.1L536.6 594L536.2 595.1L535.1 595.6Z" fill="#4d4d4d"/>
<path d="M506.1 582.1V580.7M506.4 581V578M506.9 579.4V577.8M507.5 578.4V574.4M509.7 574.5V573.7M510.2 574.4V573.2M512.4 580.6V579.4M513 582.2V581.5M515.1 585.2V584.1M518.4 582.9V582.2M520.1 585.2V582.6M520.6 584.5V583.6M522.3 570.8V570.1M525 576.3V573.5M527.2 581.3V579.7M527.8 581.6V581M530.5 579.1V577.6M532.7 578.4V575.9M535.1 581.5V580.5" stroke="#4d4d4d" stroke-width="2.9" stroke-linecap="round" fill="none"/>
<path d="M541 595.6L539.9 595.1L539.5 594L539.9 593.1L540 591.3L539.9 589.4L540.3 588.1L539.7 586.7L539.9 585L539.8 583.4L539.9 581.1L539.5 579.9L540 579.4L540.6 579.3L541.1 579L541.7 578L542.2 577.8L542.8 577.4L543.3 577.8L543.9 578.1L544.4 579.3L545 579.2L545.5 580.3L546.1 579.7L546.6 578.6L547.2 578L547.7 577.5L548.3 577.7L548.8 577.8L549.4 578.1L549.9 579.2L550.5 579.9L551 581L551.6 581.6L552.1 583L552.7 583.7L553.2 585L553.8 584.3L554.3 584.1L554.9 583.4L555.4 583.4L556 582.6L556.5 580.9L557.1 579.5L557.6 579L558.2 578.3L558.7 578.9L559.3 578.6L559.8 578.4L560.4 578.4L560.9 579.2L561.5 578.5L562 578.6L562.6 577.7L563.1 577.6L563.7 576.5L564.2 575.5L564.8 572.1L565.3 571.8L565.9 571.7L566.4 572.5L567 576.3L567.5 578.2L568.1 579.2L568.6 581.3L569.2 582L569.7 583L570.3 581.9L570.8 581.2L571.4 581L571.9 580.3L572.1 581L571.9 582.5L571.4 584.5L571.3 586.6L572.1 588.7L571.3 590.1L571.9 591.6L572.1 594L571.7 595.1L570.6 595.6Z" fill="#b3b3b3"/>
<path d="M541 580.5V576.9M541.1 580V575.9M542.8 578.4V576.9M543.9 579.4V578.6M545.5 580.9V579.7M546.1 580.4V578.9M548.8 578.5V575.1M549.9 580.3V578.8M553.8 585.5V584.2M555.4 584.5V583.5M556 583.3V582.4M558.7 579.6V576.3M559.3 579.6V576.1M562 579.3V576.6M563.1 578.8V577.7M567 577.5V575.9M567.5 579V575.3M568.1 580.6V577.6M569.2 583.3V581.3M570.3 583.1V580.6" stroke="#b3b3b3" stroke-width="2.9" stroke-linecap="round" fill="none"/>
<path d="M576.4 595.6L575.3 595.1L574.9 594L575.1 593.1L575.1 591.7L575 589.6L575.5 587.5L575.6 585.7L575.5 583.9L575.1 581.6L574.9 580.5L575.4 580.1L576 581.1L576.5 581.1L577.1 581.2L577.6 580.9L578.2 581L578.7 580L579.3 579.7L579.8 578.2L580.4 578.2L580.9 577.3L581.5 576.5L582 576L582.6 575.2L583.1 574.6L583.7 573.6L584.2 573.7L584.8 573.7L585.3 574L585.9 574.5L586.4 574.9L587 574.7L587.5 575.3L588.1 575.7L588.6 575.2L589.2 577.3L589.7 579L590.3 577.3L590.8 577.5L591.4 578.3L591.9 580L592.5 581L593 581.3L593.6 581.2L593.9 580.3L593.6 581.8L593.7 583.7L593.2 585.7L593.7 587.6L593.9 589L593.6 591L593.2 592.8L593.9 594L593.5 595.1L592.4 595.6Z" fill="#4d4d4d"/>
<path d="M576.4 581.4V578.9M580.9 578.3V573.6M582.6 576V574.7M583.7 574.6V573.1M585.3 574.9V574.1M585.9 575.3V573.2M588.6 576.5V573.4M589.2 578.2V575.3M591.4 579.4V578M591.9 581V578.9M592.4 581.6V579.1" stroke="#4d4d4d" stroke-width="2.9" stroke-linecap="round" fill="none"/>
<path d="M598.2 595.6L597.1 595.1L596.7 594L596.9 593.1L597 590.9L597.5 589.3L597.5 587.9L597.2 586L596.8 584.2L597.1 582.6L596.7 580.5L596.8 578.3L597 576.3L596.8 574.6L596.7 572.5L597.2 575.4L597.8 576.2L598.3 576.5L598.9 577.9L599.4 578.5L600 580.8L600.5 582.5L601.1 581.6L601.6 579.9L602.2 579.2L602.7 579.3L603.3 578.9L603.8 578.7L604.4 578.1L604.9 577.9L605.5 578L606 578.1L606.6 577.5L607.1 578.2L607.7 577.6L608.2 577.6L608.8 578.3L609.3 578.3L609.9 578.5L610.4 579.1L611 579.8L611.5 579.8L612.1 580.3L612.3 579.9L612 581.4L611.8 583.6L611.6 585.5L612 587.1L612 589.3L612.2 590.8L612 592.6L612.3 594L611.9 595.1L610.8 595.6Z" fill="#b3b3b3"/>
<path d="M598.2 576.7V573.8M599.4 579.8V577.9M600.5 583.2V582M601.6 581.2V579.3M602.2 580.2V579.2M604.4 579V576.1M604.9 578.8V577.6M606.6 578.8V578M609.3 579.5V578.7M610.8 580.9V579.1M610.8 580.9V580.1" stroke="#b3b3b3" stroke-width="2.9" stroke-linecap="round" fill="none"/>
<path d="M616.7 595.6L615.6 595.1L615.2 594L615.7 593.1L615.2 591.3L615.9 589.1L615.8 587.7L615.6 585.8L615.3 584.1L615.5 582.7L615.5 581.2L615.9 579.8L615.9 577.9L615.5 576.1L615.2 573.5L615.8 573.6L616.3 573.7L616.8 567.7L617.4 566.1L617.9 565.5L618.5 567L619 573.7L619.6 577.6L620.1 577.7L620.7 578.9L621.2 579.2L621.8 578.7L622.3 579.1L622.9 579.1L623.4 578.5L624 577.3L624.5 577.1L625.1 576.7L625.6 576.1L626.2 577.9L626.7 580.1L627.3 581.4L627.8 581.4L628.4 580.7L628.9 579.8L629 579.9L628.9 581.4L628.9 583.1L628.9 585.4L628.9 587.2L629 588.9L629 590.3L628.9 592.1L629 594L628.6 595.1L627.5 595.6Z" fill="#4d4d4d"/>
<path d="M616.7 574.4V569.2M617.4 566.6V565.5M619.6 578.3V575.9M622.3 579.8V575.2M623.4 579.2V576.4M624 578.6V576.8M624.5 577.7V573.2M626.2 579.2V574.4M627.5 581.5V576.9M627.5 580.7V577.9" stroke="#4d4d4d" stroke-width="2.9" stroke-linecap="round" fill="none"/>
<path d="M633.4 595.6L632.3 595.1L631.9 594L632 593.1L632.7 591.2L632.3 589.5L632.5 587.5L632.5 586L632.1 584.2L631.9 582.1L632.4 582.1L633 581.5L633.5 579.5L634.1 578.9L634.6 577.9L635.2 577.2L635.7 577.6L636.3 577.6L636.8 579.2L637.4 580.1L637.9 580.8L638.5 580L639 578.4L639.6 577.7L640.1 577.5L640.7 577.8L641.2 579.5L641.8 581.1L642.3 581.7L642.9 583.1L643.4 583.3L644 584.3L644.5 584.3L645.1 584.6L645.6 584.2L646.2 584.5L646.7 584.8L647.3 584.8L647.8 584.8L648.4 585.5L648.9 585.1L649.5 585.5L650 585.6L650.6 585.1L651.1 585.5L651.7 584.8L652.2 584.8L652.8 584.9L653.3 585.2L653.9 584.7L654.4 583.6L655 581.6L655.5 579.7L656.1 578.1L656.6 573L657.2 571.7L657.7 571.4L658.3 573L658.8 577.2L659.4 579.4L659.9 579.5L660.5 579.6L661 580.2L661.6 581.7L662.1 582.3L662.7 582L663.2 582.2L662.5 583.7L662.7 585.6L662.5 586.9L662.4 589L662.6 590.9L662.6 592.7L663.2 594L662.8 595.1L661.7 595.6Z" fill="#b3b3b3"/>
<path d="M633.5 580.8V577.8M636.8 580.1V578.8M637.9 581.4V580.8M639 579.8V578.9M639.6 579V576.2M642.9 583.7V583M643.4 584.4V583.7M654.4 584.2V583.1M655.5 580.6V579.1M659.4 580.3V579.7M661 581.4V580.8M661.6 582.7V579.7M661.8 583.5V581" stroke="#b3b3b3" stroke-width="2.9" stroke-linecap="round" fill="none"/>
<path d="M71 580.3h0M70.7 580.7h0M71 580.7h0M70.8 580.8h0M71.7 580.1h0M72.5 576.6h0M72.8 581.2h0M73.2 578.1h0M73.9 580.5h0M73.8 579.2h0M74.4 580.8h0M74.5 577.1h0M74.6 575.9h0M75 581.2h0M76.6 581.3h0M77.2 580.3h0M78.3 580.8h0M78.8 581h0M78.9 578.8h0M79.4 581.1h0M80.5 581.1h0M80.5 566.9h0M81.2 578.9h0M81.6 581.6h0M81.8 579.4h0M82.1 582.7h0M83.2 582.3h0M83.8 584.1h0M84.3 584.8h0M84.9 584.3h0M85.4 584.4h0M86 584.7h0M86.7 584h0M87.1 581.4h0M87.6 584.6h0M88.2 584h0M88.4 582h0M88.1 580.1h0M88.4 578.8h0M88.7 584.4h0M89.8 583.2h0M90.4 582.3h0M91.2 578.9h0M91.5 574.5h0M92.6 578.9h0M93.1 578.6h0M93.5 578.8h0M94.1 577.6h0M94.3 574.2h0M94.3 573h0M94.8 581.8h0M94.6 578.9h0M95.9 582.1h0M96.4 582.6h0M96.4 575.6h0M97 582.2h0M97.1 582h0M97 577.6h0M97.5 582.1h0M98.1 582.3h0M98.1 578.5h0M98.6 582h0M99.2 580.3h0M100.3 578.1h0M100.8 582.4h0M101.9 582.6h0M102.5 582.8h0M102.7 579.6h0M103 582.1h0M103.1 581.1h0M103.6 582.4h0M104.1 582.7h0M103.9 578.4h0M104.6 575.6h0M105 578.2h0M105.6 581.9h0M106.3 584.2h0M106.5 583.8h0M106.3 580.1h0M106.9 581.7h0M108 584h0M109.1 581.6h0M109.8 573.7h0M110.2 580.6h0M110.7 581.5h0M111.3 582h0M111.8 582.5h0M112 580.6h0M112.4 582.3h0M112.6 579.8h0M112.9 582.7h0M113.5 582.2h0M113.5 582.1h0M113.9 580.6h0M114.6 581.9h0M114.6 578.6h0M115.1 582h0M116.2 576.9h0M116.8 578.3h0M117.3 581.4h0M117.9 580.7h0M117.8 578.7h0M117.9 575.4h0M118.4 580.5h0M118.7 578.7h0M119.2 575.3h0M118.8 574h0M119.5 575.7h0M120 576.4h0M119.9 575.1h0M120.6 581.9h0M121.2 581.8h0M121.7 581.7h0M122.3 581.8h0M123.9 582.3h0M125.5 577.1h0M126.7 579.5h0M127.2 578.3h0M127.8 576.9h0M127.7 567.6h0M127.6 566.3h0M128.3 565.6h0M128.9 582.7h0M130 582.2h0M129.8 578.6h0M130.5 583h0M130.5 578.3h0M130.6 583h0M130.4 581.2h0M130.6 582.9h0M126 559.5h0M93.5 563.3h0M101.1 565.5h0M81.4 566.5h0M104.9 568.8h0M81.4 570.3h0M101.1 570.9h0M121 572.8h0M128.6 569.7h0M77 574.1h0M98.8 573.1h0M110.6 573.1h0M125 577.5h0M172.4 582.4h0M172.7 582.6h0M172.9 580.8h0M173.8 582.1h0M174.9 581h0M176.5 582h0M177.6 582.9h0M177.7 580.8h0M177.6 567.6h0M178.7 583.3h0M179.3 583.8h0M179.8 579.1h0M180.4 583.3h0M180.3 582.6h0M180.7 582.5h0M182.2 579.7h0M182.6 581.9h0M183.1 581.8h0M183.7 580.7h0M183.4 576.8h0M184.2 579.7h0M184.1 579h0M184.9 577.3h0M185.3 580.1h0M185.3 574.7h0M185.8 574.1h0M186.4 579.8h0M186.8 576.1h0M187.5 579h0M187.7 572.5h0M188.1 579.4h0M187.9 574.6h0M188.6 572.4h0M189 575.3h0M189.7 583.3h0M189.6 580.2h0M190.8 583.3h0M191.4 583h0M191.4 580.7h0M191.9 583.5h0M191.9 581h0M192.5 575.4h0M193 582.4h0M193.7 580.5h0M194.1 582.1h0M194.2 579.7h0M195 576.6h0M195.8 580.9h0M196.3 579.3h0M196.3 579h0M196.7 576.2h0M197.4 580.1h0M197.3 575.2h0M197.6 573.9h0M198 580.6h0M198 579.6h0M199.1 580.6h0M199.3 579h0M199.6 580.5h0M199.6 580.5h0M199.8 581h0M199.6 580.5h0M199.6 578.6h0M199.5 576.8h0M199.4 575.5h0M199.6 580.6h0M175.6 554.7h0M186.6 558h0M186.6 561.8h0M183.2 565.5h0M197.4 567.4h0M188.5 569h0M184.7 570.9h0M197 573.1h0M175.2 575.6h0M180.9 575h0M238.1 580.4h0M238.2 579.4h0M238.4 580.8h0M238.9 581.9h0M239.3 579.5h0M241.4 583.3h0M241.7 572.4h0M242.2 584.3h0M242.1 584.3h0M242.8 584.5h0M243.9 584.6h0M243.8 583.8h0M244.4 584.9h0M244.5 582.2h0M245.2 581.7h0M246.6 582.4h0M246.5 580.9h0M247.2 582h0M247.9 577.8h0M248.8 578.9h0M248.8 576.8h0M249.4 578.9h0M250.1 578.2h0M250.5 579.2h0M250.7 578.6h0M251.6 579.1h0M252.1 579.2h0M252.7 571.7h0M253.4 574.1h0M253.8 579.2h0M253.7 571.7h0M254.3 578.1h0M254.3 575.5h0M254.9 578.3h0M254.8 575.3h0M256 578.7h0M256.1 576.1h0M256.5 578.5h0M257.1 579.1h0M257.6 579.1h0M257.6 577.6h0M258.2 579.7h0M258 578.4h0M258.2 571.2h0M258.8 579.1h0M258.5 576.4h0M258.8 573h0M258.8 579.2h0M258.9 577.4h0M258.8 579.6h0M258.8 575.2h0M249.6 556.1h0M250.7 568.4h0M257.7 568.4h0M238.2 572.2h0M253.9 570.3h0M239.7 576h0M256.8 573.1h0M249.2 574.1h0M300.4 580.6h0M300.4 580.4h0M300.4 580.1h0M300.6 579.5h0M300.6 576.3h0M301.2 579.2h0M301.2 571.5h0M302.4 573.2h0M302.9 574.8h0M302.7 569.9h0M303.5 572.1h0M304 572.5h0M303.7 567.1h0M305.1 572h0M306.2 566.3h0M306.7 565.7h0M307.8 574h0M308.9 577.9h0M309.5 579.2h0M309.5 569h0M310 581h0M309.8 576.8h0M311.1 577.5h0M311.7 584.9h0M311.7 580.7h0M312.1 581.4h0M313.3 585.3h0M313.2 584.5h0M313.9 585.2h0M314.1 585.7h0M315 585.3h0M315.5 585.4h0M316.1 584.4h0M317.2 578.3h0M317.7 575.8h0M319.4 573.5h0M319.9 574.5h0M321 577.6h0M321.1 572.6h0M321.6 572h0M322.1 578.1h0M322.3 574.9h0M323.2 578.4h0M323.4 577.2h0M323.8 580h0M323.8 572.4h0M324 571.2h0M325.4 580.8h0M325.4 581.1h0M325.6 581h0M325.5 580.6h0M306.6 555.5h0M319.5 553.2h0M300.9 560.2h0M319.5 557.4h0M319.5 559.9h0M306.6 562.1h0M303.7 564.6h0M309.4 566.5h0M320.8 565h0M300.9 568.4h0M303.7 569.7h0M324 569h0M309.4 571.2h0M324.6 573.1h0M307.5 574.1h0M364.6 581.2h0M364.5 578.5h0M364.8 576h0M364.6 574.7h0M364.6 580.3h0M364.9 580.6h0M364.8 571.8h0M365.9 581.6h0M365.6 578.9h0M365.9 571.8h0M366.4 581.8h0M366.6 577h0M366.8 578.9h0M367.9 581.8h0M369.2 582.3h0M369.9 581.8h0M370.4 577.1h0M371.4 582.1h0M371.9 576.2h0M373 581.5h0M373.6 582h0M373.6 576.3h0M374.1 582.1h0M374.7 582.1h0M375.6 581.7h0M375.8 577h0M376.3 582.2h0M376.9 581.7h0M377.4 581.8h0M377.4 579.4h0M378.5 580.4h0M379.1 580.2h0M379.6 581.4h0M379.6 577.3h0M380.2 582h0M380.7 582.5h0M381.3 582.3h0M381.4 581.3h0M381.6 582.7h0M382.4 582.8h0M382.2 578.8h0M382.1 577.6h0M382.9 582.9h0M382.9 581.8h0M383.5 582.7h0M383.6 581.4h0M384 582.8h0M384.6 583.3h0M384.4 582.5h0M385.1 582.9h0M385.2 582.3h0M385.7 583.1h0M386.2 582.7h0M386.1 580.6h0M387.9 583h0M388 579.9h0M388.4 583.6h0M388.6 577h0M388.3 575.8h0M389.1 581.7h0M389.5 584h0M389.5 581.9h0M391.7 583.4h0M392.3 583.7h0M392.2 571.6h0M393.8 567.7h0M393.8 568.5h0M393.9 568.3h0M393.8 568.4h0M393.3 558.9h0M371.7 566.5h0M367.7 568h0M393.3 568.4h0M365.8 570.9h0M374.9 570.3h0M393.3 571.2h0M372 572.2h0M378.7 575h0M386.8 575.6h0M393.3 575h0M419.9 581.8h0M419.7 580.2h0M420.2 582.3h0M421.3 581.7h0M421.3 578.3h0M421.8 580.6h0M422.4 579.9h0M422.2 572.1h0M422.1 570.9h0M423.5 577.5h0M424 580.2h0M424.6 582.4h0M425.1 583.7h0M425.7 576.8h0M426.2 585.7h0M426.2 578.8h0M426.8 585.1h0M427.3 584.9h0M428.4 584.9h0M429 585.5h0M429.5 584.9h0M430.1 584.4h0M431.2 581.2h0M431.2 572.2h0M431.7 580h0M431.6 578.6h0M432.8 580.3h0M432.9 580.4h0M433.4 580.1h0M433.9 579.6h0M434.2 579.1h0M435 579.6h0M435.6 580h0M435.9 579.1h0M435.9 578.2h0M435.9 578.8h0M436 576.3h0M435.7 578.8h0M420.4 563.6h0M433.6 567.4h0M434 570.9h0M423.8 571.2h0M421.3 575h0M435.5 575h0M430.8 576h0M459.3 582.9h0M459.3 583h0M459.3 583.2h0M459.6 579.5h0M460.7 582.6h0M460.4 577.5h0M460.7 576.2h0M461.2 582.1h0M461.4 578.7h0M461.8 583h0M461.8 575.8h0M462.3 583.7h0M462.9 583.5h0M463.4 583.7h0M463.4 579.1h0M464.5 583.9h0M465.1 582.4h0M465.6 583.2h0M465.6 576.3h0M466.7 581.3h0M466.6 572.3h0M467 571.1h0M467.3 580.5h0M467.4 570.8h0M467.8 580.7h0M467.9 569.6h0M468.4 583.4h0M468.9 583.8h0M469.5 584h0M469.4 579.7h0M470 583.7h0M470.1 582.9h0M470.6 583.3h0M470.3 579h0M471.1 583.3h0M471.3 583h0M471.9 582.3h0M472.2 583.8h0M472.8 583.6h0M472.8 576.3h0M473.3 581.4h0M473.9 579.8h0M473.7 577.2h0M475 579.5h0M475.5 579.3h0M475.7 579h0M476.6 581.6h0M476.6 569.8h0M478.3 584.5h0M479.4 584.2h0M479.9 584.2h0M481 583.9h0M481.1 584.3h0M482.1 583.8h0M482.1 573.5h0M483.2 584.2h0M483.2 578.7h0M483.8 583.5h0M483.7 581h0M485.4 582.3h0M485.4 575.1h0M486 581.2h0M486.7 577.6h0M486.3 576.4h0M486.9 581.1h0M488.2 582.8h0M488.1 579.5h0M489.8 584.3h0M489.8 582h0M490.4 584.7h0M490.2 583.6h0M490.8 582.5h0M491.5 585.5h0M492 585h0M491.8 584.1h0M492.6 585.6h0M492.6 585h0M493.7 585.7h0M493.6 585.2h0M494.2 585.1h0M494.8 585.7h0M495.3 585.4h0M495.3 579.5h0M495.9 584.7h0M496.4 578.3h0M497 570.6h0M498.1 580.3h0M498.6 567.2h0M499.2 583.3h0M499.7 583.5h0M499.9 576.3h0M500.3 582.8h0M500.6 583.1h0M500.6 583.5h0M500.6 583.7h0M461.5 562.1h0M468.2 567.1h0M498.6 566.5h0M498.6 569.3h0M473.1 571.2h0M458.7 572.8h0M483.4 573.5h0M476.4 576h0M460.2 576h0M463.1 577.5h0M486.8 576.9h0M488.7 578.8h0M541.1 578.9h0M541.1 578.3h0M541.7 579.5h0M541.9 576.1h0M542.2 579.9h0M542.8 579.6h0M542.6 573.4h0M543.3 580.1h0M543.3 578.7h0M543.9 580.2h0M545 580.4h0M545 569.1h0M545.4 579.3h0M546.1 580.4h0M546.2 579.9h0M546.6 579.7h0M546.9 577.4h0M546.6 574.9h0M547.2 580.6h0M548.3 580.1h0M548.3 576.5h0M548.8 580.4h0M549.4 581.4h0M550.5 579.8h0M550.5 577.6h0M551 584.3h0M550.8 581.6h0M551.6 585.1h0M552.1 584.8h0M552.4 582.9h0M553.8 579.6h0M554.3 585.3h0M556 584.7h0M556 582h0M556.5 584.2h0M556.8 581.2h0M556.9 580.2h0M557.2 577.3h0M557.6 582.3h0M557.9 579.3h0M558.4 578.6h0M558.2 571.3h0M559.8 578.7h0M560.4 579h0M560.9 579.3h0M560.9 572.3h0M561.5 579.6h0M561.4 576.2h0M562 579.4h0M562.6 579h0M563.1 579.4h0M563.2 578.1h0M564.2 578.1h0M564.4 576.4h0M564.8 578.5h0M564.8 570.3h0M565.9 578.2h0M566.1 570.3h0M567 581.4h0M567.5 582.9h0M567.4 576.9h0M568.1 583.3h0M568.6 583.4h0M569.2 582.9h0M569.7 583h0M569.7 579.7h0M570.6 583.4h0M570.6 582.6h0M570.7 581h0M570.8 579h0M570.6 574h0M544.6 564.6h0M565.5 562.7h0M565.9 565.9h0M546.1 570.3h0M542.1 572.2h0M565.5 571.2h0M561.7 574.1h0M567.4 574.1h0M558.8 575h0M598.2 568.7h0M598.2 577.4h0M598.3 574.6h0M598.2 579.7h0M598.9 582.3h0M598.8 575.9h0M598.9 564.8h0M599.4 582h0M600 582.8h0M599.8 580.8h0M600.5 582.2h0M601.1 582.6h0M600.9 580.8h0M601.9 578h0M603.3 580.5h0M603.8 579.2h0M604.4 578.9h0M604.3 576.5h0M604.4 573.9h0M604.9 578.9h0M605.3 578.2h0M606.1 577.8h0M606 574.4h0M607.1 578.2h0M608.2 579.7h0M608.1 578.6h0M608.8 580.3h0M609.9 580.4h0M609.9 567.5h0M610.4 580.5h0M610.4 576.5h0M610.8 580h0M610.6 578.6h0M610.8 580.8h0M611 578h0M610.8 580.6h0M611 579h0M610.8 580h0M598.3 563.6h0M598.7 566.1h0M602.5 565.5h0M607.2 565.5h0M598.3 570.9h0M598.3 574.1h0M601.5 575.6h0M606.3 575h0M604.4 576.9h0M633.4 582.9h0M633.4 582.8h0M633.2 581.6h0M633.5 582.2h0M635.2 580.3h0M635.1 575.5h0M635.7 581h0M635.7 575.7h0M636.5 578.4h0M636.8 581.2h0M636.7 577.9h0M637.4 581.3h0M637.9 580.5h0M637.8 580.4h0M638.5 580.8h0M638.5 576.6h0M639 580.4h0M639 578.1h0M639 575.9h0M639.2 574.6h0M639.6 581.3h0M639.6 576.9h0M640.1 578.4h0M640.7 582.3h0M641.2 583.3h0M641.9 581.5h0M642.3 584.3h0M642.4 583h0M642.9 584.7h0M644 585.2h0M644.5 582.2h0M645.1 585.1h0M645.6 585.6h0M646.2 585.5h0M646.7 586h0M647.3 586h0M648.4 585.9h0M648.9 586.1h0M649.5 586.2h0M650.6 586.4h0M651.1 578h0M651.7 586.3h0M652.2 586.3h0M653.3 585.8h0M653.9 585.1h0M654.4 583.5h0M655.5 584.7h0M655.5 576.5h0M656.1 583.8h0M656.6 582.1h0M657.2 580.4h0M658.3 579.7h0M658.8 579.9h0M659.2 580.3h0M660.1 578.8h0M660.5 582.4h0M660.5 575.4h0M661 582.4h0M660.8 578.9h0M661.4 582.3h0M661.8 582.6h0M661.8 582.7h0M661.8 583.1h0M661.8 583.1h0M636.2 566.1h0M657.1 566.1h0M655.2 567.1h0M636.2 569.7h0M641.9 569.3h0M640.4 571.2h0M657.5 571.2h0M633.8 575.4h0M639.5 576h0M637 577.9h0M319.6 553h0M306.7 555.9h0M300.7 560h0" stroke="#b3b3b3" stroke-width="2.9" stroke-linecap="round" fill="none"/>
<path d="M136.3 583.3h0M136.3 583.6h0M136.6 583h0M137.1 583h0M137.7 581.9h0M137.7 573.2h0M138.2 580.8h0M138.8 578.2h0M138.5 571.4h0M139.9 569.5h0M140.4 578.1h0M141 578.5h0M141.5 579h0M141.4 575h0M142 578h0M142.6 578.9h0M143.2 578.9h0M143 576.6h0M144.3 579.2h0M144.1 576.9h0M144.8 579.1h0M145.4 579h0M145.2 578.1h0M146.5 578.4h0M146.6 577.5h0M147.1 576.4h0M147.6 578.2h0M147.5 576.3h0M148.7 577.6h0M149.2 577.3h0M149.2 577.9h0M149.8 577.3h0M149.8 574.5h0M150.3 577.4h0M150.5 575.8h0M151.1 574.4h0M151.3 568.5h0M151.3 567.3h0M152 577.8h0M152.5 581.3h0M153.1 582.2h0M153.2 574.6h0M153.5 578.2h0M154.2 583.8h0M154.2 580.6h0M154.7 583.7h0M155.3 584.1h0M155.2 582.5h0M155.8 583.9h0M156.4 584.3h0M156.9 584.2h0M158.2 580.5h0M158.6 583.3h0M159 577.6h0M159.5 577.4h0M160.2 578.5h0M160.8 578.3h0M161.3 577.9h0M161.8 578.4h0M163.5 578.3h0M164.1 578.8h0M163.9 574.4h0M164.6 579.9h0M165.3 574.5h0M165.7 580.8h0M166.3 580.8h0M166 580.1h0M166.8 580.1h0M166.8 580.5h0M166.5 576.1h0M166.8 579.9h0M166.8 580.9h0M139.3 559.3h0M163.9 558h0M153.5 565.2h0M145.7 566.5h0M151 568.4h0M163.9 568h0M139.3 570.3h0M159.9 571.6h0M164.3 572.2h0M149.1 573.1h0M136.8 574.1h0M143.4 575h0M205.4 581.4h0M205.5 577.5h0M205.4 573.7h0M205.4 581h0M205.7 580.2h0M205.4 581.5h0M205.7 581.5h0M205.5 576.9h0M206.2 574.4h0M206.8 581.7h0M207 573.6h0M207.9 580.4h0M208.4 580.4h0M209.5 580.3h0M209.7 580.3h0M211.2 580.6h0M211.7 582.2h0M211.9 575.8h0M212.3 582.5h0M212.3 579.7h0M212.8 580.9h0M213.4 583.5h0M213.9 583.8h0M214.5 584h0M214.5 582.7h0M215.2 581.9h0M215 579.9h0M215.6 575.3h0M216.1 583.8h0M216.7 583.6h0M217.8 584.3h0M218 582.4h0M218.3 584.1h0M218.3 582.4h0M220 582.4h0M220.5 581.5h0M221.1 581.1h0M221.6 580.1h0M222.2 579.8h0M222.1 577.4h0M222.7 572.1h0M223.8 576.8h0M223.6 573.8h0M224.9 578.7h0M225 575.8h0M225.5 578.1h0M226 578.3h0M225.9 573.2h0M226.1 572h0M226.4 575.1h0M227.1 578.6h0M227.2 572.6h0M227.7 578.3h0M227.6 573.1h0M227.7 565.7h0M228.2 579.3h0M228.3 573.1h0M228.8 578.7h0M229.3 579.2h0M229.4 574.6h0M229.9 579h0M229.8 578.3h0M230.6 574.7h0M230.4 571.6h0M231.5 579.6h0M231.5 572.8h0M232.1 580.8h0M232.2 576.4h0M232.6 580.6h0M232.5 578.6h0M232.4 578.2h0M207.4 565.5h0M228.7 564.6h0M227.8 568.4h0M232.1 569.3h0M212.2 570.9h0M232.1 573.1h0M224 572.2h0M216.9 576.9h0M217.9 580.4h0M264.8 579h0M265 579.8h0M265.1 579.3h0M265.6 579h0M266.2 579.6h0M266.8 575.6h0M267.3 580.5h0M267.2 577.7h0M268.4 580.4h0M269.5 581.1h0M269.5 580.1h0M270 581.2h0M270.7 578.9h0M271.1 579.8h0M272.2 578h0M273.3 579.4h0M273.9 578.5h0M274.4 578.6h0M275 579.3h0M275.6 579.1h0M277.2 578.3h0M277.7 578.2h0M278.4 576.1h0M278.8 578.2h0M278.7 579h0M279.4 578.8h0M279.9 578.7h0M280.1 575h0M280.5 578.4h0M280.5 577.9h0M281.6 579h0M281.8 576.8h0M282.1 578.6h0M282.5 567.4h0M283.8 579.7h0M284.3 580h0M284.9 580.4h0M285.4 580.9h0M285.4 576.3h0M285.8 576.6h0M286.5 581.1h0M287.1 580.6h0M287.6 567.9h0M288.2 581h0M288.7 580.7h0M289.3 579.7h0M289.2 574.9h0M290.3 577.5h0M291.4 575.1h0M291.6 572.2h0M291.8 573.5h0M292 571.8h0M293.1 577.5h0M293.7 577.8h0M293.8 575h0M293.7 571.6h0M294.2 577.9h0M294.4 578.3h0M294.2 577.7h0M294.4 573.7h0M294.2 577.9h0M294.2 578.4h0M272 554.5h0M272 560.4h0M272 564h0M283.7 563.6h0M265.9 569.3h0M277.1 569.7h0M272 568.4h0M283.7 568.4h0M272 572.2h0M283.4 570.9h0M291.4 573.5h0M293.3 574.1h0M331.1 578.9h0M331.1 579.3h0M331.3 578.1h0M331.4 578.7h0M331.9 578.9h0M331.8 577.4h0M332.2 578.3h0M333.2 578.1h0M333.6 578.5h0M334.1 578.3h0M334.7 578.6h0M336.3 581.6h0M336.9 583h0M336.7 578.5h0M337.4 583.5h0M337.2 580.8h0M338.1 581.5h0M338 578.2h0M339.1 582.9h0M339.6 583.2h0M339.6 578.7h0M340.4 581.5h0M340.7 583.4h0M341.3 582.1h0M341.2 578.2h0M341.8 580.4h0M341.9 577.1h0M341.8 570.6h0M342.4 580.1h0M342.9 579h0M342.7 577.2h0M343.5 578h0M343.6 573.9h0M344 578.5h0M344 572.5h0M344.6 578.2h0M344.3 572.9h0M344.4 571.7h0M345.1 577.8h0M345.7 579.6h0M345.7 574.8h0M346 572.3h0M346 571.1h0M347.3 581h0M349.5 580.8h0M350.1 581.4h0M350.6 576.9h0M351.2 579.5h0M351.7 578.5h0M351.9 572.3h0M352.3 578h0M352.2 574.6h0M352.8 577.3h0M352.8 570.7h0M353.5 577.2h0M353.9 576.9h0M354.1 575.4h0M354.5 577.3h0M355 576.8h0M355.7 574.5h0M355.5 569.5h0M356.1 575.8h0M356.5 575h0M356.6 569.7h0M356.5 568.5h0M358.9 579.1h0M359.1 573.7h0M358.8 572.5h0M359.1 579.8h0M359.1 576h0M335.6 551.3h0M331.6 568h0M334.1 569.7h0M354 565.2h0M356.5 565.5h0M346.4 569.3h0M357.8 569.9h0M354 572.2h0M346.4 573.1h0M336.6 576h0M346.4 576.4h0M399.4 580.9h0M399.4 580.6h0M399.4 580.6h0M399.7 571.3h0M400 578.4h0M399.9 574h0M400.8 580.2h0M401.3 579.4h0M401.9 578.4h0M402.4 579h0M403 579.5h0M402.8 575.5h0M403 571.7h0M403.5 579.6h0M405.2 579.3h0M405.3 576.7h0M405.7 580.6h0M405.5 578.7h0M406.3 579.8h0M406.3 575h0M406.8 579.9h0M407.5 580.2h0M407.9 580.3h0M408 577.2h0M408.5 580.1h0M409 580.8h0M410.1 580.8h0M409.9 579h0M410.4 581.5h0M410.4 576.9h0M411.8 581h0M412.3 580.6h0M412.4 578.6h0M412.9 580.6h0M413.1 578.6h0M414.2 582.2h0M414.2 582.2h0M414.2 582.2h0M414.3 579.7h0M409.1 564.6h0M401.5 566.9h0M405.3 566.1h0M403 573.1h0M407.2 574.1h0M399.6 576.9h0M413.2 570.3h0M408.4 572.2h0M413.7 576h0M441.8 579.7h0M441.8 579.7h0M441.5 580h0M442.5 580.2h0M442.6 575.4h0M443.1 579.7h0M444.2 580.3h0M444.7 581.3h0M445.3 581.8h0M445.1 576.7h0M445.8 582h0M445.7 580.5h0M446.4 582.9h0M446.9 583.1h0M446.7 578.4h0M447.4 579.9h0M448 582.9h0M448.6 582.6h0M449.1 582.6h0M449.3 583.6h0M449.7 582.7h0M449.7 581h0M450.8 583h0M451.9 581.9h0M451.7 578.3h0M452.2 573.9h0M453 579.7h0M453.5 579.7h0M453.7 577.8h0M454.1 578.9h0M454.1 574.9h0M453.9 578h0M454.1 579h0M453.8 578.3h0M453.6 558h0M452.6 566.1h0M453.6 567.4h0M444.5 570.3h0M453.6 571.2h0M448.8 573.1h0M451.1 575h0M446.6 575.6h0M506.1 582.2h0M506.1 582.2h0M505.9 582.4h0M506.1 573.1h0M506.1 582.6h0M506.1 573.3h0M506.4 582.4h0M506.9 581.8h0M508 580.7h0M508.6 578.4h0M509.1 577.7h0M509.1 574.8h0M509.7 577.3h0M510.2 578.2h0M510.8 580.5h0M511.3 581.2h0M511.9 576.8h0M512.6 579.1h0M512.2 576.8h0M513 585.3h0M514.2 583.2h0M514.6 585.6h0M515.1 584.9h0M515.3 584.6h0M515.1 581.9h0M516.2 585h0M516.8 584.4h0M518.4 579h0M519 584.9h0M519.5 584h0M519.8 582.5h0M519.5 577.5h0M520.1 584.6h0M520.6 584h0M521.2 584.7h0M521.7 584.9h0M522.3 584.1h0M522.3 568.2h0M522.8 580.2h0M522.8 568.7h0M523.8 567.9h0M524.5 579.6h0M525 579.9h0M525 566.3h0M525.6 580.3h0M526.2 578.8h0M527.1 580.8h0M527.8 576.5h0M528.9 581.4h0M529.6 577.9h0M530.1 579.2h0M530 574.9h0M530 573.7h0M530.5 579.7h0M531.1 576h0M531.6 579.3h0M531.7 576h0M532.2 579.1h0M534.4 581.3h0M535.1 580.8h0M535.1 581.2h0M535.4 580.4h0M535.1 581h0M525.6 562.7h0M523.2 565.5h0M510.8 572.6h0M507.6 573.7h0M523.7 570.3h0M533.8 574.1h0M518 577.9h0M576.5 581.2h0M576.4 581.3h0M576.2 581.4h0M576.4 581h0M576.4 579.8h0M577.1 581.8h0M577.6 581.7h0M577.5 581.9h0M578.2 581.5h0M578.4 580.3h0M578.7 581h0M578.7 580.1h0M579.3 581h0M579.9 576.2h0M579.7 573.7h0M579.9 572.4h0M580.4 577.6h0M580.9 579.6h0M580.9 574.9h0M582 578.7h0M581.8 576.6h0M583.3 574.6h0M583.9 569.2h0M584.2 575.5h0M584.3 573.1h0M584.8 575.2h0M584.9 573.9h0M585.3 569.5h0M585.3 567.1h0M585.9 575.6h0M585.9 574.1h0M586.4 575.9h0M586.5 575.1h0M586.9 572.8h0M587.7 571.4h0M588.7 575.8h0M589.2 579.3h0M589.2 566.1h0M589.7 579.6h0M590.1 577h0M590.8 582h0M590.7 575.1h0M591.9 581.3h0M591.7 580.7h0M592.4 581.3h0M592.6 579.1h0M592.4 577.4h0M592.4 581.5h0M592.4 582.1h0M592.4 581.7h0M585 554.5h0M585 557h0M591.5 562.1h0M584.8 564h0M586.9 564h0M580.7 565.5h0M581.6 569h0M584.5 569.3h0M587.3 569.7h0M576.9 575h0M616.7 574.2h0M616.6 571.6h0M616.7 573.8h0M616.7 573.8h0M616.9 572.5h0M616.7 566.2h0M616.8 574h0M617.4 574.3h0M619.2 575.2h0M619.6 579.3h0M620.1 578.7h0M620.7 579.7h0M620.6 575.8h0M621.8 580.1h0M624 578.7h0M624 576.3h0M624.5 574.8h0M625.1 580.2h0M624.9 575.7h0M625.6 577.1h0M626.2 581.3h0M626.7 581.2h0M627.3 581.8h0M627.3 581.8h0M627.3 575.2h0M627.5 582.1h0M627.5 579.8h0M627.3 580.9h0M627.5 581.9h0M618.6 556.4h0M617.1 564h0M625.2 563.6h0M618 567.4h0M623.3 567.1h0M626.2 567.1h0M618.6 569.7h0M623.7 570.3h0M626.2 570.3h0M620.5 572.2h0M625.2 574.1h0" stroke="#4d4d4d" stroke-width="2.9" stroke-linecap="round" fill="none"/>
<path d="M319.6 541.3h0M319.6 542.6h0M319.6 543.8h0M319.6 546.6h0" stroke="#00ff00" stroke-width="3.2" stroke-linecap="round" fill="none"/>
<path d="M318.2 469.3h0M319.5 470.5h0M319.6 494.3h0M319.6 497.5h0M319.6 500h0M319.6 502.6h0M319.6 512.1h0M319.6 522.6h0" stroke="#ff6347" stroke-width="3.8" stroke-linecap="round" fill="none"/>
<line x1="47" x2="47" y1="463.1" y2="594.7" stroke="#d8d8d8" stroke-width="2"/>
<path d="M42 594.5H47.2M42 574.5H47.2M42 554.5H47.2" stroke="#858585" stroke-width="1" fill="none"/>
<path d="M42 584.5H47.2M42 463.5H47.2" stroke="#dedede" stroke-width="1" fill="none"/>
<path d="M42 564.5H47.2M42 533.5H47.2M42 483.5H47.2M42 473.5H47.2" stroke="#444" stroke-width="1" fill="none"/>
<path d="M42 544.5H47.2M42 503.5H47.2" stroke="#c2c2c2" stroke-width="1" fill="none"/>
<path d="M42 523.5H47.2" stroke="#2a2a2a" stroke-width="1" fill="none"/>
<path d="M42 513.5H47.2" stroke="#606060" stroke-width="1" fill="none"/>
<path d="M42 493.5H47.2" stroke="#a4a4a4" stroke-width="1" fill="none"/>
<text class="t" text-anchor="middle" transform="translate(35.1 599.3) rotate(-90)">0</text>
<text class="t" text-anchor="middle" transform="translate(35.1 569.4) rotate(-90)">3</text>
<text class="t" text-anchor="middle" transform="translate(35.1 538.6) rotate(-90)">6</text>
<text class="t" text-anchor="middle" transform="translate(35.1 509) rotate(-90)">9</text>
<text class="t" text-anchor="middle" transform="translate(35.1 477.6) rotate(-90)">12</text>
<text class="t" text-anchor="middle" transform="translate(11.6 536.6) rotate(-90)">log(1/p)</text>
<line x1="99" x2="648" y1="600.1" y2="600.1" stroke="#ececec" stroke-width="2.0"/>
<path d="M99.6 600.1V605.1M151.6 600.1V605.1M186.4 600.1V605.1M219 600.1V605.1M248.4 600.1V605.1M279.5 600.1V605.1M312.6 600.1V605.1M345.7 600.1V605.1M378.7 600.1V605.1M407.1 600.1V605.1M447.3 600.1V605.1M478.4 600.1V605.1M520.5 600.1V605.1M555.6 600.1V605.1M605.3 600.1V605.1M622.4 600.1V605.1M647.4 600.1V605.1" stroke="#555" stroke-width="0.55" fill="none"/>
<path d="M428.5 600.1V605.1M584.4 600.1V605.1" stroke="#111" stroke-width="1.1" fill="none"/>
<text class="t" text-anchor="middle" x="95.1" y="622.3">1</text>
<text class="t" text-anchor="middle" x="147.1" y="622.3">2</text>
<text class="t" text-anchor="middle" x="181.9" y="622.3">3</text>
<text class="t" text-anchor="middle" x="214.5" y="622.3">4</text>
<text class="t" text-anchor="middle" x="243.9" y="622.3">5</text>
<text class="t" text-anchor="middle" x="275" y="622.3">6</text>
<text class="t" text-anchor="middle" x="308.1" y="622.3">7</text>
<text class="t" text-anchor="middle" x="341.2" y="622.3">8</text>
<text class="t" text-anchor="middle" x="374.2" y="622.3">9</text>
<text class="t" text-anchor="middle" x="402.6" y="622.3">10</text>
<text class="t" text-anchor="middle" x="442.8" y="622.3">12</text>
<text class="t" text-anchor="middle" x="473.9" y="622.3">13</text>
<text class="t" text-anchor="middle" x="516" y="622.3">14</text>
<text class="t" text-anchor="middle" x="551.1" y="622.3">15</text>
<text class="t" text-anchor="middle" x="600.8" y="622.3">17</text>
<text class="t" text-anchor="middle" x="642.9" y="622.3">X</text>
<text class="t" text-anchor="middle" x="364.1" y="641.8">Chromosome</text>
<text class="t" x="54" y="480.2">Middle cut</text>
<text class="l" style="font-size:18px" x="6.6" y="460.4">c</text>
</g>
<g id="panel-d">
<line x1="47" x2="685" y1="763.5" y2="763.5" stroke="#000000" stroke-width="1.15"/>
<line x1="47" x2="685" y1="775.5" y2="775.5" stroke="#111111" stroke-width="1.0" stroke-dasharray="2.4 1.4"/>
<path d="M71 819.9L69.9 819.4L69.5 818.3L70 817.4L69.5 815.1L69.9 813.4L69.7 811.2L69.7 809.7L70 808.3L69.8 806.2L69.5 804.1L70 804.8L70.6 804.6L71.1 804.8L71.7 803.6L72.2 803.1L72.8 802.1L73.3 803.1L73.9 803.7L74.4 805.2L75 805.9L75.5 806L76.1 805.3L76.6 804.3L77.2 803.9L77.7 803.2L78.3 804.2L78.8 805.9L79.4 805.9L79.9 804.8L80.5 804.3L81 803.4L81.6 802.8L82.1 803.1L82.7 802.3L83.2 801.9L83.8 801.6L84.3 800.2L84.9 800L85.4 803.3L86 804.6L86.5 807.5L87.1 808.6L87.6 808.3L88.2 809.1L88.7 808.8L89.3 809.1L89.8 807.8L90.4 807.5L90.9 807L91.5 806.2L92 806.1L92.6 805.8L93.1 806L93.7 806.9L94.2 806.7L94.8 807.5L95.3 806.6L95.9 806.7L96.4 806L97 805.5L97.5 805.6L98.1 806L98.6 806.4L99.2 806L99.7 806.5L100.3 806.2L100.8 806.3L101.4 805.9L101.9 806.9L102.5 807.3L103 808.2L103.6 807.6L104.1 808L104.7 808L105.2 807.7L105.8 808L106.3 808L106.9 808.9L107.4 808.6L108 809.3L108.5 808.3L109.1 807.7L109.6 806.8L110.2 805.8L110.7 806.2L111.3 807L111.8 807.4L112.4 808.5L112.9 808.9L113.5 808.5L114 808.1L114.6 807.6L115.1 806.8L115.7 806.3L116.2 804.7L116.8 802.6L117.3 801.2L117.9 801.3L118.4 801.7L119 801.3L119.5 802.1L120.1 802.8L120.6 803.1L121.2 803.2L121.7 803.1L122.3 803L122.8 802.3L123.4 803.5L123.9 804.7L124.5 807.3L125 806.7L125.6 805.5L126.1 804.9L126.7 803.4L127.2 803.1L127.8 802.5L128.3 801.9L128.9 798.8L129.4 798.8L130 802.6L130.5 803.9L131.1 803.7L131.6 804.2L132 804.1L131.7 805.6L132 806.9L131.4 808.5L131.3 810.1L131.3 812L132 813.5L131.6 815.4L131.7 817.5L132 818.3L131.6 819.4L130.5 819.9Z" fill="#b3b3b3"/>
<path d="M73.3 803.8V799.8M73.9 804.6V804M75 806.7V802.9M75.5 807V805M78.3 805.5V804.7M81 804.6V802.1M85.4 804.2V802.3M86 806V803.6M90.4 808.3V807.5M91.5 807.2V805.9M92 807V806M95.9 807.5V805M97.5 806.8V806.2M98.1 807V805.9M98.6 807.2V805.1M99.7 807.1V806.4M105.8 808.8V808.2M108 810.4V809.5M110.7 807.3V806.2M113.5 809.6V807.6M115.7 807.2V806.4M118.4 802.3V798.1M119.5 803.5V801.4M122.8 803.2V802.6M124.5 807.9V805.2M126.7 804.4V802.8M127.2 803.8V803M130.6 804.9V801.9" stroke="#b3b3b3" stroke-width="2.9" stroke-linecap="round" fill="none"/>
<path d="M136.4 819.9L135.3 819.4L134.9 818.3L135.1 817.4L135.4 815.5L134.9 813.8L135.1 811.9L135.6 810.5L135 808.4L134.9 807.4L135.5 807.9L136 807.6L136.6 807.6L137.1 807.5L137.7 807.1L138.2 806.9L138.8 805.7L139.3 804.9L139.9 803.5L140.4 802L141 800.7L141.5 800.6L142.1 800.3L142.6 799L143.2 795L143.7 795.2L144.3 800.3L144.8 801.8L145.4 803L145.9 804.9L146.5 804.8L147 805.1L147.6 804.9L148.1 804L148.7 802.4L149.2 802.4L149.8 801.8L150.3 801.9L150.9 801.3L151.4 801.7L152 802.2L152.5 802L153.1 802.3L153.6 803L154.2 804.8L154.7 805.8L155.3 807.7L155.8 807.9L156.4 807.6L156.9 807.2L157.5 806L158 804.5L158.6 804.3L159.1 804.1L159.7 804.4L160.2 804.1L160.8 803.6L161.3 803.6L161.9 804L162.4 803.7L163 802.8L163.5 802.5L164.1 803L164.6 803.5L165.2 803.9L165.7 803.9L166.3 804.2L166.8 803.6L167.4 804.2L167.9 803.8L168.2 803.8L167.6 805.3L167.6 806.7L168 808.4L167.8 809.8L168.2 811.3L167.6 813.6L167.6 815.6L167.6 817L168.2 818.3L167.8 819.4L166.7 819.9Z" fill="#4d4d4d"/>
<path d="M136.3 808.5V807M136.3 808.6V807.1M136.3 808.6V806.8M137.1 808.4V807.7M137.7 808.1V807.4M139.3 805.7V801M141.5 801.5V800M143.7 796.4V795.4M148.1 804.8V803.6M149.2 803.1V799M154.2 805.7V803.7M156.4 808.9V807.7M156.9 808V805.4M158.6 805.2V803.9M162.4 804.5V803.6M163.5 803.8V801M166.8 805.1V804" stroke="#4d4d4d" stroke-width="2.9" stroke-linecap="round" fill="none"/>
<path d="M172.5 819.9L171.4 819.4L171 818.3L171.7 817.4L171 815.1L171.1 813.2L171.1 811.4L171.6 809.5L171.3 807.5L171.1 805.7L171 803.3L171.6 803.3L172.1 803.4L172.7 803.4L173.2 801.8L173.8 800.9L174.3 801.3L174.9 801.1L175.4 801.7L176 802.4L176.5 804.1L177.1 804.7L177.6 805.2L178.2 805.9L178.7 806L179.3 806.7L179.8 806.9L180.4 806.6L180.9 806.6L181.5 805.6L182 805.3L182.6 804.8L183.1 805.1L183.7 805.1L184.2 805.7L184.8 805.9L185.3 806L185.9 806.8L186.4 806.8L187 806.2L187.5 806.6L188.1 805.9L188.6 804.5L189.2 804L189.7 803.3L190.3 802.2L190.8 802.3L191.4 802.6L191.9 803L192.5 803.7L193 804.4L193.6 804.2L194.1 803.5L194.7 803L195.2 802.8L195.8 802.1L196.3 802.7L196.9 802L197.4 801.8L198 801.4L198.5 802.1L199.1 802.9L199.6 803.6L200.2 804.7L200.7 805.9L201 805.6L200.7 807.1L200.2 808.8L200.3 810.7L200.8 812.3L201 814.5L200.3 816.8L201 818.3L200.6 819.4L199.5 819.9Z" fill="#b3b3b3"/>
<path d="M172.4 804.5V801M173.2 803.2V802.2M178.2 806.6V804.3M178.7 807.2V805.7M180.4 807.7V805.1M180.9 807.3V805.4M182.6 806V803.7M185.9 808V806.9M188.1 806.7V805.6M189.2 804.8V803.2M190.8 803.5V800.4M191.9 804.1V801.7M192.5 804.5V802M194.1 804.6V803.8M194.7 804.2V800.1M195.8 803.5V802.9M196.9 803.1V802M199.6 805V800.8" stroke="#b3b3b3" stroke-width="2.9" stroke-linecap="round" fill="none"/>
<path d="M205.5 819.9L204.4 819.4L204 818.3L204.1 817.4L204.6 815.8L204.5 813.5L204.3 811.5L204.1 809.5L204.4 807.3L204.6 805.4L204.6 803.5L204.6 801.9L204 800.1L204.6 800.1L205.1 800L205.7 798.9L206.2 791.6L206.8 791.7L207.3 792L207.9 793.4L208.4 794.1L209 795.3L209.5 800.8L210.1 803.7L210.6 805.3L211.2 804.9L211.7 805.6L212.3 803.4L212.8 801.4L213.4 796.9L213.9 796.4L214.5 797.9L215 802.1L215.6 804.9L216.1 804.9L216.7 805.3L217.2 805.3L217.8 805.1L218.3 802.4L218.9 799.2L219.4 799.9L220 802L220.5 804.6L221.1 806.7L221.6 806.2L222.2 805.9L222.7 806.1L223.3 805.6L223.8 803.2L224.4 801.5L224.9 797.3L225.5 796.8L226 797.7L226.6 801.5L227.1 802.3L227.7 803.5L228.2 803.8L228.8 802.8L229.3 802.4L229.9 802.5L230.4 801.9L231 802L231.5 802.5L232.1 802.2L232.6 802.8L233.2 803L233.7 803.4L234 803.4L233.9 804.9L233.3 806.9L233.8 808.5L233.8 810.2L233.8 811.7L233.9 813.2L233.8 814.9L234 816.3L234 818.3L233.6 819.4L232.5 819.9Z" fill="#4d4d4d"/>
<path d="M210.1 805.1V799.6M211.7 806.6V804.5M212.8 802V801M213.4 797.8V796.9M215 803.3V800.7M216.1 805.8V803.6M217.8 806V802.5M219.4 800.5V799.3M220 803.2V801.6M220.5 805.3V802.1M221.1 807.8V806.1M224.4 802.6V799.2M226.6 802.4V800.2M228.2 804.6V800.7M228.8 804.2V802.7M232.6 804.1V803.4" stroke="#4d4d4d" stroke-width="2.9" stroke-linecap="round" fill="none"/>
<path d="M238.2 819.9L237.1 819.4L236.7 818.3L237.1 817.4L236.9 815.2L237 813.8L237.2 811.6L236.7 810.1L237.5 808.1L237.1 806.8L236.7 804.3L237.2 804.8L237.8 805L238.4 805.2L238.9 805.4L239.5 804.8L240 803.6L240.6 801.7L241.1 797.5L241.7 796.7L242.2 797L242.8 800.9L243.3 803.6L243.9 805.9L244.4 805.5L245 805L245.5 803.4L246.1 801.9L246.6 800.3L247.2 797.7L247.7 797.2L248.3 800.8L248.8 802L249.4 803L249.9 802.4L250.5 801.3L251 800.9L251.6 799.2L252.1 794.5L252.7 799L253.2 800.3L253.8 801.4L254.3 802.9L254.9 804.3L255.4 803.7L256 803.2L256.5 802.4L257.1 802.5L257.6 802.5L258.2 802.4L258.7 802.9L259.3 803.3L259.8 803.5L260.2 803.2L259.7 804.7L260 806.8L260 808.7L259.7 810.2L259.9 811.5L259.8 813.3L259.7 815.3L259.7 817.3L260.2 818.3L259.8 819.4L258.7 819.9Z" fill="#b3b3b3"/>
<path d="M238.9 806.3V802.6M240.6 803.1V802.4M241.7 798.1V797.1M242.8 802.3V800.4M243.9 806.7V805.2M244.4 806.5V803.9M247.7 798.3V797.1M250.5 802.8V799.3M252.1 795.9V795M254.3 804.3V802M254.9 805V804.3M257.6 803.3V802.7M258.7 804.3V799.9M258.8 804.5V802.3" stroke="#b3b3b3" stroke-width="2.9" stroke-linecap="round" fill="none"/>
<path d="M264.9 819.9L263.8 819.4L263.4 818.3L263.6 817.4L263.6 815.7L263.6 814.4L263.9 812.6L263.6 811L263.5 809.3L263.5 807.4L263.4 806L263.9 805.6L264.5 806.4L265.1 805.6L265.6 805.3L266.2 805.5L266.7 804.6L267.3 804.1L267.8 802.8L268.4 802.3L268.9 803L269.5 803.1L270 804.4L270.6 805.2L271.1 804.4L271.7 804.3L272.2 804.3L272.8 804.1L273.3 803.8L273.9 804.2L274.4 805.3L275 805.7L275.5 805.6L276.1 804.5L276.6 804L277.2 803.7L277.7 802.9L278.3 802.9L278.8 803L279.4 804L279.9 804.2L280.5 801.7L281 796.7L281.6 797L282.1 796.8L282.7 801L283.2 803.4L283.8 805.2L284.3 805.4L284.9 805.7L285.4 805.8L286 805.3L286.5 805.6L287.1 806.2L287.6 806.3L288.2 806.8L288.7 805.6L289.3 805.4L289.8 804.8L290.4 804.6L290.9 804.5L291.5 803.4L292 802.9L292.6 803.3L293.1 803.3L293.7 804.3L294.2 804.2L294.8 804.2L295.3 804.4L295.6 804.9L294.8 806.4L295.2 807.9L295.4 809.8L295.5 811.4L295.1 813.7L295.5 815.5L295.4 817.8L295.6 818.3L295.2 819.4L294.1 819.9Z" fill="#4d4d4d"/>
<path d="M264.8 807V804M265.1 806.9V803M265.6 806.6V805.3M266.2 806.2V803.9M266.7 805.6V803.1M268.9 803.8V802.9M272.2 805.1V804M273.9 805.5V801.4M275.5 806.3V805.5M276.1 805.9V805.2M277.2 804.6V800.2M277.7 804V802.7M278.8 803.9V799.4M279.4 804.7V803.7M280.5 802.7V798.3M285.4 806.7V803M288.2 807.4V806.1M289.3 806.5V804.6M290.9 805.1V804.5M292.6 804.1V800.9M294.2 805.6V804.9" stroke="#4d4d4d" stroke-width="2.9" stroke-linecap="round" fill="none"/>
<path d="M300.5 819.9L299.4 819.4L299 818.3L299.3 817.4L299.5 815.8L299.4 814L299.4 812.1L299.3 810.7L299.1 808.6L299.2 806.9L299 804.9L299.6 804.5L300.1 804.4L300.7 803.9L301.2 803.3L301.8 803.1L302.3 802.4L302.9 801.7L303.4 801.4L304 800.8L304.5 799.6L305.1 798.9L305.6 793.9L306.2 792.8L306.7 791.3L307.3 790.6L307.8 791.3L308.4 792.4L308.9 794.5L309.5 800.7L310 802.7L310.6 803.6L311.1 804.6L311.7 806.1L312.2 807.2L312.8 807.8L313.3 807L313.9 805L314.4 802.5L315 801.3L315.5 800.9L316.1 800.2L316.6 800.1L317.2 800.7L317.7 800.3L318.3 800.4L318.8 800.5L319.4 800.5L319.9 800.8L320.5 801.8L321 804.1L321.6 805.4L322.1 806L322.7 807.2L323.2 807L323.8 806.6L324.3 806.9L324.9 805.8L325.4 806.6L326 806.2L326.5 806.3L326.9 805.6L326.2 807.1L326.4 809.1L326.5 810.5L326.6 812.5L326.3 814.4L326.3 816L326.7 817.5L326.9 818.3L326.5 819.4L325.4 819.9Z" fill="#b3b3b3"/>
<path d="M300.4 806V805.1M302.3 803.7V802.1M304.5 800.6V799.6M305.1 799.8V798.7M306.2 793.6V792.6M307.3 791.9V790.8M308.4 793.4V792.3M311.1 806V803.5M311.7 807.3V802.7M312.2 808.2V806.5M312.8 809.1V805.7M317.2 802V800M318.3 801.4V800.2M319.4 801V798M319.9 802V799.3M320.5 803.2V802.3M324.3 807.4V805.7" stroke="#b3b3b3" stroke-width="2.9" stroke-linecap="round" fill="none"/>
<path d="M331.2 819.9L330.1 819.4L329.7 818.3L330.1 817.4L329.8 815.6L329.7 814.2L330.4 812.7L330.5 811.2L329.8 809.6L330.5 808.2L330.1 806.7L329.7 805.3L330.2 805L330.8 804.7L331.4 804L331.9 802L332.5 800.5L333 800.1L333.6 796L334.1 796.3L334.7 795.4L335.2 795.1L335.8 795.6L336.3 798.3L336.9 803.4L337.4 806.3L338 807.6L338.5 808.9L339.1 809.4L339.6 809.8L340.2 810L340.7 810.2L341.3 810.2L341.8 810.1L342.4 809.8L342.9 808.7L343.5 808.1L344 806.5L344.6 805.2L345.1 804.8L345.7 804.4L346.2 804.6L346.8 804.4L347.3 804.1L347.9 803.7L348.4 803.7L349 802.9L349.5 802.7L350.1 801.8L350.6 801.5L351.2 801.5L351.7 801.8L352.3 802.7L352.8 802.8L353.4 802.2L353.9 802L354.5 800.6L355 800.9L355.6 800.9L356.1 801.9L356.7 802.7L357.2 803.4L357.8 804.2L358.3 805.7L358.9 806.4L359.4 806.6L360 806.9L360.5 807.2L360.1 808.7L360.2 810.7L360.4 812.5L360.4 814.1L360 815.4L360 817.3L360.5 818.3L360.1 819.4L359 819.9Z" fill="#4d4d4d"/>
<path d="M333.6 797.4V796.2M345.1 805.8V804.5M345.7 805.6V804.1M348.4 804.6V803.6M351.7 803.1V800.6M355.6 801.7V798.6M356.1 802.6V798.8M356.7 803.6V801.7M357.2 804.6V802.5M357.8 805.5V802.2M358.3 806.4V804.9M359.1 807.9V806.7" stroke="#4d4d4d" stroke-width="2.9" stroke-linecap="round" fill="none"/>
<path d="M364.6 819.9L363.5 819.4L363.1 818.3L363.1 817.4L363.2 815.9L363.7 814.5L363.6 812.8L363.6 811L363.5 809.1L363.5 807.6L363.7 806L363.1 804.5L363.7 804.3L364.2 804L364.8 803.3L365.3 803.6L365.9 802.8L366.4 803.2L367 803.3L367.5 802.5L368.1 801.8L368.6 801.2L369.2 800.5L369.7 800.5L370.3 794.2L370.8 792.5L371.4 793.9L371.9 801.2L372.5 807L373 806.3L373.6 805L374.1 804L374.7 803.3L375.2 804.1L375.8 803.8L376.3 803.8L376.9 804.7L377.4 805.4L378 805.1L378.5 803.9L379.1 803.9L379.6 803.8L380.2 803.4L380.7 803.8L381.3 803.7L381.8 803.5L382.4 804.1L382.9 804.3L383.5 804.7L384 805.2L384.6 806.5L385.1 807L385.7 808L386.2 807.8L386.8 808.6L387.3 808.3L387.9 807.1L388.4 806.3L389 804.7L389.5 803.1L390.1 803L390.6 802.9L391.2 803.3L391.7 803L392.3 803.1L392.8 803L393.4 803.8L393.9 804.9L394.5 804.8L395 804.4L395.2 804.8L394.5 806.3L394.4 807.7L394.8 809.2L395.2 810.5L394.9 812L394.8 813.4L394.8 814.9L394.9 816.8L395.2 818.3L394.8 819.4L393.7 819.9Z" fill="#b3b3b3"/>
<path d="M364.6 805V803.1M364.6 804.9V802.2M366.4 804V799.4M367 804V801.6M368.1 802.8V797.7M368.6 802.2V799.5M369.2 801.7V800.1M369.7 801.7V800.1M372.5 807.7V806.4M373 807.3V804.2M375.8 804.9V801.2M376.3 805.2V804M376.9 805.7V803.2M377.4 806.1V805.3M378.5 805.1V803.1M379.1 804.7V803.9M382.4 804.9V803.4M383.5 806V801.6M384 806.5V805.8M384.6 807.6V805.9M385.7 808.9V804.5M386.2 809V804.9M386.8 809.2V807.3M388.4 807.2V803.1M389 805.8V804.1M389.5 804.4V800.5M392.3 803.6V802.1M393.8 805.5V803.6" stroke="#b3b3b3" stroke-width="2.9" stroke-linecap="round" fill="none"/>
<path d="M399.5 819.9L398.4 819.4L398 818.3L398.3 817.4L398.5 815.5L398.6 814.1L398.2 812L398.1 809.8L398 808.6L398.6 808.6L399.1 808.7L399.7 808.1L400.2 807.3L400.8 806.9L401.3 807L401.9 806.4L402.4 804.6L403 802.6L403.5 800.7L404.1 800.2L404.6 798.2L405.2 793.3L405.7 792.3L406.3 792.5L406.8 792.8L407.4 793.9L407.9 798.2L408.5 799.5L409 800.2L409.6 800.4L410.1 802L410.7 801.8L411.2 802.1L411.8 803.3L412.3 804.3L412.9 804.8L413.4 805.4L414 806.3L414.5 806.5L415.1 806.6L415.6 806.1L415.3 807.6L414.8 809.4L415.5 811.7L415.1 813L415.1 815.3L415.5 816.9L415.6 818.3L415.2 819.4L414.1 819.9Z" fill="#4d4d4d"/>
<path d="M399.4 809.3V805.5M403.5 802.1V798.3M406.8 793.9V792.8M410.1 803.1V802.4M411.2 803V802.2M412.9 806V803.5M414 807.1V806.3" stroke="#4d4d4d" stroke-width="2.9" stroke-linecap="round" fill="none"/>
<path d="M420 819.9L418.9 819.4L418.5 818.3L418.9 817.4L418.9 815.8L418.5 814.3L419.1 812.3L419.2 810.1L418.6 808.3L419 806.2L419.2 804.1L418.5 803L419.1 803.3L419.6 802.9L420.2 802.6L420.7 801.3L421.3 799.9L421.8 799.8L422.4 800.9L422.9 801.5L423.5 802.6L424 803.9L424.6 804.7L425.1 805.8L425.7 806.3L426.2 806.9L426.8 808L427.3 808.5L427.9 807.6L428.4 806.7L429 806.6L429.5 806.7L430.1 806.7L430.6 807.7L431.2 807.2L431.7 806.2L432.3 805.3L432.8 803.9L433.4 803.7L433.9 802.8L434.5 803.4L435 804L435.6 805.6L436.1 807.8L436.7 808.1L437.2 807.4L437.4 807.3L437.3 808.8L437.2 810.7L436.6 812.6L436.8 814.2L436.6 816.4L437.4 818.3L437 819.4L435.9 819.9Z" fill="#b3b3b3"/>
<path d="M419.9 803.9V802.7M419.9 803.8V798.7M421.3 801.2V799.6M421.8 800.9V795.6M422.9 802.4V799M425.7 807V802.3M427.9 808.7V807.3M429 807.4V806.6M431.2 808.3V806.2M432.3 806.4V805.5M433.4 804.3V802.6M433.9 803.8V802.3M435.6 807.1V805.2M435.9 808.6V806.9M435.9 808.3V807M435.9 808V806.8" stroke="#b3b3b3" stroke-width="2.9" stroke-linecap="round" fill="none"/>
<path d="M441.8 819.9L440.7 819.4L440.3 818.3L440.4 817.4L440.7 815.4L440.3 813.8L440.5 812.2L440.4 810.1L441 808.4L440.8 807L440.6 805.3L440.5 803.5L440.8 801.9L440.3 800.9L440.9 801.4L441.4 802.3L442 803.5L442.5 804.2L443.1 804.6L443.6 804.4L444.2 804.8L444.7 805L445.3 805L445.8 803.5L446.4 802.9L446.9 802.7L447.5 802.7L448 803.3L448.6 803.3L449.1 804.2L449.7 804L450.2 804L450.8 804.2L451.3 803.3L451.9 803.2L452.4 803.2L453 802.5L453.5 803.5L454.1 803.7L454.6 803.4L455.2 802.5L455.5 803.3L455.4 804.8L455.4 806.1L454.8 808L455.3 809.9L454.9 811.7L455 813.2L454.9 815.3L455 816.8L455.5 818.3L455.1 819.4L454 819.9Z" fill="#4d4d4d"/>
<path d="M442 804.4V803.6M443.1 805.4V802.6M444.7 805.7V804.1M445.3 805.8V803.8M446.4 804.3V802.4M450.2 805.2V803.2M451.9 804.3V799.8M454.1 804.5V802.2M454.1 804.1V799.6M454.1 803.9V801.2" stroke="#4d4d4d" stroke-width="2.9" stroke-linecap="round" fill="none"/>
<path d="M459.4 819.9L458.3 819.4L457.9 818.3L458.4 817.4L458.2 815.3L458.6 813.7L457.9 812.1L458 810.3L458.3 808.2L457.9 806.3L458.4 805.6L459 805.9L459.6 804.5L460.1 802L460.7 797.1L461.2 797L461.8 796.7L462.3 802.3L462.9 805.5L463.4 805.7L464 806.5L464.5 807.5L465.1 808.7L465.6 808.1L466.2 808.1L466.7 808.2L467.3 807.9L467.8 807.6L468.4 806.9L468.9 807.5L469.5 807.6L470 808.5L470.6 808.8L471.1 807.9L471.7 807.5L472.2 806.2L472.8 805.5L473.3 804.9L473.9 805.3L474.4 805.1L475 805.5L475.5 806.1L476.1 806.3L476.6 807.4L477.2 807.3L477.7 807.6L478.3 807.2L478.8 807.4L479.4 807.3L479.9 806.9L480.5 807.4L481 807.1L481.6 807.4L482.1 807.1L482.7 807.2L483.2 807.6L483.8 807.8L484.3 807.7L484.9 808.1L485.4 807.4L486 807.6L486.5 806.7L487.1 806.9L487.6 805.7L488.2 804.2L488.7 802.5L489.3 799.6L489.8 799.4L490.4 799.3L490.9 799.6L491.5 802.2L492 803.3L492.6 806L493.1 807.9L493.7 809.2L494.2 809.3L494.8 808.4L495.3 806.9L495.9 805.6L496.4 804.7L497 803.7L497.5 803.8L498.1 803.8L498.6 804L499.2 804.6L499.7 806L500.3 807.1L500.8 806.9L501.4 805.8L501.9 805.2L502 805.2L501.7 806.7L501.9 808.1L501.5 809.6L502 811.4L501.5 813.5L501.6 815.1L501.9 817.2L502 818.3L501.6 819.4L500.5 819.9Z" fill="#b3b3b3"/>
<path d="M459.3 807.1V802.7M459.3 807V806.1M459.6 805.1V803.4M462.9 806.1V804.5M463.4 807V806.1M464 807.7V806.1M467.3 808.5V807.9M472.2 807.5V806.1M472.8 806.7V806.1M473.9 806.1V805.3M475.5 807V805.2M476.1 807.6V805.3M476.6 808.3V806.7M479.4 807.9V807.3M479.9 808V806.2M480.5 808.1V807.5M481.6 808.4V807.5M483.2 808.7V807.3M492.6 806.7V805.4M494.8 809.3V807.1M497 804.8V803.3M499.7 806.7V803.4M500.6 805.9V804.9" stroke="#b3b3b3" stroke-width="2.9" stroke-linecap="round" fill="none"/>
<path d="M506.2 819.9L505.1 819.4L504.7 818.3L505.4 817.4L505.5 815.3L505.1 813.1L505.5 811.8L504.9 810.1L504.7 808.6L505.2 806.5L505.3 804.5L505.2 802.5L504.7 801.3L505.2 801.9L505.8 802.5L506.4 803L506.9 801.7L507.5 800.1L508 795.6L508.6 795.1L509.1 800.7L509.7 804.2L510.2 804L510.8 804.1L511.3 804.9L511.9 804.8L512.4 805.6L513 805L513.5 805.7L514 807.2L514.6 807.7L515.1 808.5L515.7 808.1L516.2 806.6L516.8 805.3L517.3 802.3L517.9 796.6L518.4 796.4L519 796.4L519.5 802.8L520.1 805L520.6 804.6L521.2 805.1L521.7 803.7L522.3 801.6L522.8 797.2L523.4 798L523.9 799L524.5 803.6L525 806L525.6 806.9L526.1 807.8L526.7 807.4L527.2 808L527.8 806.2L528.3 805L528.9 804.7L529.4 804.6L530 804.4L530.5 805L531.1 806.3L531.6 806.5L532.2 805.6L532.7 803.7L533.3 802L533.8 802L534.4 801.8L534.9 804.8L535.5 805.6L536 804.7L536.6 804L536.3 805.5L535.9 807.4L536.5 809.4L536 811L536.1 812.8L535.9 814.3L536.1 816.3L536.6 818.3L536.2 819.4L535.1 819.9Z" fill="#4d4d4d"/>
<path d="M506.1 802.2V799.5M506.9 802.5V799.9M510.2 804.8V803.9M513 806.4V804.8M515.7 809V807.5M518.4 797.3V796.4M522.3 802.2V798M524.5 804.8V804M525 807.3V806.5M526.1 808.4V806.8M526.7 808.5V807.6M528.9 805.4V803.3M529.4 805.1V804.5M534.4 803.1V802.4" stroke="#4d4d4d" stroke-width="2.9" stroke-linecap="round" fill="none"/>
<path d="M541 819.9L539.9 819.4L539.5 818.3L539.7 817.4L539.9 815.6L540.2 813.7L539.5 811.5L540 810.2L540.3 808.7L539.8 807.3L539.7 805.2L539.5 803.3L540 803.2L540.6 804.3L541.1 805.6L541.7 805.4L542.2 805.8L542.8 806L543.3 805.2L543.9 804.8L544.4 804.2L545 803.3L545.5 803.2L546.1 803.1L546.6 802.3L547.2 802.1L547.7 802.2L548.3 801.9L548.8 802.1L549.4 803L549.9 804.3L550.5 805.9L551 806.9L551.6 807.7L552.1 808.2L552.7 808.9L553.2 809.1L553.8 809.6L554.3 808.8L554.9 808.1L555.4 806.7L556 805L556.5 803L557.1 801.5L557.6 801.3L558.2 801.5L558.7 802.9L559.3 804.5L559.8 807.2L560.4 808.5L560.9 808.4L561.5 807.2L562 805L562.6 801.8L563.1 800.2L563.7 798.7L564.2 798.1L564.8 792.5L565.3 792.3L565.9 791.4L566.4 792.2L567 792.4L567.5 797.6L568.1 798.5L568.6 799.7L569.2 800.8L569.7 800.9L570.3 801.9L570.8 802.4L571.4 802.5L571.9 801.8L572.1 802.4L571.6 803.9L572 805.9L572.1 807.8L571.5 809.4L571.4 810.7L571.4 812.1L571.7 813.9L571.8 815.9L572.1 818.3L571.7 819.4L570.6 819.9Z" fill="#b3b3b3"/>
<path d="M541.7 806.8V804.1M542.8 806.9V805.2M545 804.3V801.4M545.5 804.4V800.2M546.1 804V802.5M546.6 803.6V801.7M547.7 802.8V801.8M548.8 802.7V801M549.9 805.5V801.9M552.1 809.4V808.7M553.8 810.3V806.6M555.4 807.8V807.1M557.1 802.9V799.1M557.6 802.3V801.4M558.7 803.7V801.7M563.1 800.9V796.3M563.7 799.9V798.3M565.9 792.7V791.9M567.5 798.5V797.1M568.1 799.4V797.6M570.3 803.2V800.2M570.6 803V801.8" stroke="#b3b3b3" stroke-width="2.9" stroke-linecap="round" fill="none"/>
<path d="M576.4 819.9L575.3 819.4L574.9 818.3L575.1 817.4L575.2 816L575.5 814.2L575 812.8L575.1 810.7L575.4 809.4L574.9 807L575.4 807.4L576 806.5L576.5 805.7L577.1 804.3L577.6 803.8L578.2 802.7L578.7 801.3L579.3 800.3L579.8 798.9L580.4 793.2L580.9 792.3L581.5 792.6L582 799.9L582.6 802.7L583.1 804.9L583.7 805.5L584.2 805.9L584.8 804.1L585.3 801.4L585.9 799.6L586.4 795L587 794.6L587.5 794.5L588.1 799.8L588.6 800.9L589.2 803.8L589.7 805.6L590.3 805.8L590.8 804L591.4 800.5L591.9 797.1L592.5 790.5L593 790.6L593.6 790.5L593.9 790.9L593.8 792.4L593.6 794.4L593.5 796.3L593.3 797.7L593.3 799.7L593.5 801.3L593.3 803L593.8 804.9L593.9 806.2L593.6 807.9L593.2 809.8L593.7 811.4L593.5 813.4L593.7 815.2L593.8 816.5L593.9 818.3L593.5 819.4L592.4 819.9Z" fill="#4d4d4d"/>
<path d="M576.4 808V806.3M576.4 807.3V804.7M577.1 805.5V801.4M578.7 802.6V800.6M579.8 799.6V793.9M580.4 793.9V792.8M585.9 800.3V794.8M588.1 800.6V800M588.6 802.2V800.6M589.7 806.9V800.2M590.8 805V803.4M591.4 801.7V800.5" stroke="#4d4d4d" stroke-width="2.9" stroke-linecap="round" fill="none"/>
<path d="M598.2 819.9L597.1 819.4L596.7 818.3L597.3 817.4L597 815.4L597.1 813.4L597.2 811.4L597.4 809.8L596.8 808.2L597.4 806.8L597.5 805.2L597.4 803.4L597 801.7L596.7 799.9L597.2 800.2L597.8 798.9L598.3 796.7L598.9 785L599.4 781.6L600 778.6L600.5 777.6L601.1 775.5L601.6 775.6L602.2 775.6L602.7 777.4L603.3 778L603.8 780.1L604.4 783.1L604.9 793.9L605.5 796.6L606 797.2L606.6 797L607.1 796.5L607.7 796.2L608.2 796.9L608.8 797.4L609.3 798.1L609.9 800.3L610.4 802.2L611 804.4L611.5 804.4L612.1 804.5L612.3 804.4L611.5 805.9L611.8 807.8L611.9 809.9L612.2 812L611.7 813.3L612 814.9L612.1 816.3L611.8 817.7L612.3 818.3L611.9 819.4L610.8 819.9Z" fill="#b3b3b3"/>
<path d="M600 779.8V778.7M606 798.3V795.7M609.3 799.1V797.5M610.8 805V803.4M610.8 805.4V801.5" stroke="#b3b3b3" stroke-width="2.9" stroke-linecap="round" fill="none"/>
<path d="M616.7 819.9L615.6 819.4L615.2 818.3L615.9 817.4L615.3 815.6L615.8 813.8L615.4 811.9L615.8 810.5L615.7 808.4L615.5 807.1L615.3 805.1L615.9 803.4L615.2 800.5L615.8 800.9L616.3 800.4L616.8 800.1L617.4 799.6L617.9 799.9L618.5 799.7L619 801.3L619.6 801.6L620.1 801.5L620.7 800.7L621.2 799.2L621.8 790.8L622.3 787.6L622.9 786.6L623.4 786.6L624 791.3L624.5 795.6L625.1 801.6L625.6 803.2L626.2 804.5L626.7 805.4L627.3 806.5L627.8 806.8L628.4 807.2L628.9 807L629 807.6L628.8 809.1L628.5 810.5L628.3 811.8L628.6 813.4L628.8 815.4L628.4 817.6L629 818.3L628.6 819.4L627.5 819.9Z" fill="#4d4d4d"/>
<path d="M616.7 801.8V797.9M616.7 801.8V801.2M616.8 801.6V799.7M618.5 800.9V799.1M620.7 801.3V799.2M622.3 788.1V787.1M622.9 787.5V786.3M627.3 807.2V806.4M627.5 807.7V805.3M627.5 808.3V807" stroke="#4d4d4d" stroke-width="2.9" stroke-linecap="round" fill="none"/>
<path d="M633.4 819.9L632.3 819.4L631.9 818.3L632.5 817.4L632 816L632.2 814.1L631.9 812.7L632.5 810.6L632.6 809L631.9 807.2L632.4 806.9L633 806.3L633.5 805.8L634.1 804.2L634.6 804.2L635.2 803.7L635.7 803.8L636.3 804.3L636.8 804.8L637.4 804.8L637.9 806.2L638.5 809L639 809.4L639.6 806.7L640.1 804.5L640.7 804.6L641.2 803L641.8 804.9L642.3 805.5L642.9 806.3L643.4 807.9L644 809.2L644.5 809.7L645.1 809.7L645.6 809.8L646.2 809.1L646.7 809.7L647.3 809.7L647.8 809.7L648.4 809.6L648.9 809.6L649.5 810.2L650 809.7L650.6 809.5L651.1 809.3L651.7 806.9L652.2 804.2L652.8 800.5L653.3 798.3L653.9 798.7L654.4 801.5L655 802.3L655.5 803.6L656.1 804.9L656.6 805.6L657.2 806.6L657.7 806L658.3 803.9L658.8 802.2L659.4 802.1L659.9 802.4L660.5 802.2L661 803.5L661.6 807.6L662.1 808.6L662.7 808.6L663.2 807.2L662.8 808.7L663.1 810.7L663.1 813L662.4 814.4L662.4 816.3L663.2 818.3L662.8 819.4L661.7 819.9Z" fill="#b3b3b3"/>
<path d="M633.4 808.1V807M634.6 804.8V802.3M636.8 805.4V802.8M639 810.2V808.7M651.7 808.1V807.1M652.8 801.2V800.1M653.9 799.3V798.6M655 803.6V802.9M656.6 806.6V805.8M661 804.2V800.7M661.6 808.4V806.1M661.8 809.6V808.7" stroke="#b3b3b3" stroke-width="2.9" stroke-linecap="round" fill="none"/>
<path d="M71.1 803.1h0M70.7 801.2h0M71.1 804.9h0M71.2 802.4h0M71.7 805.2h0M72.2 805.3h0M72.1 799.4h0M72.3 798.1h0M72.8 805.3h0M73.4 803.7h0M73.9 806.4h0M74.4 806.6h0M74.4 800.4h0M75.5 802.3h0M76.1 805.9h0M76.6 806.4h0M76.9 802.6h0M77.2 805.9h0M77.8 803.8h0M78.3 806.9h0M78.8 806h0M79.4 806.6h0M79.2 802.7h0M79.9 806.4h0M81 806.7h0M81.6 805.2h0M82.1 804.9h0M83.2 803.5h0M84.9 807.6h0M86 809.4h0M86.5 809.6h0M87.6 809.8h0M87.6 803.9h0M89.3 809.7h0M89.8 809.5h0M89.8 805.3h0M90.4 809.6h0M90.2 805.7h0M90.9 809.2h0M91.5 808.6h0M92 807.9h0M92.6 807.7h0M93.1 808.2h0M94.5 805.1h0M95.3 807.3h0M95.9 807.3h0M96.5 806.4h0M97.5 807.2h0M97.5 803h0M98.6 806.4h0M98.7 806.7h0M99.2 806.8h0M99.7 806.3h0M99.7 805h0M100.3 807.4h0M100.2 806.6h0M100.5 803.2h0M100.8 807.5h0M101.4 808.4h0M101.9 808.7h0M102.5 808.6h0M103 808.8h0M104.1 808h0M104.3 806h0M105.2 803.6h0M105.8 809.8h0M105.7 808.1h0M106.3 810.1h0M106.3 807h0M106.9 809.3h0M107.3 809.8h0M107.3 807.6h0M107.7 806.3h0M108 809.9h0M108.5 810.1h0M108.3 809.4h0M109.3 808.3h0M109.6 809.6h0M110.2 808.7h0M110.7 808.2h0M111.8 809h0M112 807.9h0M112.4 809.2h0M113.5 809.3h0M113.4 808.5h0M114 808.8h0M114.6 808.8h0M115.1 808.8h0M115.7 808.7h0M116.2 804.4h0M116.8 807.8h0M117.3 806.1h0M117.9 804.7h0M117.8 799.2h0M117.9 795.9h0M118.4 803.6h0M119 803.8h0M119.5 803.8h0M119.4 800h0M119.9 804.1h0M120.6 803.5h0M121.6 803.3h0M122.3 805.5h0M122.2 800.2h0M122.8 807.5h0M123.9 807.4h0M123.9 793.9h0M124.5 807.5h0M124.9 807.1h0M125.6 807.4h0M126.1 807.2h0M126.2 803.9h0M126.7 807h0M126.7 802.9h0M127.2 806.3h0M127.9 801.2h0M128.3 804h0M128.9 804.5h0M128.9 790.1h0M129.4 804.7h0M129.4 799.6h0M130 804.8h0M130.5 803.9h0M130.6 804.7h0M130.6 804.3h0M130.6 804.1h0M77.4 783.9h0M119.1 787.1h0M119.1 793.7h0M127.7 793h0M73.6 795.6h0M92.6 797.5h0M128.6 795.2h0M128.6 799h0M84.6 800h0M89.7 801.9h0M99.8 800.9h0M92.2 804.2h0M96.4 804.7h0M172.4 804.2h0M172.4 803.5h0M172.7 802.8h0M173.2 799.6h0M173.8 804.2h0M173.9 799.6h0M174.3 803.2h0M174.9 804.2h0M176 805.8h0M176.5 805.6h0M178.7 807.6h0M179.2 807.4h0M179.8 807.6h0M179.9 807.2h0M181.5 807.4h0M181.3 804.1h0M182.2 805.8h0M182.6 805.5h0M183.1 806.5h0M183.7 807.1h0M184.2 807.6h0M184.2 805.1h0M184.8 807.4h0M184.5 805.5h0M184.5 802.7h0M185.9 807.7h0M185.9 803.5h0M186.4 806.9h0M186.2 807.5h0M186.8 805.2h0M187.5 807.3h0M188.6 806.4h0M189.2 806.5h0M189.7 805.8h0M189.7 801.1h0M190.3 800.7h0M190.8 804.4h0M191 803h0M191.4 804h0M191.9 803.9h0M192.5 804.3h0M192.6 802.1h0M192.4 799.9h0M193 804.4h0M192.8 804.4h0M192.8 800.3h0M193 799h0M194.8 803.2h0M195.2 804.7h0M195.8 803.7h0M195.8 803.2h0M196.3 798.3h0M196.9 803.3h0M196.9 801.8h0M198 804.3h0M198.5 805.2h0M199 800.6h0M199.6 805.9h0M199.6 805.7h0M199.6 806.3h0M199.6 805.9h0M186.9 790.9h0M186.9 796.2h0M173.7 797.5h0M178.4 797.7h0M195.1 797.7h0M199.3 798.7h0M182.8 800h0M190 800h0M238.1 806.2h0M238.1 805.6h0M238.1 805.3h0M238.4 806.2h0M239 805.9h0M239.3 805.1h0M240 806.2h0M240.2 803.2h0M240.6 805.4h0M240.7 801.8h0M241.7 804.4h0M241.6 797.9h0M241.7 795.5h0M243.3 805.7h0M243.1 803.2h0M243.9 805.7h0M243.7 806.4h0M244.9 804.4h0M245.5 806.6h0M246.4 801.2h0M247.2 804.5h0M248.8 803.5h0M248.8 798.1h0M249.4 804.2h0M249.4 793.5h0M250.5 804.1h0M251 788h0M251.6 802.7h0M251.7 799.9h0M252.7 803.7h0M252.8 797.2h0M253.2 803.9h0M253.2 797.8h0M253.9 802.6h0M254.3 804.3h0M254.2 800.1h0M255.4 803.9h0M255.4 803.3h0M256.5 804.7h0M257.1 804.1h0M258.7 803.9h0M258.8 800.6h0M258.8 803.8h0M258.8 803.7h0M241.6 792.4h0M253.6 793.3h0M247.3 795.6h0M241.6 796.2h0M251.1 798.1h0M254.3 796.2h0M239.7 800.4h0M257.4 799h0M300.4 805.4h0M300.7 802.5h0M300.7 805h0M301.2 805.5h0M301 801h0M301.1 799.1h0M301.1 797.8h0M301.6 798.4h0M302.3 804h0M302.9 804.1h0M302.7 802.6h0M303.4 803.3h0M303.2 798.5h0M303.4 793.2h0M304 802.6h0M304 798.5h0M304.3 798.7h0M305.1 801.5h0M305.1 798.5h0M306.2 800h0M306.7 799.2h0M307.3 795.3h0M307.8 801.3h0M308.9 804.1h0M310.1 801.3h0M310.7 804.2h0M311.1 808.3h0M311.1 800.6h0M311.5 806.8h0M312.2 808.6h0M313.9 808.2h0M314.4 808.2h0M315 807.7h0M315.5 805.4h0M315.7 800.4h0M316.3 796.1h0M315.8 794.8h0M316.6 801.1h0M317.2 800.9h0M317.3 798.8h0M318.3 801.2h0M318.8 802.2h0M318.9 798.6h0M319.9 805.2h0M319.7 801.1h0M321 803.4h0M321.6 805.8h0M322.7 807.1h0M322.5 807.4h0M323.2 803.2h0M324.3 807.4h0M324.4 805.7h0M325 804.9h0M325.4 806.9h0M325.2 806.7h0M325.4 806.7h0M325.4 806.4h0M306.6 779.1h0M309 782h0M306.6 784.4h0M308.5 785.8h0M306.6 789.5h0M308.8 792.4h0M319.9 792.4h0M306.6 793.7h0M300.3 795.2h0M315.1 795.6h0M303.7 798.1h0M318.9 797.1h0M323.3 800h0M364.6 802.7h0M364.4 800.1h0M364.3 798.9h0M364.6 804.5h0M364.8 804.6h0M364.8 799.8h0M365.2 802.3h0M365.8 801.2h0M366.4 803.7h0M367 803.8h0M366.8 802.2h0M367.5 802.9h0M368.1 803.5h0M368 801.7h0M368.6 803.2h0M369.2 802.6h0M369.7 802h0M370.5 792.8h0M370.5 791.6h0M371.9 806.8h0M371.9 800.8h0M372.2 805.9h0M373.6 807h0M373.9 802.1h0M373.8 800h0M375.3 801.3h0M375.7 803.5h0M376.3 805.5h0M377.4 805.4h0M378 805h0M378.5 805.6h0M379.1 805.7h0M380.6 804.6h0M381.3 805.1h0M381.2 802.4h0M381.7 803.6h0M382.4 806.3h0M382.9 807.2h0M383.1 803h0M383.5 807.6h0M383.5 799.5h0M384.2 803.2h0M384.6 808.9h0M385.1 808.2h0M385.7 808.2h0M386.2 808.4h0M386.3 805.6h0M386.8 808.2h0M386.5 808.8h0M387.3 808.9h0M387.9 809.1h0M388.4 808.1h0M390.1 806.5h0M390.6 804.6h0M391.2 804.1h0M391.3 800.9h0M392.3 804.5h0M392.7 803.7h0M393.3 804.5h0M393.8 804.6h0M393.5 802.6h0M393.8 804.8h0M393.8 804.7h0M393.8 801.3h0M379.3 783.3h0M370.5 784.8h0M370.5 788.6h0M370.5 791.4h0M376.2 793.3h0M380.6 793.3h0M370.7 795.2h0M392 797.1h0M364.8 799h0M383.4 797.1h0M376.8 800h0M390.6 796.2h0M392.8 800h0M419.9 803.7h0M419.7 798.3h0M420.2 802.6h0M419.9 803h0M420.1 799.8h0M420.2 803.2h0M420.1 800.8h0M421.3 803.6h0M421 801.1h0M421.8 803h0M421.6 797.2h0M422.4 803.7h0M423.5 805.9h0M423.3 802.4h0M424 799.2h0M424.6 807h0M425.1 808h0M425.2 803.6h0M425.8 803.9h0M426.1 806.7h0M426.8 809.1h0M426.7 808.7h0M426.8 803.9h0M427.9 809.6h0M428.6 805.8h0M428.4 803.1h0M429 809.5h0M429 806.3h0M429.3 806.4h0M430.1 807.3h0M430.6 807.6h0M430.5 806.6h0M431.7 807.5h0M431.9 803.2h0M432 804.2h0M433.4 803.2h0M433.9 806.2h0M435 807.8h0M434.8 800.9h0M435.6 808.3h0M435.9 807.9h0M435.9 807.8h0M435.9 808.1h0M435.9 807.7h0M435.9 801.4h0M423.8 794.9h0M420.4 796.2h0M425.1 797.1h0M428.9 800.6h0M434.6 800h0M421.3 800.9h0M459.3 804.2h0M459.3 801.3h0M459.4 804.4h0M459.3 806.5h0M459.2 803h0M459.6 806.7h0M461.2 805.4h0M461.8 806.7h0M461.8 790.2h0M462.3 806.9h0M463.4 808.5h0M464.5 808.4h0M465.1 809.1h0M465.6 808.3h0M466.7 804.2h0M468.4 808.5h0M468.9 809.7h0M469.5 809.7h0M470 809.6h0M469.9 808.8h0M470.6 809.4h0M471.1 808.8h0M471.7 809.7h0M472.2 809.7h0M472.8 808.2h0M473.9 807h0M473.9 801.6h0M474.4 807.1h0M475 807.9h0M475.5 807.8h0M476.1 808h0M476.1 806.6h0M476.6 807.4h0M477.1 806.7h0M478.3 808h0M479.9 804.7h0M480.5 808h0M481 807.9h0M481.6 808.2h0M482.1 807.9h0M482.3 808.3h0M482.7 808.4h0M483.2 808.4h0M483.8 808.2h0M483.9 808.6h0M485.4 808.4h0M485.5 805.6h0M486 808.5h0M486.5 808.1h0M486.4 806.7h0M487.1 808.1h0M487.6 808h0M487.7 806.5h0M488.2 807.4h0M488.7 806.8h0M489.8 804h0M490.4 803.1h0M490.9 805.7h0M491.5 808.1h0M492.6 809.6h0M492.5 806.5h0M492.4 802.5h0M493.1 809.3h0M493.7 809.2h0M493.7 799.5h0M494.2 809.9h0M494.2 807.3h0M494.8 810h0M494.6 807.5h0M495.3 809.8h0M495.9 809.4h0M495.9 801.9h0M496.4 808.7h0M497.5 806h0M498.1 805.8h0M498.6 806.7h0M498.4 803.2h0M499.2 807.3h0M499.1 805.4h0M500.3 807.2h0M500.6 806.7h0M500.6 806.9h0M500.6 807h0M500.8 804.3h0M500.6 806.9h0M460.2 782h0M462.1 783.9h0M461.2 793.7h0M466.5 798.5h0M489.6 799h0M492.1 800h0M467.8 804.2h0M473.5 803.2h0M478.6 804.4h0M486.8 807h0M541 805.7h0M541.2 802.8h0M541 805.8h0M541 805.8h0M541.1 806.6h0M541.7 805.8h0M542.2 806.2h0M542.3 806h0M543.3 805.9h0M543.9 806.3h0M543.8 802.9h0M544.4 806.7h0M545.5 805.2h0M546.1 804h0M546.2 801.4h0M546.9 801.8h0M547.2 803.6h0M548.8 806h0M548.9 802.3h0M549.4 807.9h0M551.2 805.3h0M551.7 806.9h0M552.1 808.2h0M552.7 809.2h0M552.9 807.4h0M553.2 810.2h0M553.8 810.1h0M554.3 809.6h0M554.5 809.8h0M555.1 805.8h0M557.2 801.4h0M557.6 804.9h0M558.4 801.6h0M558.7 799.7h0M559.8 807.3h0M560.1 802.2h0M560.4 808.8h0M560.4 806.1h0M561.7 806.6h0M562 809.2h0M562 799.2h0M562.7 801.3h0M563.1 807.7h0M563.4 800h0M563.1 789.6h0M563.7 805h0M564.4 794.1h0M564.8 799.9h0M566.4 798.3h0M567.5 801.2h0M568.1 801.8h0M567.9 797.7h0M568.6 802.2h0M568.5 796.9h0M569.2 803.4h0M569 797.5h0M569.7 803h0M570.3 802.8h0M570.7 801.2h0M570.6 803.4h0M570.4 799.1h0M570.7 799.3h0M565.9 781.6h0M565.9 787.3h0M548.8 790.1h0M560.2 789.5h0M553.7 792.4h0M546.5 793.7h0M549.7 794.9h0M542.1 799h0M547.1 799h0M558.8 796.2h0M556.9 799h0M597.9 794.6h0M598.2 800.2h0M598.2 794.7h0M598.3 792.8h0M598.5 796.1h0M598.9 800.4h0M599.4 799.4h0M600 797h0M600 777.6h0M600.5 785.8h0M601.1 782h0M601.6 779.1h0M601.7 774.4h0M602.7 783.6h0M602.8 777h0M603 775.7h0M603.3 794.5h0M603.5 779h0M603.8 796.4h0M605.2 788.6h0M605.5 797.6h0M605.4 797h0M605.5 786.2h0M606 797.6h0M605.9 793.8h0M606.6 797.6h0M606.7 791.5h0M607.1 797.8h0M607.2 797.4h0M607.7 798h0M607.5 791.7h0M608.2 800.4h0M608.8 796.7h0M609.3 789.7h0M609.9 804.2h0M610 799.8h0M609.7 794.3h0M610.4 805.1h0M610.6 803.1h0M610.8 804.6h0M611 803.3h0M610.8 799.2h0M611 801.8h0M610.8 805.2h0M610.8 803.8h0M610.8 804.9h0M610.7 802h0M601.9 779.1h0M601.2 782h0M604 783.9h0M600.6 786.7h0M603.4 786.7h0M599.6 789.5h0M605.3 790.5h0M602.5 792.4h0M607.8 792.4h0M609.1 797.1h0M606.3 795.2h0M633.4 805.7h0M633.5 807.4h0M633.7 804.6h0M634.1 807.4h0M634.6 807.2h0M635.2 806.5h0M635.7 805.2h0M637.4 809.3h0M637.9 809.7h0M639 809.8h0M639.6 809.1h0M640.1 810h0M640.7 809.1h0M640.5 804.6h0M641.7 804.9h0M642.5 806h0M642.9 805.6h0M643.4 810.5h0M644 810h0M644.5 810.4h0M645.1 809.9h0M645.6 810.6h0M646.2 810.4h0M646.7 810.4h0M647.8 810.5h0M648.4 810.4h0M649.5 810.5h0M650 810.6h0M650 807.4h0M650.6 810.5h0M650.6 805.5h0M651.1 810.3h0M651.2 809.1h0M652.8 809.5h0M654.4 804.7h0M654.6 799.6h0M655 806h0M655 801h0M655.5 807h0M657.2 806.7h0M657.2 803h0M658.2 802.6h0M658.8 799.5h0M659.3 802.8h0M659.9 807.7h0M659.9 798.2h0M659.8 796.9h0M660.5 808.7h0M660.3 801.3h0M661 801.3h0M660.8 799.9h0M661.1 798.6h0M661.5 808h0M661.8 808.9h0M661.8 808.5h0M642.3 797.7h0M654.1 796.2h0M659.8 795.2h0M660.3 797.1h0M640.8 800.9h0M634.7 802.8h0M641.4 805.7h0M601.3 779.5h0" stroke="#b3b3b3" stroke-width="2.9" stroke-linecap="round" fill="none"/>
<path d="M136.3 807.5h0M136.6 808.2h0M137.1 807.8h0M138.2 807.5h0M138.8 807.6h0M139.9 807h0M139.9 801h0M140.4 806.7h0M140.4 802.1h0M141.5 803.5h0M142 800.8h0M142.6 801.8h0M143.2 801.4h0M143.3 795.6h0M143.7 803.1h0M143.7 791h0M144.1 800.9h0M144.8 805.6h0M145.4 806.2h0M145.5 803.2h0M146 805.1h0M147 805.7h0M147.1 805.8h0M147 795.4h0M147.6 806h0M147.4 803.5h0M148.1 805.2h0M148.7 805.5h0M148.7 798h0M149.8 804.3h0M149.9 800.2h0M150.3 803.2h0M151.4 802.7h0M151.4 798.1h0M152 803.1h0M151.9 802.3h0M152.5 804.9h0M152.6 801h0M153.1 806.5h0M153.6 807.4h0M154.7 808.9h0M155.4 808h0M155.3 803.4h0M155.8 808.4h0M156.4 808.1h0M156.9 808.6h0M156.8 806.7h0M156.9 799.8h0M157.5 808.3h0M157.2 805.9h0M158.6 806.9h0M159.1 806.3h0M160.2 804.2h0M160.1 803h0M160.5 801.3h0M161.5 801.9h0M161.9 804.6h0M161.7 799.7h0M162.4 804.3h0M163.3 800.4h0M164 803.9h0M165.2 804.4h0M165.7 799.7h0M166.8 805h0M166.8 804.5h0M167 804h0M166.7 805.1h0M166.8 782h0M142.5 794.7h0M161.5 795.2h0M159.6 798.1h0M150.1 799h0M136.8 800.9h0M153.9 800h0M164.3 800.9h0M161.5 799h0M205.4 800.1h0M205.4 800.5h0M205.2 799.8h0M205.6 798h0M207.3 798.8h0M209 805.1h0M210.1 806h0M210.1 797.8h0M210.6 805.6h0M210.4 804.3h0M211.2 806h0M211 805.9h0M211.7 805.6h0M212.1 804.4h0M213.4 805.7h0M213.3 797.4h0M213.4 794.8h0M213.9 804.6h0M213.8 795.4h0M215.6 805.8h0M217.2 806.2h0M218.9 806.5h0M219.4 807.1h0M220 806.9h0M220.5 807.4h0M220.4 801.3h0M220.7 800h0M221.2 806.1h0M222.2 807h0M222.7 807h0M222.6 806.9h0M223.8 807h0M224.4 797.7h0M224.9 805.2h0M226 804.4h0M226.5 802h0M228.2 803.7h0M228.6 802.1h0M229.3 804.2h0M229.1 803.2h0M230.4 803.8h0M230.4 801.5h0M231 802.9h0M232.1 804h0M232.6 803.6h0M232.7 800.4h0M232.6 803.4h0M232.6 803.3h0M232.6 804.1h0M232.5 804.2h0M205.5 790.1h0M207.4 790.9h0M205.5 794.3h0M209 794.9h0M213.7 795.6h0M206.1 799h0M225.9 797.1h0M219.2 799h0M230.2 799h0M227.4 800h0M216.9 802.8h0M221.7 803.8h0M264.8 802.1h0M265.1 806.8h0M266.2 806.7h0M266.7 806h0M267.3 805.9h0M267.7 803.7h0M268.4 805h0M268.9 805.4h0M269.5 804.9h0M270 805h0M270.4 805.2h0M271.1 805.1h0M271.7 805.1h0M272.2 805.4h0M272.2 804.3h0M272.7 804.1h0M274 804.4h0M275 806.1h0M275.5 806h0M275.6 805.8h0M275.5 797.5h0M276.6 805.8h0M277.2 805.5h0M277.7 805.7h0M278.4 800.5h0M278.8 803.9h0M279.4 804.6h0M279.6 803.7h0M279.9 805.1h0M280.5 805.2h0M281.6 805.2h0M282.1 805.1h0M282.7 805.5h0M282.6 801.7h0M283.2 805.7h0M283.9 805.8h0M283.8 797.8h0M284.3 805.9h0M285 802.2h0M285.4 805.9h0M285.3 806.6h0M286 807.1h0M287.1 806.4h0M287.1 805.9h0M287.1 799.1h0M287.6 807h0M287.4 805.7h0M287.6 802.5h0M288.7 807.3h0M288.9 804.4h0M289.3 806.9h0M289.8 806.7h0M289.8 798.5h0M290.9 804.9h0M290.9 799.3h0M291.9 803.4h0M292.6 804.5h0M293.7 805.3h0M294.2 804.8h0M294 805.2h0M294.2 805.1h0M294.2 805.3h0M293.9 803h0M264.9 786.7h0M281.8 795.2h0M267.8 798.7h0M276.1 799h0M281.5 798.1h0M272 800.9h0M294.6 791.4h0M293.3 795.6h0M292.3 800.9h0M331.1 806.5h0M331.2 803.4h0M331.2 804.2h0M331.1 805.6h0M331.3 803h0M331.2 803.6h0M331.9 805.3h0M331.9 800h0M332.5 805.1h0M333 804.1h0M333.6 802.9h0M335.8 806.5h0M336.3 808.1h0M336.9 809.3h0M337.5 803.2h0M338 810.7h0M338 803.7h0M338.4 808h0M339.1 810.6h0M338.8 810.3h0M339.6 810.1h0M340.2 806.6h0M340.7 810.3h0M341.3 810h0M341.8 810.5h0M342.9 810.5h0M343.5 810.1h0M344.8 805.1h0M344.6 804h0M345.1 808.4h0M345.7 806.8h0M346.2 806.1h0M346.8 805.1h0M346.7 803.8h0M347.2 802.5h0M347.9 804.4h0M348.1 803.7h0M348.4 804.1h0M349 804.2h0M349.5 804.3h0M349.6 803.1h0M350.6 803.1h0M351.2 803.6h0M352.3 803.7h0M352.8 803.5h0M352.9 801.5h0M352.8 796.1h0M353.4 801.5h0M354 797.6h0M354 796.4h0M354.3 800.5h0M356.1 802.2h0M356.7 805.6h0M357.2 807.3h0M357.3 803.7h0M357.2 798.3h0M357.8 807.2h0M357.6 803.2h0M358.3 807.5h0M358.2 805.4h0M359.1 807.5h0M359.1 801.8h0M359.2 806.6h0M355.3 789h0M348.3 793.7h0M335 794.9h0M333.1 795.6h0M345.5 800.4h0M355.3 797.1h0M351.5 799h0M399.4 808.4h0M399.4 808.6h0M399.4 801.6h0M399.4 808.7h0M399.7 808.2h0M399.6 806.5h0M400.2 808.4h0M400.2 800.9h0M400.8 808.9h0M401 804.6h0M401.7 803.7h0M402.4 807.2h0M402.3 801.8h0M403.1 799.3h0M403.5 806.5h0M403.9 797.9h0M404.4 796.1h0M405.2 801.2h0M407.4 800.5h0M407.9 800.7h0M407.9 797.5h0M409.6 802.5h0M409.4 801.1h0M410.1 803.2h0M410 801.9h0M410.6 797.7h0M411.2 805.6h0M411.2 798.4h0M411.8 806.2h0M412.9 806.5h0M413.4 806.9h0M413.6 804.5h0M414 806.7h0M413.9 802.9h0M414 801.7h0M414.2 807h0M414.1 807.1h0M414.2 807h0M414.2 806.8h0M414 807h0M414.3 803.4h0M405.3 791.4h0M405.3 793.7h0M401.5 799h0M407.2 798.1h0M403.3 795.6h0M407.1 794.9h0M409.9 797.7h0M411.8 800.6h0M441.8 803.5h0M441.8 804.6h0M441.6 799.1h0M441.8 804.8h0M442.2 804h0M442.5 804.7h0M442.5 797.4h0M444.1 803.6h0M444.7 804.9h0M444.7 799h0M445.3 804.5h0M445.8 805.4h0M446.4 805.2h0M447.1 802.2h0M447.5 801.3h0M448 804.5h0M448.6 804.2h0M450.2 804.4h0M450.2 802.5h0M450.6 805.2h0M451.9 804.8h0M452.4 804.5h0M452.7 803.5h0M454.1 803.8h0M454 803.7h0M454.1 803.8h0M454.1 803.7h0M454.1 804.1h0M454.1 801.1h0M443.7 797.7h0M449.8 798.5h0M452.6 798.5h0M454 800.9h0M442.2 800h0M446.9 801.9h0M506.1 802.8h0M506.2 799.8h0M506.1 803h0M506 801.6h0M506.1 802.9h0M506.4 803.5h0M506.9 803.4h0M506.9 798.7h0M507.5 802.9h0M508 803.7h0M508.6 804.2h0M509.1 804.3h0M509.3 798.7h0M509.7 805.3h0M510.2 805.2h0M510 802.3h0M511.2 805.3h0M512.4 807h0M512.8 803h0M514 809.1h0M513.9 804.5h0M514.6 809.3h0M514.7 807.8h0M515.1 809.4h0M516.2 807h0M516.8 809.2h0M517 804.5h0M517.3 808h0M517.3 801.2h0M517.9 795.7h0M519.1 797.3h0M520.6 805.2h0M521.7 805.3h0M521.8 803h0M522.3 805.2h0M522.3 797.5h0M522.8 805.6h0M523 797.9h0M523.4 796.5h0M523.9 807.3h0M524.5 807.9h0M526.7 807.7h0M527.8 807.9h0M528.3 808h0M528.2 806.3h0M528.4 802h0M528.9 807.6h0M529.8 804.3h0M530.5 807h0M532.2 806.8h0M532 805.7h0M532.7 806.9h0M532.8 803.9h0M533.3 806.8h0M533.8 806.1h0M534.9 806.4h0M535.3 806.1h0M535.1 805.7h0M535 805.1h0M535 800.4h0M535 799.2h0M508.2 787.3h0M518.4 794.3h0M533.8 795.2h0M523.2 797.7h0M513.3 799h0M532.6 799.4h0M518 800h0M523.7 800.6h0M516.1 805.7h0M576.4 807.6h0M576.4 802.3h0M576.4 807.6h0M576.4 807.9h0M576.2 804.4h0M577.1 807h0M576.9 803.1h0M577.7 802.4h0M579.4 800.7h0M579.8 803.3h0M579.9 798.7h0M580.4 792h0M580.9 803.4h0M580.9 791.6h0M581.5 805.7h0M582 806.3h0M582.7 801.9h0M583.2 802.8h0M583.7 800.5h0M584.1 806.8h0M584.2 800.4h0M585.5 801.1h0M586.4 804.1h0M587 802.5h0M588.1 806h0M588.3 800.3h0M588.7 797.2h0M589 803.3h0M589.7 806.9h0M589.9 803.4h0M590.3 807h0M590.1 803.6h0M590.3 799.9h0M590.8 806.2h0M590.7 800.1h0M591.4 807h0M591.4 801.1h0M591.9 806.4h0M592.4 804h0M592.4 801.2h0M592.4 791.3h0M576.9 790.1h0M581 791.4h0M592.4 792.4h0M589.2 794.3h0M586.4 795.2h0M582.9 799h0M576.9 799h0M583.5 800.9h0M587.3 799h0M616.7 799.3h0M616.8 798.5h0M616.8 800.8h0M617.4 801.3h0M617.6 797.7h0M617.9 802h0M617.7 798.8h0M618.4 800.2h0M618.8 798.8h0M619.6 802.3h0M619.5 801.7h0M620.1 802.3h0M620.4 799.9h0M621.2 802.7h0M622.3 800.3h0M622.6 787.2h0M623.4 801.5h0M624 803.6h0M625.1 805.8h0M625.6 795.1h0M626.7 807.5h0M627.3 808h0M627.5 802.2h0M627.5 807.8h0M627.5 808.1h0M627.5 808.2h0M627.8 806.6h0M623.3 785.4h0M623.3 789.5h0M623.7 793.7h0M618 796.8h0M623.3 799h0M621.4 800.9h0M264.8 786.7h0" stroke="#4d4d4d" stroke-width="2.9" stroke-linecap="round" fill="none"/>
<path d="M250.9 770.6h0M250.9 772.3h0M250.9 773.9h0M306.4 767.6h0M459.8 771.9h0M601.4 766h0M601.3 769.5h0M601.3 775.5h0" stroke="#00ff00" stroke-width="3.2" stroke-linecap="round" fill="none"/>
<path d="M250.9 750.8h0M601.4 690.9h0M601.1 734h0M601 740h0M602.2 741h0M601.1 745.1h0M601.1 750.5h0M601.1 754.3h0" stroke="#ff6347" stroke-width="3.8" stroke-linecap="round" fill="none"/>
<line x1="47" x2="47" y1="686.9" y2="818.6" stroke="#c8c8c8" stroke-width="2"/>
<path d="M42 818.5H47.2M42 799.5H47.2M42 780.5H47.2M42 771.5H47.2M42 706.5H47.2" stroke="#858585" stroke-width="1" fill="none"/>
<path d="M42 808.5H47.2M42 743.5H47.2M42 696.5H47.2" stroke="#444" stroke-width="1" fill="none"/>
<path d="M42 790.5H47.2M42 762.5H47.2" stroke="#dedede" stroke-width="1" fill="none"/>
<path d="M42 752.5H47.2M42 724.5H47.2M42 687.5H47.2" stroke="#c2c2c2" stroke-width="1" fill="none"/>
<path d="M42 734.5H47.2" stroke="#606060" stroke-width="1" fill="none"/>
<path d="M42 715.5H47.2" stroke="#a4a4a4" stroke-width="1" fill="none"/>
<text class="t" text-anchor="middle" transform="translate(35.1 824) rotate(-90)">0</text>
<text class="t" text-anchor="middle" transform="translate(35.1 796.3) rotate(-90)">3</text>
<text class="t" text-anchor="middle" transform="translate(35.1 767.8) rotate(-90)">6</text>
<text class="t" text-anchor="middle" transform="translate(35.1 739.8) rotate(-90)">9</text>
<text class="t" text-anchor="middle" transform="translate(35.1 711.4) rotate(-90)">12</text>
<text class="t" text-anchor="middle" transform="translate(11.6 760.5) rotate(-90)">log(1/p)</text>
<line x1="99" x2="648" y1="823.6" y2="823.6" stroke="#8c8c8c" stroke-width="1.0"/>
<path d="M99.6 823.6V828.6M151.6 823.6V828.6M186.4 823.6V828.6M219 823.6V828.6M248.4 823.6V828.6M279.5 823.6V828.6M312.6 823.6V828.6M345.7 823.6V828.6M378.7 823.6V828.6M407.1 823.6V828.6M447.3 823.6V828.6M478.4 823.6V828.6M520.5 823.6V828.6M555.6 823.6V828.6M605.3 823.6V828.6M622.4 823.6V828.6M647.4 823.6V828.6" stroke="#555" stroke-width="0.55" fill="none"/>
<path d="M428.5 823.6V828.6M584.4 823.6V828.6" stroke="#111" stroke-width="1.1" fill="none"/>
<text class="t" text-anchor="middle" x="95.1" y="846.7">1</text>
<text class="t" text-anchor="middle" x="147.1" y="846.7">2</text>
<text class="t" text-anchor="middle" x="181.9" y="846.7">3</text>
<text class="t" text-anchor="middle" x="214.5" y="846.7">4</text>
<text class="t" text-anchor="middle" x="243.9" y="846.7">5</text>
<text class="t" text-anchor="middle" x="275" y="846.7">6</text>
<text class="t" text-anchor="middle" x="308.1" y="846.7">7</text>
<text class="t" text-anchor="middle" x="341.2" y="846.7">8</text>
<text class="t" text-anchor="middle" x="374.2" y="846.7">9</text>
<text class="t" text-anchor="middle" x="402.6" y="846.7">10</text>
<text class="t" text-anchor="middle" x="442.8" y="846.7">12</text>
<text class="t" text-anchor="middle" x="473.9" y="846.7">13</text>
<text class="t" text-anchor="middle" x="516" y="846.7">14</text>
<text class="t" text-anchor="middle" x="551.1" y="846.7">15</text>
<text class="t" text-anchor="middle" x="600.8" y="846.7">17</text>
<text class="t" text-anchor="middle" x="642.9" y="846.7">X</text>
<text class="t" text-anchor="middle" x="364.1" y="867.3">Chromosome</text>
<text class="t" x="54" y="703.2">Leg bones</text>
<text class="l" style="font-size:17px" x="6.5" y="683.5">d</text>
</g>
</svg>
</body>
</html>
